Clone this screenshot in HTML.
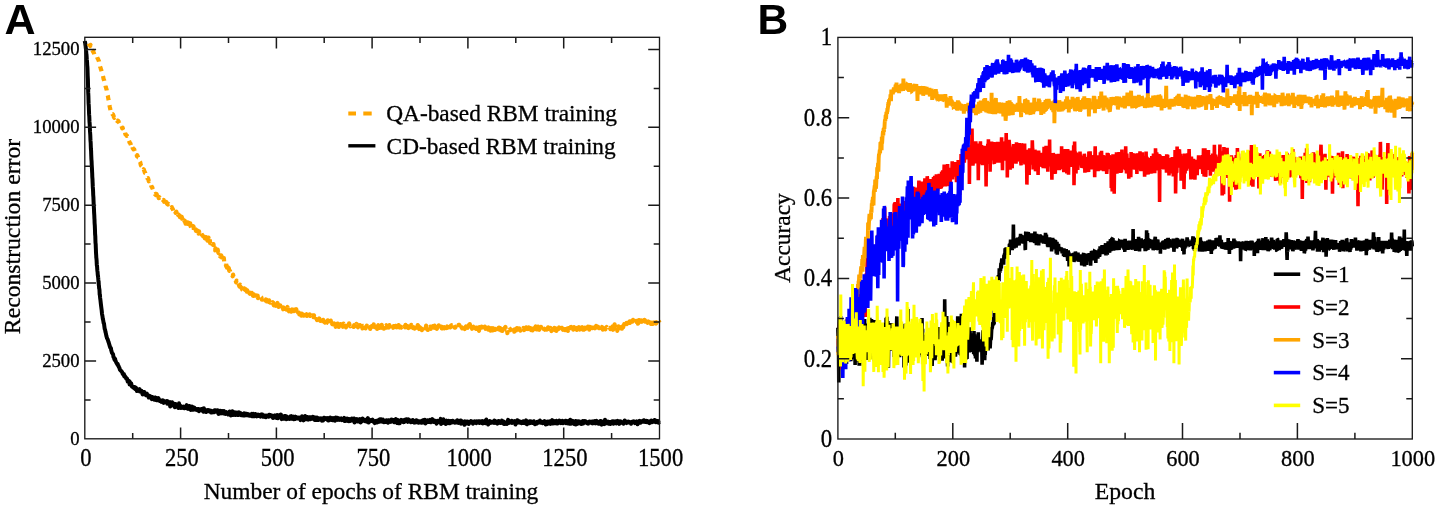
<!DOCTYPE html><html><head><meta charset="utf-8"><style>html,body{margin:0;padding:0;background:#fff;overflow:hidden}svg{display:block}text{-webkit-font-smoothing:antialiased}svg{will-change:transform}</style></head><body>
<svg width="1440" height="509" viewBox="0 0 1440 509">
<rect width="1440" height="509" fill="#fff"/>
<text x="4.6" y="33.9" font-family="Liberation Sans" font-weight="bold" font-size="43">A</text>
<text x="757.6" y="33.8" font-family="Liberation Sans" font-weight="bold" font-size="42.5">B</text>
<polyline fill="none" points="84.8,41 84.9,41.9 85.1,42.5 85.2,42.9 85.3,43.8 85.4,44.7 85.6,45.9 85.7,46.9 85.8,48.2 86,48.8 86.1,50.9 86.2,51.8 86.3,53.4 86.5,54.5 86.6,55.9 86.7,57.6 86.8,59.4 87,60.9 87.1,62.8 87.2,65.1 87.4,67 87.5,69.2 87.6,72.6 87.7,75.8 87.9,79.4 88,84 88.1,88.4 88.2,92.4 88.4,96.2 88.5,100.1 88.6,103.4 88.8,106 88.9,108.7 89,111.7 89.1,114.4 89.3,116.7 89.4,119.4 89.5,121.9 89.7,124 89.8,126.1 89.9,128.8 90,131.2 90.2,133.9 90.3,135.5 90.4,138.2 90.5,140.7 90.7,143 90.8,146.1 90.9,148.8 91.1,150.9 91.2,154.2 91.3,156.6 91.4,159.1 91.6,161.5 91.7,164.3 91.8,166 92,169.3 92.1,171.8 92.2,173.5 92.3,176.8 92.5,179.2 92.6,182.1 92.7,184.2 92.8,186.9 93,189.6 93.1,191.7 93.2,194.8 93.4,197.1 93.5,199.9 93.6,202.1 93.7,205.2 93.9,207.6 94,209.9 94.1,212.7 94.3,215.5 94.4,218.3 94.5,219.5 94.6,223.1 94.8,225.6 94.9,228.2 95,230.6 95.1,234.3 95.3,236.1 95.4,239.7 95.5,242.7 95.7,244.2 95.8,247.4 95.9,249.5 96,252.6 96.2,255.4 96.3,257.8 96.4,258.1 96.6,260.4 96.7,262.7 96.8,264.7 96.9,265.7 97.1,266.7 97.2,268.6 97.3,269.8 97.4,271 97.6,272.1 97.7,273.8 97.8,275 98,276 98.1,277.2 98.2,277.9 98.3,279.4 98.5,281.4 98.6,282 98.7,282.6 98.8,285.1 99,286 99.1,288.1 99.2,288.4 99.4,289.4 99.5,290.3 99.6,292.9 99.7,294.9 99.9,294.5 100,295.8 100.1,297.7 100.5,300.6 100.9,304.3 101.3,307.4 101.7,310.5 102,313.8 102.4,315.8 102.8,318.7 103.2,320.3 103.6,322.9 104,323.6 104.3,325.9 104.7,328.9 105.1,329.8 105.5,332.1 105.9,333.6 106.3,335.6 106.6,336.7 107,338.2 107.4,338.8 107.8,339.8 108.2,341 108.6,342.3 108.9,343.1 109.3,344.5 109.7,345.9 110.1,347.2 110.5,347.9 110.9,347.9 111.2,350.2 111.6,351.4 112,352.9 112.4,353.5 112.8,353.7 113.1,354.5 113.5,357.3 113.9,357.3 114.3,359 114.7,360 115.1,358.8 115.4,360.5 115.8,361.4 116.2,362.3 116.6,363.1 117,363.7 117.4,364.4 117.7,363.9 118.1,365.6 118.5,365.9 118.9,367.2 119.3,367.5 119.7,368.9 120,369.8 120.4,370 120.8,370.7 121.2,371.1 121.6,371.3 122,372.2 122.3,372.5 122.7,373.8 123.1,374.1 123.5,375.1 123.9,374.1 124.3,376.5 124.6,375.7 125,376.2 125.4,377.2 125.8,377.4 126.2,378.7 126.6,378.5 126.9,378.5 127.3,379.3 127.7,381.6 128.1,381 128.5,380.5 128.9,382 129.2,381.1 129.6,384.5 130,382 130.4,384.3 130.8,384.8 131.2,383.4 131.5,385.4 131.9,386.4 132.3,386.3 132.7,386.5 133.1,387.4 133.5,387 133.8,387.5 134.2,387.4 134.6,388.4 135,387.2 135.4,389.1 135.8,388.2 136.1,387.9 136.5,389.5 136.9,391 137.3,390.6 137.7,389.5 138.1,390.8 138.4,390 138.8,390.6 139.2,391 139.6,389.1 140,391.6 140.3,390.7 140.7,391.2 141.1,390.7 141.5,390.9 141.9,391.6 142.3,393.4 142.6,394.4 143,393.1 143.4,394.3 143.8,393.2 144.2,392 144.6,394 144.9,394.5 145.3,393.9 145.7,394.7 146.1,395.2 146.5,394.1 146.9,393.7 147.2,395 147.6,395.2 148,395.3 148.4,396.7 148.8,397.5 149.2,395.7 149.5,396.9 149.9,397.3 150.3,397.3 150.7,397.7 151.1,396.6 151.5,397.8 151.8,399.1 152.2,398.2 152.6,397.1 153,398.3 153.4,399.1 153.8,398.4 154.1,397.7 154.5,399.8 154.9,397.4 155.3,399.1 155.7,398.8 156.1,397.9 156.4,400.2 156.8,399.6 157.2,398.4 157.6,400.1 158,399.3 158.4,398.1 158.7,399.3 159.1,400.3 159.5,400.8 159.9,400.5 160.3,400.5 160.7,401 161,400.5 161.4,401.9 161.8,401.1 162.2,401.3 162.6,401.7 163,400.3 163.3,400.8 163.7,402.9 164.1,401.9 164.5,401.5 164.9,402.2 165.3,401.5 165.6,402.3 166,401.6 166.4,402.5 166.8,401 167.2,403.7 167.6,402.1 167.9,401.3 168.3,402.6 168.7,402.6 169.1,403.2 169.5,402.1 169.8,403.6 170.2,406.6 170.6,402.3 171,403.8 171.4,403.4 171.8,403.9 172.1,402.2 172.5,402.9 172.9,404.5 173.3,404.1 173.7,405.8 174.1,403.8 174.4,404.7 174.8,407.2 175.2,404 175.6,404 176,404.9 176.4,405 176.7,405.9 177.1,405.4 177.5,404.7 177.9,405.7 178.3,408 178.7,406.8 179,403.3 179.4,405.8 179.8,405.2 180.2,406.7 180.6,406 181,408 181.3,407.2 181.7,407.3 182.1,406.8 182.5,406.7 182.9,407.1 183.3,408 183.6,407.4 184,406.7 184.4,408.3 184.8,407.4 185.2,407.2 185.6,406.7 185.9,407 186.3,407 186.7,405.1 187.1,408.6 187.5,408.3 187.9,407.6 188.2,408.9 188.6,408.4 189,408.4 189.4,405.9 189.8,408 190.2,408.7 190.5,409.8 190.9,410 191.3,409.7 191.7,407.5 192.1,406.6 192.5,409.2 192.8,408.7 193.2,409.6 193.6,408.7 194,409.1 194.4,407.6 194.8,409.4 195.1,408.7 195.5,409.4 195.9,409.6 196.3,409.1 196.7,409.6 197,409.3 197.4,410.1 197.8,409.9 198.2,409 198.6,409 199,411.2 199.3,409.6 199.7,410.6 200.1,410.1 200.5,409.3 200.9,409.2 201.3,410 201.6,410.2 202,410.6 202.4,408.9 202.8,409.6 203.2,410.1 203.6,411.7 203.9,408.2 204.3,410.7 204.7,409.9 205.1,410.8 205.5,410 205.9,410.9 206.2,412 206.6,410.9 207,411.1 207.4,411.1 207.8,410.1 208.2,411.3 208.5,410.7 208.9,410.2 209.3,410.9 209.7,410.8 210.1,411.7 210.5,411 210.8,410.6 211.2,412.5 211.6,412.1 212,412.4 212.4,411.8 212.8,411.2 213.1,411 213.5,411.2 213.9,412.3 214.3,411.6 214.7,410.2 215.1,411.6 215.4,410.4 215.8,411.8 216.2,410.6 216.6,410.6 217,411.9 217.4,411.8 217.7,410.4 218.1,412.6 218.5,413.9 218.9,410.7 219.3,413.7 219.7,411.5 220,411.7 220.4,412 220.8,410.9 221.2,413.4 221.6,412.8 221.9,411.7 222.3,412.1 222.7,411.1 223.1,412.2 223.5,413.4 223.9,411 224.2,412.2 224.6,412.8 225,413.6 225.4,413.9 225.8,412.4 226.2,412.1 226.5,413.3 226.9,412.6 227.3,412.7 227.7,414 228.1,414.5 228.5,413.3 228.8,412.9 229.2,413.7 229.6,411.5 230,413.2 230.4,412.3 230.8,415.5 231.1,414 231.5,413.5 231.9,413.3 232.3,411.2 232.7,414.2 233.1,415 233.4,412.9 233.8,414.2 234.2,414.3 234.6,412.3 235,414.6 235.4,415 235.7,414 236.1,413.8 236.5,414.6 236.9,412.5 237.3,414.1 237.7,415 238,412.9 238.4,415 238.8,413.7 239.2,412.3 239.6,414.1 240,413.3 240.3,414.5 240.7,413.2 241.1,415.2 241.5,413.7 241.9,414.7 242.3,413.9 242.6,414.1 243,415.5 243.4,414.7 243.8,414.2 244.2,413.4 244.6,415.6 244.9,415.2 245.3,414.3 245.7,414.9 246.1,413.7 246.5,413.8 246.9,414 247.2,415.1 247.6,415 248,414.1 248.4,415.5 248.8,415.6 249.2,415 249.5,415.8 249.9,414.7 250.3,414.8 250.7,415.4 251.1,415 251.4,415.7 251.8,413.9 252.2,416.3 252.6,414.4 253,415 253.4,413.9 253.7,415.7 254.1,416.3 254.5,416.2 254.9,416 255.3,413.9 255.7,414.6 256,414.9 256.4,414.5 256.8,416.4 257.2,415.5 257.6,415.4 258,415.9 258.3,414.6 258.7,414.7 259.1,414.7 259.5,416 259.9,415.9 260.3,416.1 260.6,416.6 261,414.4 261.4,415.1 261.8,415.8 262.2,414.5 262.6,415.2 262.9,416.7 263.3,416.8 263.7,416.8 264.1,415.9 264.5,415.7 264.9,416.9 265.2,415.6 265.6,416.2 266,417.2 266.4,415.7 266.8,415.5 267.2,416 267.5,416.6 267.9,416.5 268.3,416.3 268.7,416.6 269.1,414.7 269.5,415.4 269.8,416.4 270.2,415.4 270.6,415.1 271,415.2 271.4,415.5 271.8,416.2 272.1,415.5 272.5,416.6 272.9,418 273.3,416.3 273.7,417.6 274.1,416.8 274.4,415.5 274.8,416.3 275.2,415.7 275.6,417.3 276,415.6 276.4,417.9 276.7,417.2 277.1,414.9 277.5,417.4 277.9,418.2 278.3,416.1 278.6,417.7 279,415.2 279.4,417.1 279.8,415.4 280.2,417.4 280.6,415.3 280.9,414.6 281.3,417.4 281.7,419.1 282.1,416.5 282.5,417.8 282.9,417.2 283.2,416.8 283.6,417.7 284,418.7 284.4,416.1 284.8,417.7 285.2,417.6 285.5,416 285.9,418.8 286.3,419.1 286.7,416.5 287.1,419 287.5,417.5 287.8,417.3 288.2,418.8 288.6,417.7 289,417.8 289.4,418.9 289.8,418.7 290.1,418.4 290.5,416.4 290.9,416.2 291.3,418.7 291.7,416.9 292.1,417.8 292.4,416.8 292.8,417.6 293.2,416.6 293.6,419.3 294,416.9 294.4,417.7 294.7,417.7 295.1,419 295.5,416.6 295.9,417.9 296.3,417.7 296.7,418.4 297,418.4 297.4,417.6 297.8,418.2 298.2,417.7 298.6,418.5 299,418 299.3,417.5 299.7,418.1 300.1,418.4 300.5,420.1 300.9,417.7 301.3,418.4 301.6,419.5 302,416.3 302.4,416.6 302.8,417.1 303.2,418.1 303.6,420.4 303.9,418.6 304.3,419.3 304.7,418 305.1,416 305.5,416.2 305.8,419.2 306.2,418.5 306.6,417.1 307,419.3 307.4,416.9 307.8,419.3 308.1,419.6 308.5,417.7 308.9,417.4 309.3,419.1 309.7,417.4 310.1,419.2 310.4,417.3 310.8,419.1 311.2,418.5 311.6,418 312,417.6 312.4,418.7 312.7,416.7 313.1,418.2 313.5,418.1 313.9,419.1 314.3,417.4 314.7,420 315,418.2 315.4,417.5 315.8,419.8 316.2,420 316.6,418.4 317,417.7 317.3,418.6 317.7,417.9 318.1,418.3 318.5,420 318.9,418.9 319.3,418.7 319.6,418.9 320,418.6 320.4,419.4 320.8,419.4 321.2,418.3 321.6,418.7 321.9,420.8 322.3,419 322.7,418.5 323.1,420.5 323.5,418.7 323.9,417.7 324.2,419.3 324.6,417.9 325,418.3 325.4,419 325.8,418.6 326.2,418.1 326.5,418.3 326.9,418.2 327.3,419.8 327.7,418.1 328.1,418.3 328.5,420.6 328.8,418.3 329.2,420.2 329.6,420 330,418.7 330.4,417.6 330.8,419.3 331.1,419.5 331.5,419.8 331.9,419 332.3,420 332.7,420.2 333,418 333.4,420.2 333.8,419.1 334.2,418.5 334.6,418.7 335,420.7 335.3,419.9 335.7,417.4 336.1,419.1 336.5,419 336.9,418.9 337.3,418.6 337.6,417.8 338,419.9 338.4,418.3 338.8,418.8 339.2,418.6 339.6,418.6 339.9,419.9 340.3,419.6 340.7,418.7 341.1,418.4 341.5,418.9 341.9,420.2 342.2,419.5 342.6,419.6 343,419.2 343.4,419.3 343.8,419.7 344.2,417.9 344.5,421 344.9,418.9 345.3,419.2 345.7,420.9 346.1,419.9 346.5,419.8 346.8,419.3 347.2,418.5 347.6,420.1 348,421 348.4,419.2 348.8,421.2 349.1,419 349.5,419.4 349.9,420.6 350.3,420.1 350.7,420.8 351.1,419.5 351.4,419.3 351.8,418.6 352.2,419.2 352.6,419.3 353,419 353.4,420.6 353.7,419.7 354.1,418.5 354.5,422.6 354.9,419.6 355.3,419.2 355.7,421.5 356,421.4 356.4,419.4 356.8,419.1 357.2,419.5 357.6,421.4 357.9,420.2 358.3,419.7 358.7,420.4 359.1,421.5 359.5,419.2 359.9,420.1 360.2,419.2 360.6,422.4 361,422.1 361.4,421.4 361.8,420.4 362.2,421.1 362.5,418.6 362.9,420.8 363.3,419.3 363.7,419.4 364.1,419.9 364.5,420.3 364.8,421.1 365.2,421.2 365.6,420.8 366,419.8 366.4,421.2 366.8,420.5 367.1,421.7 367.5,419.8 367.9,418.1 368.3,420.2 368.7,422.6 369.1,421.1 369.4,420.5 369.8,421.5 370.2,421.1 370.6,421.1 371,420.2 371.4,420.8 371.7,420.9 372.1,420.1 372.5,419.7 372.9,420.8 373.3,421.6 373.7,421.3 374,421.2 374.4,421.2 374.8,423.1 375.2,421 375.6,421.7 376,422.5 376.3,420.8 376.7,421 377.1,421.7 377.5,422.3 377.9,421.1 378.3,421.1 378.6,420.9 379,419.7 379.4,421.8 379.8,420.6 380.2,419.3 380.6,420.7 380.9,419.3 381.3,419.9 381.7,420.8 382.1,420 382.5,421.8 382.9,419.5 383.2,421.1 383.6,421.3 384,422.2 384.4,421.7 384.8,421.1 385.1,420.9 385.5,420.8 385.9,421.9 386.3,420.3 386.7,421.4 387.1,420.8 387.4,421.1 387.8,420.7 388.2,422.8 388.6,420.3 389,421.1 389.4,421.2 389.7,421.5 390.1,421.3 390.5,421.3 390.9,421.8 391.3,419.6 391.7,421 392,419.9 392.4,421.2 392.8,419.9 393.2,420.1 393.6,420.9 394,422.3 394.3,421.5 394.7,421.3 395.1,422.3 395.5,420.2 395.9,419.1 396.3,420.7 396.6,420.8 397,422.2 397.4,423 397.8,419.9 398.2,423.3 398.6,422.5 398.9,421.8 399.3,421.4 399.7,423.3 400.1,421.2 400.5,420.7 400.9,421.2 401.2,419.9 401.6,421.5 402,421 402.4,421.4 402.8,421.5 403.2,420.2 403.5,422.3 403.9,420.3 404.3,422 404.7,419.7 405.1,421.5 405.5,420.5 405.8,421.2 406.2,420.6 406.6,419.2 407,420.2 407.4,421.3 407.8,421.8 408.1,419.9 408.5,419.3 408.9,420.5 409.3,421.1 409.7,420.7 410.1,420.5 410.4,422 410.8,422.2 411.2,422 411.6,420.5 412,421.4 412.4,421.1 412.7,420 413.1,422.1 413.5,421.4 413.9,420.9 414.3,422.6 414.6,422 415,422.1 415.4,422.4 415.8,422 416.2,420.2 416.6,421 416.9,422.3 417.3,420.7 417.7,421.4 418.1,421.8 418.5,422.7 418.9,422.6 419.2,422.2 419.6,421.3 420,422.3 420.4,421.9 420.8,421.3 421.2,422.7 421.5,421.9 421.9,420.8 422.3,422.6 422.7,421.3 423.1,422 423.5,420.1 423.8,421.5 424.2,420.7 424.6,420.6 425,419.8 425.4,423.5 425.8,421.4 426.1,421.8 426.5,422.5 426.9,421.4 427.3,422 427.7,420.3 428.1,421.7 428.4,421.2 428.8,422 429.2,421.8 429.6,420.3 430,419.9 430.4,420.7 430.7,422.3 431.1,422 431.5,422 431.9,419.8 432.3,419.2 432.7,421.1 433,421.3 433.4,421.1 433.8,422 434.2,421.5 434.6,420.6 435,420.9 435.3,421.8 435.7,421.8 436.1,421.6 436.5,423.7 436.9,421.5 437.3,421.8 437.6,420.8 438,421.4 438.4,422.2 438.8,422.2 439.2,421.6 439.6,422.1 439.9,421.8 440.3,420.1 440.7,418.8 441.1,423.9 441.5,422.5 441.8,421.7 442.2,420.2 442.6,420.7 443,423 443.4,419.3 443.8,421.5 444.1,422.6 444.5,422 444.9,422.5 445.3,421.7 445.7,424 446.1,420.9 446.4,420.6 446.8,422.1 447.2,423.2 447.6,421.8 448,422.8 448.4,421.4 448.7,420.8 449.1,423.2 449.5,423.3 449.9,423.3 450.3,421.5 450.7,420.9 451,420.9 451.4,421.8 451.8,422.5 452.2,422.4 452.6,420.7 453,422.2 453.3,422 453.7,422.1 454.1,422 454.5,421.8 454.9,422.6 455.3,422.1 455.6,422.2 456,421.4 456.4,422.4 456.8,421.9 457.2,420.2 457.6,422.5 457.9,421.8 458.3,422.9 458.7,421.9 459.1,422 459.5,422.3 459.9,422.1 460.2,421.7 460.6,420.5 461,423.8 461.4,420.7 461.8,421.8 462.2,422.7 462.5,422.5 462.9,422.7 463.3,422.8 463.7,423.3 464.1,422.4 464.5,424.8 464.8,421.2 465.2,422.4 465.6,421.8 466,421.7 466.4,422.4 466.8,423.5 467.1,421.5 467.5,421.5 467.9,422.8 468.3,422.7 468.7,424 469,423.1 469.4,422.4 469.8,421.9 470.2,422.4 470.6,422 471,421 471.3,422.2 471.7,422.1 472.1,422 472.5,421.8 472.9,423.7 473.3,422.8 473.6,423.1 474,421.7 474.4,421.3 474.8,422 475.2,422.4 475.6,421.9 475.9,422.1 476.3,423.1 476.7,422.5 477.1,421.3 477.5,421.8 477.9,421.6 478.2,422.4 478.6,421.2 479,422.1 479.4,422.9 479.8,422.3 480.2,421.4 480.5,421.7 480.9,422.4 481.3,422.7 481.7,423 482.1,422.1 482.5,421.1 482.8,423.5 483.2,422.5 483.6,422.6 484,422.5 484.4,421.3 484.8,422 485.1,422.5 485.5,423.2 485.9,422.3 486.3,419.5 486.7,422.1 487.1,422.6 487.4,423.4 487.8,422.9 488.2,424.5 488.6,423.6 489,423.5 489.4,423.1 489.7,421 490.1,423 490.5,422.8 490.9,421.8 491.3,422.8 491.7,422.7 492,421.9 492.4,422.2 492.8,422.1 493.2,422.5 493.6,421.9 494,422.8 494.3,420.6 494.7,422.1 495.1,420.8 495.5,421.9 495.9,422.8 496.2,422.3 496.6,422.2 497,422.4 497.4,423.7 497.8,421.3 498.2,423.1 498.5,421 498.9,421.9 499.3,422.5 499.7,421.6 500.1,422.5 500.5,423 500.8,421.3 501.2,422.3 501.6,422 502,420.6 502.4,422.2 502.8,421.6 503.1,423.5 503.5,421.5 503.9,423.9 504.3,421.9 504.7,424.1 505.1,422.8 505.4,422.8 505.8,423.1 506.2,423.2 506.6,423.6 507,423.9 507.4,422 507.7,421.2 508.1,419.9 508.5,422 508.9,423 509.3,422.7 509.7,422.5 510,422 510.4,421.8 510.8,422.1 511.2,422.7 511.6,420.8 512,423 512.3,421.1 512.7,422.2 513.1,421.8 513.5,422 513.9,421.4 514.3,421.3 514.6,422.2 515,421.4 515.4,424.6 515.8,422 516.2,421.8 516.6,421.9 516.9,421.4 517.3,420.2 517.7,422.1 518.1,422.7 518.5,421 518.9,422.4 519.2,421.3 519.6,422.3 520,422.7 520.4,422.8 520.8,422.8 521.2,421.8 521.5,423.2 521.9,422 522.3,422.7 522.7,423 523.1,422.1 523.4,421.2 523.8,422.9 524.2,421.4 524.6,421.6 525,421.4 525.4,423.2 525.7,422.2 526.1,420.4 526.5,423.1 526.9,424.3 527.3,424 527.7,421.9 528,422.5 528.4,422.9 528.8,423.2 529.2,422.4 529.6,421.4 530,423.1 530.3,423 530.7,421.2 531.1,422.1 531.5,422.7 531.9,422.4 532.3,422.9 532.6,423.1 533,422.9 533.4,422.3 533.8,421.2 534.2,423 534.6,423.7 534.9,424.2 535.3,422.4 535.7,422.4 536.1,423.7 536.5,423.7 536.9,422.7 537.2,423.1 537.6,421.7 538,422.9 538.4,421.7 538.8,422.3 539.2,422.3 539.5,422 539.9,420.5 540.3,421.7 540.7,422.7 541.1,422.4 541.5,422.1 541.8,422.8 542.2,423 542.6,423.2 543,421.7 543.4,422.4 543.8,422.1 544.1,421.6 544.5,421.1 544.9,422.3 545.3,421.6 545.7,424.4 546.1,422.3 546.4,422.2 546.8,422.1 547.2,424.1 547.6,421.6 548,422.3 548.4,421.7 548.7,422.3 549.1,422.4 549.5,423.4 549.9,421.2 550.3,422.4 550.6,423.9 551,422 551.4,422.3 551.8,421.6 552.2,420.1 552.6,422.4 552.9,423.5 553.3,422 553.7,420.8 554.1,422.7 554.5,422.5 554.9,423.3 555.2,423.3 555.6,422.2 556,422.8 556.4,420.8 556.8,423.5 557.2,422.6 557.5,423.4 557.9,423.4 558.3,422.2 558.7,422.3 559.1,421.7 559.5,420.6 559.8,422.3 560.2,422.6 560.6,421.5 561,423.1 561.4,422.5 561.8,422.9 562.1,421.8 562.5,420.9 562.9,423.2 563.3,423 563.7,422.4 564.1,422.1 564.4,422.2 564.8,422.3 565.2,422 565.6,420.7 566,423.2 566.4,421.1 566.7,422.2 567.1,422.2 567.5,422.7 567.9,421 568.3,423.6 568.7,423.1 569,423.2 569.4,423.6 569.8,421.8 570.2,419.7 570.6,422.8 571,423.7 571.3,423.5 571.7,422 572.1,422.4 572.5,422.7 572.9,420.9 573.3,421.9 573.6,421.9 574,423.9 574.4,421.9 574.8,423.9 575.2,422.5 575.6,421 575.9,424.5 576.3,421.6 576.7,423 577.1,424 577.5,422 577.9,421.4 578.2,423.4 578.6,422.6 579,421.4 579.4,421.5 579.8,422.1 580.1,423.4 580.5,422.2 580.9,423.1 581.3,424 581.7,423.6 582.1,423.8 582.4,423.6 582.8,421 583.2,423.6 583.6,422.8 584,422.4 584.4,421.5 584.7,421.1 585.1,421.5 585.5,422.5 585.9,421.4 586.3,421.8 586.7,421.9 587,423.1 587.4,422.2 587.8,422.4 588.2,423.7 588.6,422.2 589,423 589.3,421.5 589.7,422.8 590.1,422.6 590.5,422.7 590.9,422.1 591.3,421.6 591.6,422.2 592,422.1 592.4,423.4 592.8,423.3 593.2,421.4 593.6,423.1 593.9,422.1 594.3,422.9 594.7,422.1 595.1,421.2 595.5,423.4 595.9,422.9 596.2,421.4 596.6,420.8 597,422 597.4,421.4 597.8,422.2 598.2,423.1 598.5,423.8 598.9,422.2 599.3,423.7 599.7,423.5 600.1,422.1 600.5,421 600.8,423.3 601.2,423 601.6,424.6 602,423.8 602.4,423.2 602.8,424 603.1,421.6 603.5,422.7 603.9,422.2 604.3,424.1 604.7,423 605,419.7 605.4,423.7 605.8,421.7 606.2,423.2 606.6,422 607,422.7 607.3,423 607.7,422.6 608.1,421.6 608.5,423.7 608.9,422.8 609.3,422.4 609.6,423.1 610,422 610.4,424.1 610.8,422.6 611.2,422.8 611.6,422.7 611.9,421.6 612.3,421.4 612.7,422.6 613.1,422.7 613.5,423.6 613.9,422.8 614.2,421.4 614.6,422.9 615,423.1 615.4,423.3 615.8,422.7 616.2,421.3 616.5,423.4 616.9,421.7 617.3,422.9 617.7,420.9 618.1,423 618.5,421.6 618.8,423.3 619.2,423.9 619.6,423.4 620,421.3 620.4,421.4 620.8,421.5 621.1,422.9 621.5,422.6 621.9,422.4 622.3,422.5 622.7,422.8 623.1,422.8 623.4,423.8 623.8,422.2 624.2,422.4 624.6,420.5 625,421 625.4,421.6 625.7,421.1 626.1,422.4 626.5,423.1 626.9,421.8 627.3,421.7 627.7,421.7 628,422.3 628.4,421.6 628.8,422.5 629.2,422.4 629.6,422.4 630,422.8 630.3,422.1 630.7,422.2 631.1,423.7 631.5,422 631.9,422.8 632.2,422.1 632.6,421.6 633,421.6 633.4,421.3 633.8,422 634.2,421.5 634.5,421.6 634.9,423.1 635.3,421.9 635.7,423 636.1,422.2 636.5,422.7 636.8,421.4 637.2,422.1 637.6,424.3 638,422.7 638.4,422.8 638.8,422.1 639.1,422.7 639.5,420.9 639.9,421.1 640.3,422.3 640.7,422.6 641.1,421.5 641.4,421.7 641.8,421.5 642.2,421.7 642.6,420.8 643,420.5 643.4,421.8 643.7,420.3 644.1,420.9 644.5,421.2 644.9,420.9 645.3,422 645.7,421.4 646,421.7 646.4,420.9 646.8,421.1 647.2,422.2 647.6,422.1 648,421.3 648.3,422 648.7,421.9 649.1,421.8 649.5,423.1 649.9,421.3 650.3,422.1 650.6,422 651,421.4 651.4,420.6 651.8,422.3 652.2,421.9 652.6,421.7 652.9,421.6 653.3,421.6 653.7,420.8 654.1,421.8 654.5,420 654.9,421.5 655.2,420.2 655.6,421.2 656,422.2 656.4,421.3 656.8,421.1 657.2,422 657.5,421.3 657.9,421.1 658.3,421.1 658.7,422.8 659.1,422.1 659.5,421.9" stroke="#000" stroke-width="4" stroke-linejoin="round"/>
<polyline fill="none" points="88.6,43.6 89,44.5 89.4,44.8 89.8,45.1 90.2,46 90.5,44.9 90.9,46.1 91.3,46.6 91.7,48.1 92.1,49.6 92.5,50 92.8,51.2 93.2,50.9 93.6,52.8 94,53.2 94.4,55 94.8,54.8 95.1,55.1 95.5,54.8 95.9,55.4 96.3,55.8 96.7,56.2 97.1,57 97.4,58 97.8,58.6 98.2,59.5 98.6,60.5 99,61.1 99.4,63.3 99.7,63.7 100.1,66.6 100.5,67.5 100.9,69.2 101.3,70.1 101.7,72 102,73.1 102.4,74.5 102.8,75.4 103.2,76.9 103.6,79.1 104,79.8 104.3,80.8 104.7,83.1 105.1,84 105.5,85.8 105.9,87.4 106.3,88.6 106.6,89.6 107,92.2 107.4,94.5 107.8,95.7 108.2,98 108.6,100.1 108.9,101.3 109.3,104.3 109.7,106.5 110.1,108.3 110.5,110.3 110.9,111.5 111.2,112.9 111.6,112.5 112,113.2 112.4,114.2 112.8,114.2 113.1,114.6 113.5,115.7 113.9,117.1 114.3,117.9 114.7,117.1 115.1,117.3 115.4,118.6 115.8,119 116.2,119.5 116.6,120.3 117,121 117.4,120.8 117.7,121.4 118.1,120.8 118.5,121.2 118.9,122.3 119.3,123.2 119.7,123.9 120,124.5 120.4,125.2 120.8,125.9 121.2,125.1 121.6,126.3 122,127.6 122.3,128.4 122.7,127.8 123.1,130 123.5,129.7 123.9,130.6 124.3,131.7 124.6,132.7 125,132.2 125.4,134.3 125.8,134.6 126.2,134.8 126.6,135.9 126.9,135.6 127.3,137.2 127.7,138.4 128.1,138.7 128.5,139.6 128.9,140.5 129.2,141.3 129.6,142.7 130,142.8 130.4,143.4 130.8,144.6 131.2,146.1 131.5,145.3 131.9,146.4 132.3,145.9 132.7,148.2 133.1,148.4 133.5,149.4 133.8,149.2 134.2,149.3 134.6,151 135,151.6 135.4,151.3 135.8,151.5 136.1,153.3 136.5,153.5 136.9,156.1 137.3,155.2 137.7,156.2 138.1,157.4 138.4,157.5 138.8,158.9 139.2,161.3 139.6,161.3 140,161.9 140.3,162.5 140.7,164.6 141.1,165.6 141.5,166.1 141.9,166.5 142.3,167.7 142.6,168.5 143,168.6 143.4,170.2 143.8,169.3 144.2,170.6 144.6,171.9 144.9,172.8 145.3,172.9 145.7,174.6 146.1,175.7 146.5,176.2 146.9,176.8 147.2,177.9 147.6,178.4 148,178.2 148.4,179.6 148.8,181.3 149.2,180.7 149.5,182.2 149.9,182.8 150.3,183.3 150.7,184 151.1,185.5 151.5,186.5 151.8,187.3 152.2,187.1 152.6,188.6 153,189.8 153.4,191 153.8,191.7 154.1,192.6 154.5,193.6 154.9,194.3 155.3,194 155.7,195 156.1,194.8 156.4,193.9 156.8,194.6 157.2,197.4 157.6,195.5 158,195 158.4,196.4 158.7,198.1 159.1,197.3 159.5,197.8 159.9,197.6 160.3,198 160.7,199.2 161,199.2 161.4,198.8 161.8,199.7 162.2,200.1 162.6,199.5 163,200.2 163.3,200.5 163.7,200.1 164.1,201.8 164.5,201.1 164.9,201.1 165.3,200.6 165.6,201.2 166,203.7 166.4,202 166.8,203.5 167.2,203.2 167.5,204.2 167.9,204.6 168.3,203.8 168.7,204.5 169.1,205.1 169.5,205.5 169.8,205.7 170.2,205.9 170.6,207 171,208 171.4,207.7 171.8,207.1 172.1,208.4 172.5,208.5 172.9,209.2 173.3,210.7 173.7,209.4 174.1,210 174.4,209.6 174.8,210.5 175.2,210.6 175.6,212.9 176,212.1 176.4,211.8 176.7,214.3 177.1,212 177.5,214.3 177.9,214.9 178.3,215 178.7,214.7 179,215.2 179.4,215.5 179.8,217 180.2,214.6 180.6,216.7 181,217.7 181.3,217.5 181.7,216.8 182.1,218.7 182.5,218.7 182.9,220.6 183.3,221.6 183.6,220.8 184,219.2 184.4,221.1 184.8,220.7 185.2,222.4 185.6,223.7 185.9,222.6 186.3,224.5 186.7,224.3 187.1,223.8 187.5,222.5 187.9,223.8 188.2,222.5 188.6,225.2 189,224.6 189.4,226.1 189.8,225.3 190.2,223.3 190.5,226.2 190.9,226.7 191.3,227.8 191.7,225.4 192.1,225.7 192.5,227 192.8,226.1 193.2,226.1 193.6,226.7 194,230.8 194.4,227.7 194.7,227.6 195.1,228.4 195.5,229.2 195.9,230.8 196.3,230.7 196.7,230.8 197,230.3 197.4,230.7 197.8,230.2 198.2,229.5 198.6,233.6 199,231.2 199.3,233.1 199.7,231.9 200.1,232.4 200.5,232.7 200.9,231.7 201.3,233.5 201.6,234.3 202,235.1 202.4,235.1 202.8,236 203.2,235.6 203.6,235.6 203.9,233.7 204.3,235.7 204.7,238.3 205.1,237 205.5,238.1 205.9,237.4 206.2,237.2 206.6,240.5 207,239 207.4,240.6 207.8,239.9 208.2,239.3 208.5,237.5 208.9,240.4 209.3,238.9 209.7,238.6 210.1,243 210.5,243 210.8,243.5 211.2,243.4 211.6,243.9 212,245 212.4,245.2 212.8,245.7 213.1,247 213.5,244.1 213.9,248.4 214.3,247.3 214.7,249.4 215.1,250.2 215.4,248.4 215.8,250.6 216.2,251.1 216.6,249.9 217,250.5 217.4,251.6 217.7,249.5 218.1,251.9 218.5,253 218.9,252.8 219.3,252 219.7,253.8 220,256.3 220.4,256.5 220.8,255.4 221.2,255.3 221.6,256.9 221.9,257.5 222.3,257.4 222.7,258.4 223.1,260.1 223.5,261.1 223.9,258.1 224.2,262.5 224.6,262.2 225,263.9 225.4,263.3 225.8,264.5 226.2,266.4 226.5,262 226.9,267.7 227.3,266.8 227.7,265.2 228.1,264.9 228.5,268.8 228.8,268 229.2,270.8 229.6,270.6 230,270.9 230.4,272.7 230.8,272.5 231.1,273.7 231.5,274.5 231.9,274.6 232.3,275.7 232.7,276.3 233.1,274.6 233.4,276.4 233.8,277.3 234.2,277.6 234.6,276.9 235,278.6 235.4,280.1 235.7,280.5 236.1,282.4 236.5,280.6 236.9,281.3 237.3,281.6 237.7,282.4 238,282.6 238.4,281.7 238.8,284.7 239.2,285.9 239.6,286.6 240,284.6 240.3,286.1 240.7,288.9 241.1,287.2 241.5,288.2 241.9,288.2 242.3,289.7 242.6,289.9 243,291.6 243.4,289.9 243.8,290 244.2,288.4 244.6,289.5 244.9,289.5 245.3,290.1 245.7,289.2 246.1,292.3 246.5,290 246.9,291.7 247.2,290.2 247.6,292.2 248,293.9 248.4,291.4 248.8,292.9 249.1,292.7 249.5,293.3 249.9,293.7 250.3,292.8 250.7,293.5 251.1,293.3 251.4,293.2 251.8,293 252.2,295.7 252.6,294 253,295.8 253.4,295.9 253.7,294.4 254.1,296.8 254.5,294.9 254.9,296.7 255.3,297.7 255.7,295.5 256,295.4 256.4,295.6 256.8,299.3 257.2,296.5 257.6,295.7 258,298.1 258.3,297.2 258.7,297.5 259.1,296.6 259.5,295.4 259.9,297.1 260.3,297 260.6,296.5 261,297.2 261.4,297.5 261.8,299.6 262.2,299.6 262.6,299.6 262.9,298.6 263.3,297.9 263.7,299.8 264.1,300.1 264.5,300.9 264.9,299.9 265.2,299.9 265.6,300.6 266,299.4 266.4,299.7 266.8,301.4 267.2,299.5 267.5,300.9 267.9,302 268.3,301.6 268.7,301.9 269.1,300.4 269.5,301.6 269.8,301.6 270.2,302.7 270.6,302.7 271,302.4 271.4,304.6 271.8,303.3 272.1,302.5 272.5,302.3 272.9,303.1 273.3,302.7 273.7,305.3 274.1,304.2 274.4,303.4 274.8,303.2 275.2,302.9 275.6,303.9 276,305.8 276.4,305.5 276.7,304.6 277.1,305 277.5,303 277.9,306 278.3,305.1 278.6,307 279,305.4 279.4,305.3 279.8,306.2 280.2,305.4 280.6,307.7 280.9,306.7 281.3,307 281.7,307.1 282.1,306.5 282.5,307.6 282.9,307.4 283.2,309.3 283.6,307.6 284,308.1 284.4,307.3 284.8,307.6 285.2,307.8 285.5,309.7 285.9,308.5 286.3,309.7 286.7,308.5 287.1,308.5 287.5,307 287.8,310.1 288.2,311.7 288.6,309.3 289,311.3 289.4,310.8 289.8,309.2 290.1,310.9 290.5,309.2 290.9,310 291.3,311.7 291.7,310.7 292.1,309.4 292.4,312.3 292.8,309.7 293.2,310.8 293.6,310.7 294,311 294.4,310.4 294.7,309.7 295.1,313.6 295.5,310.7 295.9,310.8 296.3,309.2 296.7,312.1 297,313.6 297.4,313.8 297.8,315.4 298.2,314.2 298.6,313.1 299,312.8 299.3,314.4 299.7,312.9 300.1,313.3 300.5,312.2 300.9,313.4 301.3,315.6 301.6,313.5 302,314.1 302.4,311.1 302.8,315.4 303.2,314.4 303.6,315.7 303.9,314.5 304.3,313.4 304.7,313 305.1,315.1 305.5,314.6 305.8,313.7 306.2,314.8 306.6,314.3 307,315.9 307.4,314.8 307.8,314 308.1,315.3 308.5,314.9 308.9,317.3 309.3,315.2 309.7,314.4 310.1,315.9 310.4,315.8 310.8,316.5 311.2,316.5 311.6,315.2 312,316.4 312.4,316.5 312.7,315.4 313.1,316.2 313.5,317.2 313.9,315.4 314.3,316.1 314.7,316.9 315,317.5 315.4,318.3 315.8,316.4 316.2,318.4 316.6,318.9 317,320 317.3,318 317.7,317.6 318.1,317.1 318.5,319.6 318.9,320.5 319.3,318.5 319.6,319.9 320,320.5 320.4,320.8 320.8,319.5 321.2,320.8 321.6,320.2 321.9,319.4 322.3,320.8 322.7,321.1 323.1,319.8 323.5,321.5 323.9,323.4 324.2,319.7 324.6,322.3 325,322.6 325.4,321.8 325.8,322.2 326.2,321.7 326.5,323.6 326.9,321.1 327.3,322.1 327.7,320.3 328.1,322.9 328.5,323 328.8,320.9 329.2,321.9 329.6,323.5 330,322.5 330.4,321.9 330.8,320.6 331.1,323.8 331.5,325.7 331.9,323.1 332.3,324.2 332.7,324.3 333,323.9 333.4,324.2 333.8,324.3 334.2,323.4 334.6,327.2 335,327.6 335.3,325 335.7,326.8 336.1,324 336.5,324.7 336.9,326.2 337.3,323.7 337.6,323.6 338,325.4 338.4,322.8 338.8,326.9 339.2,325.9 339.6,325.3 339.9,325.8 340.3,324.1 340.7,324.1 341.1,326.1 341.5,326.2 341.9,325.3 342.2,325.1 342.6,324.6 343,326.8 343.4,323.6 343.8,324.3 344.2,324.7 344.5,323.6 344.9,323.8 345.3,324.2 345.7,326.4 346.1,327.3 346.5,325.7 346.8,323.6 347.2,324.7 347.6,325.2 348,325.1 348.4,325 348.8,326 349.1,323.3 349.5,324.8 349.9,325.7 350.3,326.3 350.7,325.8 351.1,325.5 351.4,325.4 351.8,324.8 352.2,325.7 352.6,325.4 353,324.8 353.4,326.9 353.7,326.9 354.1,325.2 354.5,326.3 354.9,327 355.3,326 355.7,325.8 356,326.3 356.4,323.9 356.8,324.2 357.2,326.3 357.6,326.1 358,327.3 358.3,325.3 358.7,327 359.1,327 359.5,328 359.9,325 360.2,325.5 360.6,326.2 361,326.2 361.4,324.8 361.8,325.3 362.2,324.5 362.5,328.5 362.9,325.9 363.3,326 363.7,325.3 364.1,326 364.5,326.9 364.8,325.7 365.2,326 365.6,328.5 366,327.1 366.4,326.4 366.8,325.6 367.1,326.1 367.5,325.3 367.9,326.4 368.3,325.4 368.7,325.4 369.1,325.7 369.4,325 369.8,326.4 370.2,329 370.6,325.5 371,324.4 371.4,327.3 371.7,326.1 372.1,328.4 372.5,326.7 372.9,327.3 373.3,325.4 373.7,324.5 374,326.1 374.4,327 374.8,325.4 375.2,324.6 375.6,325.7 376,325.8 376.3,326 376.7,326.3 377.1,329 377.5,326.4 377.9,325.8 378.3,325.2 378.6,327.3 379,324.7 379.4,328 379.8,326.4 380.2,324.8 380.6,326.6 380.9,326.3 381.3,327.8 381.7,324.8 382.1,326.7 382.5,326.5 382.9,327.5 383.2,325.3 383.6,325.7 384,328.7 384.4,327.2 384.8,324.9 385.2,326.9 385.5,325.7 385.9,325.8 386.3,325.3 386.7,327.7 387.1,326 387.4,326.8 387.8,326.7 388.2,325 388.6,325.8 389,327.5 389.4,325 389.7,327 390.1,326.6 390.5,327.4 390.9,327.5 391.3,327.6 391.7,326.8 392,327 392.4,326 392.8,326.2 393.2,327.8 393.6,326.1 394,327.9 394.3,327.9 394.7,326 395.1,327.5 395.5,326 395.9,327.2 396.3,326 396.6,327.3 397,327.1 397.4,325.8 397.8,329.2 398.2,328 398.6,325.2 398.9,327.3 399.3,326.5 399.7,329.2 400.1,326.9 400.5,327.4 400.9,326.8 401.2,327.7 401.6,326.5 402,326.1 402.4,326.5 402.8,326.6 403.2,327.8 403.5,327.2 403.9,326.6 404.3,326.7 404.7,326.1 405.1,327.3 405.5,324.9 405.8,326.9 406.2,328.5 406.6,326.8 407,326.5 407.4,327.3 407.8,326.2 408.1,326.4 408.5,328 408.9,326.6 409.3,329.4 409.7,327.9 410.1,327.2 410.4,326.6 410.8,327 411.2,324.8 411.6,327.6 412,328.3 412.4,328 412.7,326.9 413.1,328.1 413.5,328.1 413.9,327.3 414.3,327.8 414.6,328.6 415,327.9 415.4,327 415.8,327.5 416.2,327.6 416.6,325.7 416.9,327.6 417.3,327.4 417.7,325.1 418.1,325.6 418.5,329.5 418.9,327.6 419.2,329 419.6,327.1 420,329.3 420.4,328.2 420.8,326.8 421.2,327.8 421.5,329.2 421.9,330.1 422.3,328.1 422.7,327 423.1,326.5 423.5,328.2 423.8,328.7 424.2,327.6 424.6,327.3 425,328.3 425.4,328 425.8,327.9 426.1,325.7 426.5,327 426.9,329.5 427.3,327.4 427.7,330 428.1,327.8 428.4,327 428.8,327.6 429.2,328 429.6,326.5 430,327.6 430.4,326.8 430.7,328.9 431.1,326.8 431.5,327.4 431.9,325.6 432.3,325.7 432.7,327.1 433,326.2 433.4,326.9 433.8,327.4 434.2,327.8 434.6,325.6 435,326.9 435.3,327.9 435.7,326.4 436.1,325.7 436.5,326.3 436.9,328.9 437.3,327.1 437.6,328.8 438,326.7 438.4,328.4 438.8,325.4 439.2,326.7 439.6,327.1 439.9,328.9 440.3,327.5 440.7,328.2 441.1,326.5 441.5,326.5 441.8,328.3 442.2,328.5 442.6,328.3 443,328.2 443.4,326.3 443.8,329.3 444.1,327.1 444.5,328.3 444.9,327.7 445.3,324.9 445.7,324.7 446.1,325.1 446.4,326.8 446.8,328 447.2,326.5 447.6,327.7 448,325.4 448.4,326.1 448.7,325.8 449.1,326.8 449.5,325.5 449.9,326.6 450.3,327.4 450.7,326.2 451,325.7 451.4,326.2 451.8,325.3 452.2,325.5 452.6,327.5 453,327 453.3,325 453.7,326.3 454.1,327.1 454.5,327.5 454.9,327.3 455.3,327.6 455.6,326.5 456,326.5 456.4,326.2 456.8,327.7 457.2,327.4 457.6,328.4 457.9,327.7 458.3,325.6 458.7,324.8 459.1,324.9 459.5,325.4 459.9,327.1 460.2,324.9 460.6,324.2 461,326.3 461.4,327.4 461.8,327.4 462.2,328.4 462.5,326.5 462.9,326 463.3,326.3 463.7,325.2 464.1,325.9 464.5,328.1 464.8,329 465.2,328.1 465.6,327.1 466,326.5 466.4,327.1 466.8,324.7 467.1,327.5 467.5,327.7 467.9,326.7 468.3,326.9 468.7,325.1 469,327.8 469.4,327.9 469.8,324 470.2,326.4 470.6,327.4 471,328.9 471.3,326.2 471.7,327.1 472.1,328.8 472.5,327.7 472.9,327 473.3,326.7 473.6,327.3 474,326.4 474.4,328.4 474.8,326.4 475.2,328 475.6,328.4 475.9,328.8 476.3,327.6 476.7,327.5 477.1,327.9 477.5,327.7 477.9,328.8 478.2,327.6 478.6,329.8 479,330.8 479.4,327 479.8,328.2 480.2,326.5 480.5,328.7 480.9,328.3 481.3,327.6 481.7,326.7 482.1,327.9 482.5,330.2 482.8,329.7 483.2,328.4 483.6,327.3 484,328 484.4,327.2 484.8,326.6 485.1,327.1 485.5,328.8 485.9,328.5 486.3,328.4 486.7,327 487.1,326.7 487.4,329.4 487.8,327.9 488.2,329.6 488.6,327.5 489,329.4 489.4,328.6 489.7,327.9 490.1,327.9 490.5,330.6 490.9,329.5 491.3,328.2 491.7,328.7 492,326.8 492.4,330.5 492.8,330.1 493.2,328.2 493.6,329.1 494,325.6 494.3,329.8 494.7,329.2 495.1,329 495.5,329.7 495.9,329.1 496.2,327.7 496.6,328.1 497,328.6 497.4,329.9 497.8,328.9 498.2,328.2 498.5,329.3 498.9,327.6 499.3,331.3 499.7,329.3 500.1,327.9 500.5,329.2 500.8,330.3 501.2,329.7 501.6,331.4 502,327.6 502.4,330.9 502.8,329.2 503.1,330.2 503.5,331.1 503.9,327.9 504.3,327.6 504.7,328.7 505.1,327.3 505.4,326.9 505.8,329.3 506.2,330.4 506.6,328.6 507,329.7 507.4,333.2 507.7,329.5 508.1,328.8 508.5,329 508.9,329.6 509.3,328.8 509.7,329.9 510,329.4 510.4,330.1 510.8,329.3 511.2,329 511.6,328.1 512,327.6 512.3,328.8 512.7,328.7 513.1,329.4 513.5,329 513.9,328.6 514.3,331.6 514.6,329.4 515,330.4 515.4,327.9 515.8,330.2 516.2,330.3 516.6,329.5 516.9,328.1 517.3,330.4 517.7,328.2 518.1,327.3 518.5,327.2 518.9,329.1 519.2,328.5 519.6,329.9 520,329.7 520.4,330.5 520.8,329.4 521.2,329.1 521.5,329 521.9,328.1 522.3,328.1 522.7,328.2 523.1,329.2 523.4,328 523.8,328.8 524.2,330.1 524.6,326.3 525,328 525.4,327.8 525.7,328.9 526.1,327.3 526.5,328.2 526.9,331.4 527.3,327.4 527.7,328.8 528,329.1 528.4,328.5 528.8,327.5 529.2,329.9 529.6,326.7 530,327.8 530.3,328.6 530.7,328.1 531.1,330.1 531.5,328.4 531.9,330.9 532.3,328.8 532.6,330.5 533,329.2 533.4,328.5 533.8,328.4 534.2,329.9 534.6,328.1 534.9,328.7 535.3,327.8 535.7,326.4 536.1,329.3 536.5,329.4 536.9,327.3 537.2,329.2 537.6,328.4 538,326.6 538.4,327.6 538.8,329.4 539.2,329.8 539.5,329.1 539.9,331.7 540.3,329 540.7,327.8 541.1,327 541.5,330.3 541.8,328.1 542.2,328.2 542.6,327.7 543,327.7 543.4,328.2 543.8,329.1 544.1,329.2 544.5,329 544.9,329.7 545.3,328.1 545.7,327.5 546.1,328.6 546.4,326.4 546.8,329.6 547.2,329.2 547.6,329.2 548,327.4 548.4,328.1 548.7,328.6 549.1,327.5 549.5,327.4 549.9,328.4 550.3,328.8 550.6,327.9 551,329.7 551.4,331 551.8,329.2 552.2,328.4 552.6,328.2 552.9,330.4 553.3,328.9 553.7,329.2 554.1,328.8 554.5,327.9 554.9,330.2 555.2,328.3 555.6,328.7 556,326.2 556.4,330.9 556.8,329.4 557.2,328.4 557.5,327.6 557.9,327.8 558.3,326.6 558.7,329 559.1,327.5 559.5,329 559.8,329 560.2,330.6 560.6,328.7 561,328.8 561.4,329 561.8,327.8 562.1,328.2 562.5,328.8 562.9,329.7 563.3,329.3 563.7,328.2 564.1,329.8 564.4,328 564.8,326.8 565.2,330.2 565.6,328.5 566,327.9 566.4,327.1 566.7,328 567.1,330.3 567.5,328.4 567.9,330.9 568.3,328.5 568.7,329.7 569,328.5 569.4,327.9 569.8,327.9 570.2,328.1 570.6,327.1 571,327 571.3,328.8 571.7,329.8 572.1,328.6 572.5,328.4 572.9,327.4 573.3,329.6 573.6,329.5 574,327.1 574.4,328.4 574.8,328 575.2,326.7 575.6,330.1 575.9,329.6 576.3,328.7 576.7,329.9 577.1,327.8 577.5,328.6 577.8,329.8 578.2,328 578.6,328.6 579,327.2 579.4,329 579.8,329.6 580.1,327.2 580.5,327.4 580.9,328.2 581.3,329.8 581.7,327.7 582.1,327.3 582.4,328.1 582.8,329.5 583.2,326.5 583.6,328 584,329.6 584.4,328.1 584.7,327.8 585.1,329.1 585.5,326.8 585.9,330.4 586.3,328.6 586.7,327.7 587,328.2 587.4,328 587.8,327.8 588.2,326.7 588.6,327.8 589,326.1 589.3,329.6 589.7,326.8 590.1,327.2 590.5,327.1 590.9,328.8 591.3,327.8 591.6,329.6 592,327.5 592.4,328.1 592.8,327.9 593.2,327.6 593.6,329.2 593.9,329.3 594.3,329.4 594.7,326.4 595.1,328.3 595.5,326.7 595.9,326.6 596.2,325.9 596.6,326.9 597,328.5 597.4,329.4 597.8,329.8 598.2,326.9 598.5,327.2 598.9,328.1 599.3,328 599.7,328.1 600.1,325.9 600.5,327.6 600.8,328.5 601.2,328.1 601.6,327.7 602,327 602.4,327.7 602.8,329.6 603.1,328.4 603.5,329 603.9,329.6 604.3,326.6 604.7,328.5 605,328.3 605.4,329.3 605.8,327.5 606.2,327.5 606.6,327.1 607,328 607.3,327.5 607.7,327.6 608.1,328.1 608.5,327.4 608.9,326.7 609.3,327.3 609.6,327.2 610,328.2 610.4,329.1 610.8,327.4 611.2,325.1 611.6,328.4 611.9,327.7 612.3,326.7 612.7,327.5 613.1,329.8 613.5,326.1 613.9,326.5 614.2,327.7 614.6,324.3 615,327.2 615.4,328.8 615.8,328.4 616.2,328.2 616.5,327.4 616.9,327.6 617.3,330.8 617.7,328 618.1,329.2 618.5,326.4 618.8,328 619.2,328.2 619.6,327.9 620,325.4 620.4,327.3 620.8,329.4 621.1,328.4 621.5,326.9 621.9,328.7 622.3,325.7 622.7,328.2 623.1,327.5 623.4,326.1 623.8,325.2 624.2,324.1 624.6,325.2 625,327 625.4,325.6 625.7,324.7 626.1,324.9 626.5,323 626.9,324.1 627.3,320.1 627.7,322.6 628,322.4 628.4,322.6 628.8,322.3 629.2,322.9 629.6,321.4 630,322.9 630.3,321.4 630.7,322.4 631.1,321.5 631.5,322.3 631.9,321.9 632.2,320.7 632.6,321.6 633,319.9 633.4,321.4 633.8,321.8 634.2,321.1 634.5,321.2 634.9,322.5 635.3,322.7 635.7,323 636.1,320.8 636.5,321 636.8,322.3 637.2,322.4 637.6,319.5 638,323.7 638.4,322.8 638.8,320.1 639.1,322.8 639.5,321.1 639.9,321.4 640.3,320.5 640.7,320.7 641.1,321.2 641.4,321.7 641.8,320.4 642.2,321.5 642.6,320.8 643,321 643.4,320.7 643.7,321 644.1,323.4 644.5,319.9 644.9,320.2 645.3,321.6 645.7,321.1 646,320.5 646.4,322.2 646.8,320.4 647.2,321.7 647.6,322.8 648,322.4 648.3,321.4 648.7,321.8 649.1,322 649.5,322.4 649.9,320.7 650.3,323.2 650.6,322.6 651,323.9 651.4,322.7 651.8,323 652.2,318.6 652.6,321.4 652.9,323.9 653.3,322.3 653.7,321.4 654.1,322.6 654.5,322 654.9,322.3 655.2,321.1 655.6,322.5 656,323.6 656.4,322.2 656.8,322.4 657.2,321.2 657.5,322.5 657.9,321.5 658.3,320.4 658.7,321.5 659.1,321.7 659.4,322.6" stroke="#ffa500" stroke-width="4.2" stroke-dasharray="5 5" stroke-linejoin="round"/>
<rect x="84.8" y="37.3" width="574.7" height="401.5" fill="none" stroke="#1a1a1a" stroke-width="1.35"/>
<path d="M180.6 438.8v-11.3M180.6 37.3v11.3M276.4 438.8v-11.3M276.4 37.3v11.3M372.1 438.8v-11.3M372.1 37.3v11.3M467.9 438.8v-11.3M467.9 37.3v11.3M563.7 438.8v-11.3M563.7 37.3v11.3M132.7 438.8v-5.8M132.7 37.3v5.8M228.5 438.8v-5.8M228.5 37.3v5.8M324.2 438.8v-5.8M324.2 37.3v5.8M420 438.8v-5.8M420 37.3v5.8M515.8 438.8v-5.8M515.8 37.3v5.8M611.6 438.8v-5.8M611.6 37.3v5.8M84.8 360.9h11.3M659.5 360.9h-11.3M84.8 283.1h11.3M659.5 283.1h-11.3M84.8 205.2h11.3M659.5 205.2h-11.3M84.8 127.3h11.3M659.5 127.3h-11.3M84.8 49.4h11.3M659.5 49.4h-11.3M84.8 399.9h5.8M659.5 399.9h-5.8M84.8 322h5.8M659.5 322h-5.8M84.8 244.1h5.8M659.5 244.1h-5.8M84.8 166.2h5.8M659.5 166.2h-5.8M84.8 88.4h5.8M659.5 88.4h-5.8" stroke="#1a1a1a" stroke-width="1.5" fill="none"/>
<text transform="translate(86,466) scale(0.965,1.04)" font-family="Liberation Serif" stroke="#000" stroke-width="0.3" font-size="23.4" text-anchor="middle">0</text>
<text transform="translate(181.8,466) scale(0.965,1.04)" font-family="Liberation Serif" stroke="#000" stroke-width="0.3" font-size="23.4" text-anchor="middle">250</text>
<text transform="translate(277.6,466) scale(0.965,1.04)" font-family="Liberation Serif" stroke="#000" stroke-width="0.3" font-size="23.4" text-anchor="middle">500</text>
<text transform="translate(373.3,466) scale(0.965,1.04)" font-family="Liberation Serif" stroke="#000" stroke-width="0.3" font-size="23.4" text-anchor="middle">750</text>
<text transform="translate(469.1,466) scale(0.965,1.04)" font-family="Liberation Serif" stroke="#000" stroke-width="0.3" font-size="23.4" text-anchor="middle">1000</text>
<text transform="translate(564.9,466) scale(0.965,1.04)" font-family="Liberation Serif" stroke="#000" stroke-width="0.3" font-size="23.4" text-anchor="middle">1250</text>
<text transform="translate(660.6,466) scale(0.965,1.04)" font-family="Liberation Serif" stroke="#000" stroke-width="0.3" font-size="23.4" text-anchor="middle">1500</text>
<text x="79.5" y="444.7" font-family="Liberation Serif" stroke="#000" stroke-width="0.3" font-size="18.7" text-anchor="end">0</text>
<text x="79.5" y="366.8" font-family="Liberation Serif" stroke="#000" stroke-width="0.3" font-size="18.7" text-anchor="end">2500</text>
<text x="79.5" y="288.9" font-family="Liberation Serif" stroke="#000" stroke-width="0.3" font-size="18.7" text-anchor="end">5000</text>
<text x="79.5" y="211.1" font-family="Liberation Serif" stroke="#000" stroke-width="0.3" font-size="18.7" text-anchor="end">7500</text>
<text x="79.5" y="133.2" font-family="Liberation Serif" stroke="#000" stroke-width="0.3" font-size="18.7" text-anchor="end">10000</text>
<text x="79.5" y="55.3" font-family="Liberation Serif" stroke="#000" stroke-width="0.3" font-size="18.7" text-anchor="end">12500</text>
<text x="371" y="498.6" font-family="Liberation Serif" stroke="#000" stroke-width="0.3" font-size="23.4" text-anchor="middle">Number of epochs of RBM training</text>
<text transform="translate(19.8,236.5) rotate(-90)" x="0" y="0" font-family="Liberation Serif" stroke="#000" stroke-width="0.3" font-size="23.7" text-anchor="middle">Reconstruction error</text>
<path d="M348.3 113.5h7.7M363.3 113.5h8.4" stroke="#ffa500" stroke-width="4"/>
<path d="M348.3 145.8h27.1" stroke="#000" stroke-width="3.4"/>
<text x="386.2" y="121.3" font-family="Liberation Serif" stroke="#000" stroke-width="0.3" font-size="23.35">QA-based RBM training</text>
<text x="386.6" y="153.6" font-family="Liberation Serif" stroke="#000" stroke-width="0.3" font-size="23.3">CD-based RBM training</text>
<polyline fill="none" points="837.9,327.6 838.2,343.7 838.5,344.3 838.8,382.4 839,327.8 839.3,328.5 839.6,317.2 839.9,351 840.2,322.9 840.5,336.1 840.8,340.7 841.1,339.3 841.3,355.2 841.6,343.1 841.9,353.5 842.2,347.8 842.5,355.9 842.8,347.8 843.1,334.5 843.4,350.4 843.6,348.8 843.9,346.8 844.2,340.4 844.5,339.8 844.8,331.5 845.1,344.7 845.4,356 845.7,339.5 845.9,322.7 846.2,332.9 846.5,363.9 846.8,341.6 847.1,347.4 847.4,345.1 847.7,333.6 848,342.4 848.2,350.4 848.5,361 848.8,344.3 849.1,351.5 849.4,340.5 849.7,331.1 850,352.9 850.2,345.7 850.5,336.3 850.8,361.3 851.1,350.9 851.4,359.3 851.7,349.9 852,344.1 852.3,346.8 852.5,326.9 852.8,334.1 853.1,340.7 853.4,330.2 853.7,321.3 854,346.9 854.3,340.7 854.6,338.8 854.8,330.7 855.1,365.1 855.4,343.1 855.7,312.3 856,341.9 856.3,320.6 856.6,314.4 856.9,333.4 857.1,316.1 857.4,341.4 857.7,361.6 858,347.2 858.3,325.2 858.6,311.5 858.9,335 859.2,365.7 859.4,341.5 859.7,365.7 860,340.5 860.3,323.1 860.6,351.8 860.9,361 861.2,346.7 861.5,345.3 861.7,334.6 862,337.3 862.3,332.7 862.6,352.6 862.9,327.5 863.2,333.7 863.5,351.1 863.7,349 864,348.4 864.3,360.6 864.6,319 864.9,337.4 865.2,340.2 865.5,327.8 865.8,342.6 866,342.6 866.3,325.9 866.6,352.4 866.9,350.7 867.2,360 867.5,348.7 867.8,329 868.1,346.8 868.3,323.4 868.6,346.9 868.9,338.4 869.2,353.1 869.5,332.7 869.8,317.8 870.1,344.3 870.4,359.1 870.6,342 870.9,332.8 871.2,350.5 871.5,318.9 871.8,355.7 872.1,334.4 872.4,324.6 872.7,337.6 872.9,326.3 873.2,335.4 873.5,345.7 873.8,346.4 874.1,320 874.4,361.2 874.7,338.3 874.9,350.2 875.2,346.2 875.5,331.4 875.8,351.1 876.1,359 876.4,327.4 876.7,326.7 877,340.8 877.2,351.6 877.5,352.8 877.8,337.7 878.1,336.5 878.4,335.8 878.7,333.9 879,341.6 879.3,334.5 879.5,341.9 879.8,337.3 880.1,344.2 880.4,338.2 880.7,356.6 881,344.1 881.3,354.8 881.6,333.3 881.8,348.5 882.1,349.5 882.4,349.1 882.7,351.4 883,352.8 883.3,335.1 883.6,336 883.9,331.4 884.1,348.7 884.4,338.8 884.7,364.1 885,331.6 885.3,353.4 885.6,322.8 885.9,333.7 886.1,317.7 886.4,335.8 886.7,354 887,316.7 887.3,326.6 887.6,328.3 887.9,321 888.2,337.9 888.4,367.8 888.7,343.6 889,347.8 889.3,333.8 889.6,345.6 889.9,334.6 890.2,350.8 890.5,328.1 890.7,333.8 891,349.1 891.3,325.3 891.6,323.4 891.9,335.1 892.2,347.6 892.5,336.8 892.8,340.6 893,345.9 893.3,341.7 893.6,342.6 893.9,357 894.2,341.6 894.5,353.2 894.8,341.4 895.1,343.4 895.3,331.4 895.6,346.6 895.9,339.4 896.2,357.8 896.5,327.8 896.8,316.4 897.1,342.5 897.4,335.2 897.6,333.2 897.9,343 898.2,330.8 898.5,347.2 898.8,346.8 899.1,342 899.4,348.1 899.6,357.2 899.9,329.7 900.2,339.9 900.5,349.9 900.8,354.5 901.1,342.9 901.4,352.7 901.7,351.2 901.9,341 902.2,336.8 902.5,328 902.8,339.3 903.1,334.6 903.4,328.1 903.7,335.7 904,367.4 904.2,328 904.5,338.7 904.8,335 905.1,323.7 905.4,343.9 905.7,336.1 906,365.6 906.3,324.5 906.5,342.4 906.8,341.3 907.1,344.6 907.4,335 907.7,362.8 908,309.1 908.3,340.4 908.6,342.9 908.8,325.8 909.1,331.8 909.4,336 909.7,352.2 910,329.3 910.3,338.9 910.6,351.3 910.8,343.9 911.1,338.7 911.4,350.5 911.7,332.3 912,348.3 912.3,331.9 912.6,338.7 912.9,336.7 913.1,353.5 913.4,341.1 913.7,335.2 914,338.3 914.3,346.4 914.6,348.3 914.9,346.1 915.2,342.8 915.4,328.6 915.7,323.3 916,322.1 916.3,335.6 916.6,348.7 916.9,345.3 917.2,329.7 917.5,340.8 917.7,327.7 918,346.2 918.3,329.5 918.6,357.1 918.9,345.9 919.2,336.5 919.5,337.8 919.8,340.5 920,355.1 920.3,341.2 920.6,345.9 920.9,350 921.2,340 921.5,344.7 921.8,349.9 922,318 922.3,338.6 922.6,328.7 922.9,348.5 923.2,351.9 923.5,358.3 923.8,357.9 924.1,357.3 924.3,337.5 924.6,353.5 924.9,352.8 925.2,345.9 925.5,334.9 925.8,347.5 926.1,336.2 926.4,342.9 926.6,336.3 926.9,343.3 927.2,336.3 927.5,355.9 927.8,338.8 928.1,343.2 928.4,351 928.7,336.5 928.9,342.4 929.2,337.1 929.5,349.7 929.8,340.7 930.1,358.9 930.4,337.5 930.7,358.3 931,350.8 931.2,342.1 931.5,337 931.8,341.7 932.1,365.9 932.4,357.4 932.7,352.6 933,344.6 933.3,358.7 933.5,353 933.8,339.3 934.1,342.5 934.4,337.9 934.7,339.4 935,360.1 935.3,355.3 935.5,343.1 935.8,340.1 936.1,350.4 936.4,333.4 936.7,351.9 937,350.1 937.3,344.1 937.6,341.1 937.8,354.5 938.1,345.1 938.4,355 938.7,352.3 939,326.9 939.3,356.9 939.6,326.9 939.9,350.6 940.1,329.9 940.4,349.2 940.7,355.9 941,354.8 941.3,344.1 941.6,341.1 941.9,355.2 942.2,360.6 942.4,346.5 942.7,349.2 943,352.7 943.3,344.9 943.6,328.5 943.9,315.7 944.2,340 944.5,328.3 944.7,299.2 945,325.7 945.3,358.5 945.6,351.6 945.9,339.7 946.2,330.4 946.5,357.1 946.7,316.1 947,350.4 947.3,353.9 947.6,366.5 947.9,324.1 948.2,331.4 948.5,332.3 948.8,340 949,338.5 949.3,341.4 949.6,322 949.9,334.3 950.2,330.4 950.5,361.4 950.8,361.2 951.1,329.4 951.3,335.5 951.6,336.5 951.9,343.5 952.2,339 952.5,347.6 952.8,335.1 953.1,356.3 953.4,341.4 953.6,349.7 953.9,352.4 954.2,345.2 954.5,344.9 954.8,344 955.1,323.7 955.4,356.7 955.7,353.6 955.9,342.6 956.2,342.9 956.5,338.4 956.8,332.2 957.1,338.9 957.4,352.9 957.7,316.3 957.9,340.6 958.2,342.4 958.5,342.1 958.8,353.1 959.1,351.6 959.4,342.8 959.7,340 960,336.9 960.2,354.9 960.5,335 960.8,355.5 961.1,330.9 961.4,313.7 961.7,357.6 962,337.6 962.3,331.8 962.5,348.4 962.8,327.7 963.1,359.1 963.4,349.8 963.7,337.4 964,327.8 964.3,348.3 964.6,367.5 964.8,338.3 965.1,327.8 965.4,338.5 965.7,350.2 966,356 966.3,319.1 966.6,341.5 966.9,357.7 967.1,357.6 967.4,333.2 967.7,332.9 968,344.2 968.3,347 968.6,337.8 968.9,337.2 969.2,341.8 969.4,352.5 969.7,341.4 970,327.2 970.3,350.8 970.6,348.8 970.9,349 971.2,349.1 971.4,333.3 971.7,338.7 972,350.6 972.3,351.6 972.6,344.4 972.9,348.6 973.2,341.5 973.5,342.4 973.7,354.3 974,331 974.3,349.3 974.6,334.2 974.9,355.7 975.2,346 975.5,358.4 975.8,348.4 976,336.5 976.3,338.4 976.6,350 976.9,361.8 977.2,342.4 977.5,352.9 977.8,345.7 978.1,351.5 978.3,332.3 978.6,348.2 978.9,343.4 979.2,345.5 979.5,348.7 979.8,339.3 980.1,341.8 980.4,342.1 980.6,347 980.9,341 981.2,351.8 981.5,342.5 981.8,346.1 982.1,364.8 982.4,353.8 982.6,345.6 982.9,330.2 983.2,335.9 983.5,348.6 983.8,336.8 984.1,351 984.4,336.7 984.7,360.3 984.9,350.6 985.2,355.4 985.5,345.8 985.8,338.1 986.1,345.1 986.4,322.1 986.7,349 987,336.6 987.2,338.4 987.5,343.3 987.8,345.2 988.1,350.5 988.4,337.8 988.7,337 989,343 989.3,345.5 989.5,348 989.8,340.8 990.1,348.5 990.4,342.8 990.7,329.9 991,340.1 991.3,337.2 991.6,330.7 991.8,328.4 992.1,328.3 992.4,326.9 992.7,323.6 993,322.6 993.3,325.3 993.6,318.4 993.8,318 994.1,324.5 994.4,307.3 994.7,309.1 995,305.1 995.3,304 995.6,303.9 995.9,297 996.1,291.8 996.4,294.9 996.7,289.7 997,283.4 997.3,278.3 997.6,280.5 997.9,281.3 998.2,281.5 998.4,275 998.7,277.4 999,281.4 999.3,268.3 999.6,271.4 999.9,272.5 1000.2,268.8 1000.5,271 1000.7,267.2 1001,262.8 1001.3,268.3 1001.6,261.2 1001.9,258.4 1002.2,262.7 1002.5,260.7 1002.8,262.7 1003,262.1 1003.3,259.1 1003.6,264.6 1003.9,256 1004.2,255.7 1004.5,253.9 1004.8,258.6 1005.1,248.4 1005.3,253.6 1005.6,254.7 1005.9,247.5 1006.2,252.5 1006.5,252.9 1006.8,247.4 1007.1,252 1007.3,252.8 1007.6,249.2 1007.9,254.3 1008.2,251.5 1008.5,247.3 1008.8,252.1 1009.1,254.9 1009.4,244.7 1009.6,244.3 1009.9,247.3 1010.2,246.8 1010.5,241.4 1010.8,241.4 1011.1,248.3 1011.4,245.8 1011.7,248.1 1011.9,247.7 1012.2,250.1 1012.5,246.7 1012.8,244.8 1013.1,242.9 1013.4,224.5 1013.7,245 1014,248.5 1014.2,240.6 1014.5,238.3 1014.8,246 1015.1,242.1 1015.4,239.3 1015.7,245.2 1016,247.4 1016.3,245.1 1016.5,240.8 1016.8,238.3 1017.1,244.3 1017.4,243.6 1017.7,237.5 1018,241.4 1018.3,242.6 1018.5,238.2 1018.8,243.5 1019.1,245.5 1019.4,240.5 1019.7,237 1020,238.1 1020.3,238.7 1020.6,233.9 1020.8,242.1 1021.1,242.4 1021.4,235.1 1021.7,242.5 1022,240.5 1022.3,239.5 1022.6,240.9 1022.9,238.7 1023.1,243.6 1023.4,240.3 1023.7,238.1 1024,237.7 1024.3,242.7 1024.6,240.8 1024.9,235.4 1025.2,249.2 1025.4,249.6 1025.7,232.7 1026,232 1026.3,238.5 1026.6,237.7 1026.9,240.8 1027.2,239.1 1027.5,233.6 1027.7,238.5 1028,233 1028.3,232.1 1028.6,237.3 1028.9,240 1029.2,233.6 1029.5,237.2 1029.7,240.2 1030,235.4 1030.3,233.3 1030.6,242.1 1030.9,239.1 1031.2,236 1031.5,234.7 1031.8,237.1 1032,233.5 1032.3,234.5 1032.6,236 1032.9,240.8 1033.2,240.5 1033.5,235.4 1033.8,238.1 1034.1,241.9 1034.3,241.2 1034.6,242.6 1034.9,231.5 1035.2,243.1 1035.5,234.5 1035.8,238.9 1036.1,236.7 1036.4,245.2 1036.6,233.8 1036.9,238.1 1037.2,236.7 1037.5,240.2 1037.8,236.5 1038.1,235.8 1038.4,240.7 1038.7,245.5 1038.9,238.5 1039.2,236.6 1039.5,239.9 1039.8,234.6 1040.1,235.6 1040.4,239.9 1040.7,235.1 1041,238.2 1041.2,238.4 1041.5,242.6 1041.8,240.1 1042.1,236.8 1042.4,242.4 1042.7,239.2 1043,237.8 1043.2,237.3 1043.5,243.6 1043.8,237.2 1044.1,237 1044.4,241.8 1044.7,238.6 1045,243.5 1045.3,238.3 1045.5,232.9 1045.8,239.4 1046.1,244 1046.4,234.6 1046.7,242.3 1047,239.1 1047.3,242 1047.6,246.4 1047.8,240.6 1048.1,247.2 1048.4,241.6 1048.7,239.3 1049,241.3 1049.3,243.6 1049.6,237.3 1049.9,242.1 1050.1,239.4 1050.4,244.7 1050.7,240.1 1051,242.5 1051.3,240.5 1051.6,251.5 1051.9,244.5 1052.2,249.4 1052.4,245.8 1052.7,237.8 1053,244.1 1053.3,239 1053.6,243.9 1053.9,246.3 1054.2,249.4 1054.4,244.7 1054.7,246.2 1055,244.8 1055.3,241.2 1055.6,241.3 1055.9,243.1 1056.2,251.4 1056.5,251.3 1056.7,252 1057,241.9 1057.3,254.7 1057.6,250.7 1057.9,249.1 1058.2,250.3 1058.5,243.9 1058.8,249.9 1059,246.9 1059.3,249.4 1059.6,249.2 1059.9,249.1 1060.2,251.1 1060.5,248.4 1060.8,247.9 1061.1,249.1 1061.3,247.8 1061.6,248.6 1061.9,251 1062.2,253.4 1062.5,251.2 1062.8,252 1063.1,250.5 1063.4,253.3 1063.6,256.2 1063.9,248.4 1064.2,250.6 1064.5,250.8 1064.8,257 1065.1,253.4 1065.4,255.9 1065.6,254.2 1065.9,256 1066.2,249 1066.5,256.3 1066.8,255.8 1067.1,251.3 1067.4,256.4 1067.7,260.8 1067.9,252.4 1068.2,250.4 1068.5,253 1068.8,252.4 1069.1,266.5 1069.4,253.5 1069.7,256.3 1070,253.7 1070.2,261 1070.5,258.2 1070.8,260.6 1071.1,259.1 1071.4,253.7 1071.7,256.3 1072,259.5 1072.3,259.2 1072.5,253.3 1072.8,257.2 1073.1,255.6 1073.4,256.1 1073.7,252.9 1074,262 1074.3,258.8 1074.6,255.3 1074.8,256.9 1075.1,253.4 1075.4,252 1075.7,252.8 1076,260.7 1076.3,254.4 1076.6,259.8 1076.9,254.1 1077.1,254.7 1077.4,253.2 1077.7,256.5 1078,252.5 1078.3,261.8 1078.6,257.2 1078.9,256 1079.1,261.3 1079.4,256 1079.7,261.5 1080,254.4 1080.3,261.6 1080.6,259.5 1080.9,257.3 1081.2,261.9 1081.4,256 1081.7,265.5 1082,262.4 1082.3,257.1 1082.6,261.5 1082.9,261.3 1083.2,259.7 1083.5,253.6 1083.7,253 1084,259.6 1084.3,254.4 1084.6,266.4 1084.9,257 1085.2,263.8 1085.5,253.6 1085.8,258 1086,258.2 1086.3,261.6 1086.6,264.8 1086.9,257.9 1087.2,256.4 1087.5,259.9 1087.8,258.5 1088.1,253.9 1088.3,261.1 1088.6,254.8 1088.9,257.5 1089.2,253.1 1089.5,257.4 1089.8,254.2 1090.1,260.8 1090.3,258 1090.6,265.7 1090.9,257.6 1091.2,254.8 1091.5,251.2 1091.8,251.7 1092.1,258.8 1092.4,254.9 1092.6,253.5 1092.9,255.7 1093.2,260.1 1093.5,255.9 1093.8,252.7 1094.1,260.2 1094.4,259.1 1094.7,251.4 1094.9,251.5 1095.2,254.7 1095.5,254.5 1095.8,263 1096.1,255.5 1096.4,257.2 1096.7,250.4 1097,251.7 1097.2,255.3 1097.5,254 1097.8,258.6 1098.1,255.1 1098.4,254 1098.7,255.1 1099,251.7 1099.3,251.9 1099.5,256.7 1099.8,255.3 1100.1,246.4 1100.4,254.1 1100.7,250.3 1101,251.6 1101.3,249.4 1101.5,253.3 1101.8,248.1 1102.1,245.3 1102.4,247.3 1102.7,253.9 1103,252.5 1103.3,248.6 1103.6,248.5 1103.8,250.5 1104.1,246 1104.4,251 1104.7,248.1 1105,246.6 1105.3,246 1105.6,243.3 1105.9,253.6 1106.1,253.6 1106.4,245.8 1106.7,249.9 1107,248.1 1107.3,254.8 1107.6,245.5 1107.9,250 1108.2,241.2 1108.4,243.9 1108.7,252.8 1109,246.2 1109.3,250.9 1109.6,252.7 1109.9,247.9 1110.2,242.2 1110.5,239.3 1110.7,249.5 1111,249.5 1111.3,246.7 1111.6,246.7 1111.9,237.7 1112.2,249 1112.5,243.7 1112.8,239.2 1113,239.3 1113.3,243.8 1113.6,250.6 1113.9,240.5 1114.2,247.2 1114.5,241.6 1114.8,242 1115,249.5 1115.3,247.8 1115.6,249.9 1115.9,245.5 1116.2,244.6 1116.5,243.1 1116.8,246.6 1117.1,243.6 1117.3,243 1117.6,247 1117.9,240.9 1118.2,244.1 1118.5,246.2 1118.8,248 1119.1,250 1119.4,244 1119.6,241.3 1119.9,241.5 1120.2,245.7 1120.5,240.6 1120.8,247.5 1121.1,244.5 1121.4,242.7 1121.7,247.5 1121.9,241.5 1122.2,239.9 1122.5,242.8 1122.8,240.8 1123.1,244.9 1123.4,248.7 1123.7,241.3 1124,246.5 1124.2,249.9 1124.5,241.5 1124.8,251.9 1125.1,238.9 1125.4,245.3 1125.7,248.4 1126,241.3 1126.2,242.8 1126.5,245.4 1126.8,240.9 1127.1,246.9 1127.4,246.8 1127.7,245.8 1128,249.9 1128.3,245.9 1128.5,244.3 1128.8,242.2 1129.1,246 1129.4,240.5 1129.7,248.8 1130,241 1130.3,247.7 1130.6,247.8 1130.8,240.8 1131.1,247.7 1131.4,248.1 1131.7,241.2 1132,245.1 1132.3,243.5 1132.6,242.9 1132.9,245.1 1133.1,229.1 1133.4,249.8 1133.7,241.2 1134,241.6 1134.3,249.7 1134.6,245.5 1134.9,246.8 1135.2,239.1 1135.4,247.1 1135.7,250.8 1136,247.5 1136.3,246.2 1136.6,241.4 1136.9,245.6 1137.2,243 1137.4,240.8 1137.7,245.4 1138,241.8 1138.3,246.6 1138.6,236.9 1138.9,247.2 1139.2,247.3 1139.5,251.4 1139.7,247.6 1140,245.9 1140.3,240.8 1140.6,245.9 1140.9,241.3 1141.2,238.3 1141.5,244.6 1141.8,248.1 1142,245.5 1142.3,239.7 1142.6,244.8 1142.9,241.5 1143.2,244.3 1143.5,244.5 1143.8,240.2 1144.1,244.5 1144.3,243.6 1144.6,244.5 1144.9,246.4 1145.2,251.1 1145.5,242.6 1145.8,239.1 1146.1,250.8 1146.4,243.5 1146.6,230.4 1146.9,240.7 1147.2,241.3 1147.5,233.1 1147.8,245.9 1148.1,250 1148.4,238.3 1148.7,246.1 1148.9,241.8 1149.2,246.9 1149.5,239.1 1149.8,241.7 1150.1,246.7 1150.4,248.3 1150.7,239.8 1150.9,241.1 1151.2,239.9 1151.5,241.8 1151.8,244.4 1152.1,245.9 1152.4,247.3 1152.7,242.6 1153,247.3 1153.2,250.2 1153.5,247.8 1153.8,242.7 1154.1,243.5 1154.4,243.2 1154.7,241.7 1155,238.5 1155.3,236.8 1155.5,249.9 1155.8,247.1 1156.1,249.5 1156.4,249.1 1156.7,243.7 1157,241.7 1157.3,243.9 1157.6,240.2 1157.8,239.7 1158.1,243.6 1158.4,243.1 1158.7,244.3 1159,246.9 1159.3,247.2 1159.6,248.4 1159.9,249.6 1160.1,242.5 1160.4,253.7 1160.7,243.5 1161,245.1 1161.3,243.3 1161.6,248.9 1161.9,244.8 1162.1,245 1162.4,241.8 1162.7,246.9 1163,240.8 1163.3,246.8 1163.6,248.7 1163.9,247.5 1164.2,240.4 1164.4,243.8 1164.7,249.6 1165,241.8 1165.3,246 1165.6,241.1 1165.9,239.2 1166.2,241.4 1166.5,244.1 1166.7,240.6 1167,240.1 1167.3,247.1 1167.6,238.4 1167.9,248.8 1168.2,237.8 1168.5,242.5 1168.8,245.7 1169,239.3 1169.3,241.3 1169.6,239.3 1169.9,244.8 1170.2,245.1 1170.5,243.4 1170.8,242.7 1171.1,247.6 1171.3,243.7 1171.6,247.2 1171.9,241.1 1172.2,246.4 1172.5,245.1 1172.8,242 1173.1,244.5 1173.3,240.3 1173.6,240.3 1173.9,251.8 1174.2,247.8 1174.5,238.8 1174.8,247.5 1175.1,240.7 1175.4,240.9 1175.6,239.8 1175.9,243.3 1176.2,246.3 1176.5,248 1176.8,247.4 1177.1,239.5 1177.4,239.5 1177.7,239.7 1177.9,244.8 1178.2,245.5 1178.5,246.5 1178.8,243.8 1179.1,246.3 1179.4,239.5 1179.7,244.9 1180,243.1 1180.2,245.7 1180.5,240 1180.8,243.1 1181.1,246.4 1181.4,245.5 1181.7,241.4 1182,247.7 1182.3,242.2 1182.5,238.7 1182.8,251 1183.1,241 1183.4,243.3 1183.7,243.7 1184,254.4 1184.3,241.7 1184.6,241.3 1184.8,248.7 1185.1,245.1 1185.4,241.3 1185.7,247.4 1186,245 1186.3,240.6 1186.6,246.2 1186.8,241.5 1187.1,237.5 1187.4,240.2 1187.7,240.3 1188,242.7 1188.3,243.5 1188.6,243.8 1188.9,245.9 1189.1,243.8 1189.4,241.5 1189.7,241.9 1190,245 1190.3,244.9 1190.6,245.5 1190.9,241.6 1191.2,242.9 1191.4,242.5 1191.7,244.5 1192,241 1192.3,240.3 1192.6,240.5 1192.9,237.3 1193.2,236.6 1193.5,249 1193.7,244.4 1194,249.3 1194.3,246.3 1194.6,250.9 1194.9,248.8 1195.2,249.7 1195.5,241.5 1195.8,247.5 1196,242.4 1196.3,246.3 1196.6,237.7 1196.9,241.2 1197.2,243.9 1197.5,245.2 1197.8,242.2 1198,246.7 1198.3,246.4 1198.6,244.3 1198.9,240.6 1199.2,243.9 1199.5,251.5 1199.8,248.8 1200.1,245.5 1200.3,237.3 1200.6,241.6 1200.9,248.9 1201.2,241.5 1201.5,242.1 1201.8,246.1 1202.1,242.7 1202.4,251.7 1202.6,242.6 1202.9,247.8 1203.2,244.2 1203.5,245.3 1203.8,245.9 1204.1,249.6 1204.4,243.6 1204.7,242 1204.9,251.5 1205.2,241.2 1205.5,246.6 1205.8,245.4 1206.1,248 1206.4,242 1206.7,245.1 1207,247 1207.2,242.2 1207.5,249.6 1207.8,240.6 1208.1,250.9 1208.4,247.2 1208.7,241.6 1209,244.7 1209.2,241 1209.5,240.1 1209.8,241 1210.1,246.6 1210.4,248.4 1210.7,242 1211,247.2 1211.3,254 1211.5,246.5 1211.8,243 1212.1,248.1 1212.4,248.2 1212.7,240.4 1213,241.7 1213.3,245.8 1213.6,245.8 1213.8,248.4 1214.1,249.1 1214.4,243.5 1214.7,248.2 1215,248.6 1215.3,245.8 1215.6,241.8 1215.9,243.6 1216.1,238 1216.4,239 1216.7,240.9 1217,238.8 1217.3,241 1217.6,242.7 1217.9,244.6 1218.2,245.1 1218.4,241.2 1218.7,243.1 1219,245.9 1219.3,238.7 1219.6,246.6 1219.9,235.4 1220.2,241.8 1220.5,244.4 1220.7,243.3 1221,246.3 1221.3,239.8 1221.6,248.4 1221.9,243.3 1222.2,244.5 1222.5,243.3 1222.7,248.7 1223,248.1 1223.3,245 1223.6,247.6 1223.9,244.4 1224.2,242.5 1224.5,245.8 1224.8,246.1 1225,242.9 1225.3,243.3 1225.6,246.1 1225.9,249.7 1226.2,247.6 1226.5,248.4 1226.8,248 1227.1,244.2 1227.3,247 1227.6,245.6 1227.9,247.4 1228.2,238.1 1228.5,246.2 1228.8,246.5 1229.1,243.4 1229.4,253.9 1229.6,244.9 1229.9,241 1230.2,249.7 1230.5,246.8 1230.8,248.9 1231.1,241.7 1231.4,249.5 1231.7,245.4 1231.9,243.7 1232.2,241.6 1232.5,246.2 1232.8,242.4 1233.1,244.1 1233.4,248.7 1233.7,242.1 1233.9,238.7 1234.2,243 1234.5,248.1 1234.8,240.4 1235.1,245.6 1235.4,244.2 1235.7,246.3 1236,246.9 1236.2,245.4 1236.5,243.8 1236.8,246 1237.1,247.6 1237.4,244.7 1237.7,244.5 1238,244.3 1238.3,243.8 1238.5,241.4 1238.8,245.7 1239.1,242.2 1239.4,245.4 1239.7,245.5 1240,244.5 1240.3,241.8 1240.6,261.2 1240.8,249.8 1241.1,248.8 1241.4,247.2 1241.7,248.1 1242,247.4 1242.3,245.2 1242.6,247.7 1242.9,247.5 1243.1,242.4 1243.4,241.8 1243.7,245.9 1244,246 1244.3,243.2 1244.6,243.5 1244.9,246.4 1245.1,249 1245.4,249.1 1245.7,243.8 1246,244.7 1246.3,240.8 1246.6,245.3 1246.9,245.7 1247.2,241.6 1247.4,249.6 1247.7,243.9 1248,246.3 1248.3,245.8 1248.6,250.2 1248.9,241.2 1249.2,242.1 1249.5,247.5 1249.7,244.3 1250,246.3 1250.3,250.4 1250.6,245.1 1250.9,240.8 1251.2,246.7 1251.5,240.7 1251.8,244.5 1252,240.9 1252.3,245.5 1252.6,245.5 1252.9,246 1253.2,249.5 1253.5,245.7 1253.8,246.2 1254.1,245.7 1254.3,256 1254.6,244.4 1254.9,244.5 1255.2,249.5 1255.5,244 1255.8,243.5 1256.1,246.5 1256.4,248 1256.6,241.7 1256.9,248 1257.2,243.5 1257.5,253.2 1257.8,240.9 1258.1,245.2 1258.4,244.8 1258.6,238.7 1258.9,240.9 1259.2,243.8 1259.5,244.6 1259.8,244 1260.1,245.7 1260.4,240.6 1260.7,244.5 1260.9,243.8 1261.2,249.8 1261.5,244.1 1261.8,244.7 1262.1,243.8 1262.4,240.8 1262.7,242.2 1263,238.2 1263.2,250.2 1263.5,239.1 1263.8,247.5 1264.1,246.3 1264.4,245.6 1264.7,248.2 1265,246.1 1265.3,250 1265.5,243.3 1265.8,237.1 1266.1,241.6 1266.4,240.4 1266.7,246.9 1267,241.5 1267.3,241.4 1267.6,249.4 1267.8,245.6 1268.1,251.2 1268.4,248.4 1268.7,245.8 1269,247.5 1269.3,243 1269.6,242.2 1269.8,250.4 1270.1,245 1270.4,244.1 1270.7,240.8 1271,246.1 1271.3,242 1271.6,237.7 1271.9,240 1272.1,246.2 1272.4,245.7 1272.7,247.3 1273,248 1273.3,240.2 1273.6,241.8 1273.9,248.9 1274.2,245.6 1274.4,247.5 1274.7,249.6 1275,241.7 1275.3,242.3 1275.6,247.8 1275.9,248.7 1276.2,243.1 1276.5,242.4 1276.7,250.5 1277,250.7 1277.3,239.1 1277.6,239.3 1277.9,243.2 1278.2,248.7 1278.5,241.3 1278.8,246.2 1279,240.7 1279.3,250 1279.6,246.2 1279.9,246.3 1280.2,240.3 1280.5,243.8 1280.8,244.1 1281,240.9 1281.3,247.8 1281.6,248.6 1281.9,245 1282.2,244 1282.5,246.8 1282.8,244.2 1283.1,244.9 1283.3,244.3 1283.6,243.9 1283.9,239 1284.2,246.8 1284.5,243.6 1284.8,243.3 1285.1,242.5 1285.4,247 1285.6,243.4 1285.9,244 1286.2,232.3 1286.5,239.4 1286.8,251.2 1287.1,260 1287.4,244.8 1287.7,251.8 1287.9,242.7 1288.2,243.3 1288.5,242.9 1288.8,243.1 1289.1,249.5 1289.4,241.5 1289.7,240.6 1290,240.2 1290.2,242.8 1290.5,240.3 1290.8,246.7 1291.1,247.4 1291.4,240.1 1291.7,244.9 1292,244.6 1292.3,246.9 1292.5,246.9 1292.8,251 1293.1,249.9 1293.4,240.6 1293.7,243 1294,248.4 1294.3,247.6 1294.5,241.8 1294.8,246.1 1295.1,249.8 1295.4,242.4 1295.7,242.5 1296,247.3 1296.3,241.8 1296.6,247 1296.8,246.5 1297.1,242.9 1297.4,243.5 1297.7,242.7 1298,239.1 1298.3,244.7 1298.6,246.6 1298.9,249.5 1299.1,246.1 1299.4,243.8 1299.7,240.3 1300,246.7 1300.3,242.4 1300.6,245.7 1300.9,241.4 1301.2,246.8 1301.4,250.8 1301.7,242.8 1302,247.4 1302.3,242.7 1302.6,246 1302.9,240.9 1303.2,243.1 1303.5,243.9 1303.7,248.4 1304,240.9 1304.3,253.2 1304.6,252 1304.9,248.9 1305.2,245.8 1305.5,250.7 1305.7,248.2 1306,242 1306.3,242 1306.6,240.2 1306.9,239.7 1307.2,247.1 1307.5,243.9 1307.8,246.8 1308,236.5 1308.3,242.7 1308.6,247.2 1308.9,244.6 1309.2,249.2 1309.5,244.8 1309.8,240.4 1310.1,244.4 1310.3,244.6 1310.6,248.5 1310.9,240.6 1311.2,244.3 1311.5,247.8 1311.8,243.8 1312.1,246 1312.4,244.4 1312.6,243.9 1312.9,250.4 1313.2,247.7 1313.5,245.2 1313.8,241.4 1314.1,248.5 1314.4,240.1 1314.7,246.9 1314.9,245.4 1315.2,238.4 1315.5,230.8 1315.8,246.1 1316.1,244.2 1316.4,247.9 1316.7,242.3 1316.9,240.9 1317.2,239 1317.5,251.6 1317.8,248.1 1318.1,240.4 1318.4,247.6 1318.7,244 1319,243.9 1319.2,251.6 1319.5,243.3 1319.8,245.7 1320.1,243.7 1320.4,246.4 1320.7,249.9 1321,241.8 1321.3,241.3 1321.5,246.1 1321.8,245.7 1322.1,242.1 1322.4,249 1322.7,240.6 1323,237.8 1323.3,243.8 1323.6,252.3 1323.8,245.7 1324.1,239.1 1324.4,251.7 1324.7,248.3 1325,244.3 1325.3,246.9 1325.6,247.1 1325.9,244.9 1326.1,256.6 1326.4,248.6 1326.7,247.1 1327,241 1327.3,238.1 1327.6,246.5 1327.9,246.7 1328.2,242.9 1328.4,243.2 1328.7,245.2 1329,249.6 1329.3,247.5 1329.6,248.2 1329.9,247.9 1330.2,241.1 1330.4,244.5 1330.7,243 1331,239.7 1331.3,246.5 1331.6,246.2 1331.9,246.4 1332.2,248.7 1332.5,240.6 1332.7,239.9 1333,247.6 1333.3,247 1333.6,247.9 1333.9,249.7 1334.2,242.4 1334.5,241.6 1334.8,246.3 1335,246.2 1335.3,245.5 1335.6,240 1335.9,249.2 1336.2,243.3 1336.5,244.9 1336.8,244.5 1337.1,243.5 1337.3,249.1 1337.6,248.2 1337.9,245.6 1338.2,243.2 1338.5,248.5 1338.8,247.4 1339.1,243.9 1339.4,244.8 1339.6,251.8 1339.9,248.5 1340.2,246.2 1340.5,242.8 1340.8,242.8 1341.1,244.8 1341.4,250.3 1341.6,249.6 1341.9,244.9 1342.2,239.9 1342.5,248.7 1342.8,244.3 1343.1,241.7 1343.4,243.5 1343.7,251.2 1343.9,250.4 1344.2,242.9 1344.5,246.7 1344.8,243.5 1345.1,240.5 1345.4,247.7 1345.7,247.6 1346,249.7 1346.2,243.2 1346.5,238.9 1346.8,239.2 1347.1,245.6 1347.4,242.5 1347.7,251.4 1348,247.3 1348.3,244.6 1348.5,247.2 1348.8,248.9 1349.1,249.7 1349.4,247.1 1349.7,248.2 1350,252 1350.3,242.4 1350.6,249.6 1350.8,245 1351.1,248.1 1351.4,239.1 1351.7,242 1352,244.6 1352.3,243.5 1352.6,245.6 1352.8,245.8 1353.1,241.5 1353.4,241.6 1353.7,240.3 1354,245 1354.3,247.4 1354.6,245.4 1354.9,242.3 1355.1,246.3 1355.4,237.6 1355.7,241.8 1356,242.7 1356.3,245.5 1356.6,244.5 1356.9,250.6 1357.2,247.1 1357.4,250.2 1357.7,243 1358,242.9 1358.3,248.6 1358.6,245.1 1358.9,242.2 1359.2,241.4 1359.5,240.9 1359.7,246.5 1360,245.6 1360.3,246.3 1360.6,246.2 1360.9,251.3 1361.2,247.9 1361.5,246.5 1361.8,240.8 1362,242 1362.3,246 1362.6,251 1362.9,244 1363.2,249 1363.5,243.8 1363.8,246.1 1364.1,242.1 1364.3,242.3 1364.6,242.2 1364.9,241 1365.2,243.6 1365.5,247.9 1365.8,247 1366.1,240.3 1366.3,255.3 1366.6,238.9 1366.9,251 1367.2,246.5 1367.5,246.7 1367.8,241.6 1368.1,244.6 1368.4,244.9 1368.6,248.5 1368.9,244 1369.2,246.4 1369.5,249.8 1369.8,239.9 1370.1,246.8 1370.4,242.7 1370.7,245.7 1370.9,248.4 1371.2,243 1371.5,242.2 1371.8,246.1 1372.1,245.7 1372.4,244.8 1372.7,245.9 1373,248.3 1373.2,239.9 1373.5,232.2 1373.8,244.8 1374.1,249.5 1374.4,237.8 1374.7,238.2 1375,246.3 1375.3,244.4 1375.5,245.5 1375.8,245.6 1376.1,244.7 1376.4,250.5 1376.7,243.7 1377,252 1377.3,241.8 1377.5,247.7 1377.8,244.9 1378.1,245.7 1378.4,245.5 1378.7,237 1379,250.5 1379.3,250.7 1379.6,243.8 1379.8,242.6 1380.1,244.7 1380.4,240.8 1380.7,247.7 1381,243.6 1381.3,242.8 1381.6,242.9 1381.9,247.6 1382.1,243 1382.4,250.5 1382.7,253.3 1383,247.1 1383.3,240.8 1383.6,249.4 1383.9,247.3 1384.2,243.1 1384.4,247.5 1384.7,245 1385,248.4 1385.3,244.2 1385.6,244.8 1385.9,243.1 1386.2,245.2 1386.5,240.9 1386.7,247.6 1387,244.5 1387.3,245.3 1387.6,245 1387.9,245.8 1388.2,249 1388.5,244.2 1388.7,248 1389,245 1389.3,241.6 1389.6,241.9 1389.9,239.7 1390.2,241.6 1390.5,246.7 1390.8,242.4 1391,247.4 1391.3,246 1391.6,232.5 1391.9,242.8 1392.2,238.5 1392.5,249.1 1392.8,244.4 1393.1,242.4 1393.3,239.6 1393.6,242.4 1393.9,239.6 1394.2,252 1394.5,243.7 1394.8,247.4 1395.1,248.7 1395.4,243.4 1395.6,244.7 1395.9,242.5 1396.2,252.4 1396.5,239.9 1396.8,244.5 1397.1,240 1397.4,246.6 1397.7,243.8 1397.9,242.8 1398.2,242.1 1398.5,248.7 1398.8,251.5 1399.1,251.7 1399.4,239 1399.7,236.5 1400,243.4 1400.2,250.9 1400.5,244.9 1400.8,249.4 1401.1,237.9 1401.4,247 1401.7,247.7 1402,245.3 1402.2,238.7 1402.5,250.3 1402.8,242.3 1403.1,241.4 1403.4,246.3 1403.7,245.2 1404,248.5 1404.3,229.6 1404.5,242.5 1404.8,248.5 1405.1,249.4 1405.4,250 1405.7,248.9 1406,243 1406.3,247.4 1406.6,251 1406.8,256 1407.1,244.5 1407.4,242.2 1407.7,241.7 1408,245.2 1408.3,247.9 1408.6,245.5 1408.9,245.5 1409.1,250.7 1409.4,245.7 1409.7,244.8 1410,245.6 1410.3,243 1410.6,241 1410.9,244.7 1411.2,250.6 1411.4,242.5 1411.7,240.6 1412,242.4 1412.3,246.5" stroke="#000" stroke-width="3.6" stroke-linejoin="miter" stroke-miterlimit="2"/>
<polyline fill="none" points="837.9,340.4 838.2,352.6 838.5,344.5 838.8,330.5 839,344.7 839.3,326.4 839.6,322.4 839.9,327.3 840.2,346.6 840.5,335.6 840.8,332.4 841.1,351.3 841.3,339.1 841.6,338.9 841.9,369.2 842.2,323.4 842.5,346.2 842.8,359.6 843.1,340.9 843.4,329.5 843.6,338.3 843.9,364 844.2,346 844.5,326.3 844.8,325.8 845.1,336.3 845.4,327.5 845.7,334.5 845.9,326.3 846.2,339 846.5,325.3 846.8,334.8 847.1,340.1 847.4,330.5 847.7,326.3 848,318.9 848.2,340.9 848.5,337.8 848.8,339.8 849.1,335.3 849.4,321.5 849.7,342.4 850,314.3 850.2,322.8 850.5,331.3 850.8,315.6 851.1,336.5 851.4,326.3 851.7,332.2 852,318 852.3,318.8 852.5,314.4 852.8,315.8 853.1,333.9 853.4,323.4 853.7,309.9 854,327.1 854.3,320 854.6,314.4 854.8,315.5 855.1,312.1 855.4,323 855.7,321.7 856,318.3 856.3,311.9 856.6,316.3 856.9,305.1 857.1,313.2 857.4,311.9 857.7,311.7 858,329 858.3,303.5 858.6,301.4 858.9,308.4 859.2,300.3 859.4,294.6 859.7,293.5 860,293.9 860.3,308.1 860.6,319.1 860.9,298.5 861.2,305.4 861.5,288.4 861.7,300.9 862,302.1 862.3,314.8 862.6,282.2 862.9,293.8 863.2,296.4 863.5,282.9 863.7,295.9 864,295.1 864.3,302.9 864.6,297.8 864.9,277.3 865.2,317.1 865.5,283.2 865.8,282.7 866,289.8 866.3,273.4 866.6,298 866.9,278.3 867.2,255.8 867.5,281 867.8,281.4 868.1,274.1 868.3,271 868.6,270.9 868.9,274.3 869.2,287.3 869.5,277.7 869.8,257 870.1,270.2 870.4,259.3 870.6,268 870.9,266.3 871.2,265.6 871.5,267.1 871.8,267.5 872.1,255.5 872.4,269.8 872.7,270.9 872.9,261.6 873.2,268.5 873.5,253.7 873.8,268.7 874.1,252.6 874.4,246.8 874.7,268 874.9,263.4 875.2,252.4 875.5,261.4 875.8,258.3 876.1,244.7 876.4,259.3 876.7,246 877,246.2 877.2,255 877.5,238.9 877.8,256.3 878.1,234.8 878.4,243.4 878.7,244.1 879,242 879.3,232.6 879.5,229.8 879.8,244.6 880.1,243.7 880.4,251 880.7,249.6 881,242.2 881.3,229.1 881.6,248.2 881.8,235.8 882.1,226.7 882.4,233.6 882.7,239.2 883,218 883.3,238.1 883.6,222 883.9,229.9 884.1,247.2 884.4,247.7 884.7,207.2 885,241.7 885.3,225.6 885.6,218.2 885.9,226.9 886.1,239.3 886.4,220.1 886.7,231.2 887,227.3 887.3,234.1 887.6,226.5 887.9,236.5 888.2,220.7 888.4,226.2 888.7,240.1 889,218.5 889.3,232.2 889.6,216 889.9,232.9 890.2,230.1 890.5,219.9 890.7,216.6 891,213.8 891.3,238.8 891.6,217.6 891.9,224.1 892.2,213.9 892.5,214.6 892.8,216.4 893,215.9 893.3,215.5 893.6,218 893.9,230.3 894.2,205.2 894.5,203.7 894.8,231.6 895.1,202 895.3,222.7 895.6,211.4 895.9,224.1 896.2,221.1 896.5,222.1 896.8,221.6 897.1,213.8 897.4,208.7 897.6,206.7 897.9,198.1 898.2,245 898.5,218.7 898.8,204.4 899.1,207.9 899.4,223.2 899.6,206.7 899.9,213.9 900.2,222.3 900.5,211.5 900.8,212.2 901.1,217.5 901.4,203.6 901.7,225 901.9,209.7 902.2,214.6 902.5,204.3 902.8,206 903.1,216.8 903.4,213.8 903.7,210.7 904,214.6 904.2,205.4 904.5,216.1 904.8,214.7 905.1,213.9 905.4,209.5 905.7,201 906,217.2 906.3,210.5 906.5,207.2 906.8,217.8 907.1,210.6 907.4,201.2 907.7,195.5 908,218.3 908.3,200 908.6,205.5 908.8,215.9 909.1,206.2 909.4,209.5 909.7,200.5 910,199.4 910.3,212.5 910.6,208.8 910.8,216 911.1,211.3 911.4,204.9 911.7,195.1 912,207.8 912.3,211.7 912.6,198.2 912.9,199.4 913.1,204.8 913.4,195 913.7,186.9 914,205.4 914.3,202.6 914.6,194.3 914.9,209.1 915.2,188 915.4,204.8 915.7,192.9 916,202.6 916.3,197.6 916.6,197.7 916.9,214.8 917.2,193.2 917.5,187.6 917.7,210.6 918,195.7 918.3,193.1 918.6,190.7 918.9,180.6 919.2,192.3 919.5,202.1 919.8,198.1 920,195.8 920.3,203.5 920.6,185.4 920.9,197.1 921.2,191.1 921.5,188.7 921.8,199.5 922,187.9 922.3,181.5 922.6,186.5 922.9,188.9 923.2,199.3 923.5,188.2 923.8,185.4 924.1,185.9 924.3,198.9 924.6,190.2 924.9,178.2 925.2,186.3 925.5,179.1 925.8,186.2 926.1,192 926.4,187.2 926.6,181.8 926.9,200.1 927.2,176.2 927.5,179.2 927.8,180.4 928.1,188.3 928.4,183.3 928.7,178.9 928.9,203.2 929.2,193.5 929.5,197.3 929.8,187.2 930.1,189.9 930.4,199.7 930.7,184.1 931,192.7 931.2,190.7 931.5,183.4 931.8,179 932.1,179.9 932.4,182.4 932.7,185.6 933,183 933.3,191.8 933.5,177 933.8,181.5 934.1,184.5 934.4,189.8 934.7,175.7 935,187 935.3,191.9 935.5,178.4 935.8,192.7 936.1,189.1 936.4,174.2 936.7,198.1 937,191.6 937.3,178.4 937.6,191.2 937.8,179.2 938.1,181.6 938.4,179.7 938.7,183.3 939,184.9 939.3,173.9 939.6,178 939.9,185.9 940.1,185.1 940.4,187.4 940.7,188.8 941,179.3 941.3,188.4 941.6,173.9 941.9,174 942.2,186.6 942.4,182.5 942.7,170.3 943,177.6 943.3,175.5 943.6,184.1 943.9,174.2 944.2,164.6 944.5,177 944.7,185.2 945,172.4 945.3,186.5 945.6,179.5 945.9,171.4 946.2,178.1 946.5,185.2 946.7,177.8 947,167.6 947.3,178.7 947.6,164.1 947.9,174.5 948.2,179 948.5,172.3 948.8,174.2 949,186.3 949.3,171.7 949.6,173.7 949.9,183.3 950.2,183.2 950.5,174.1 950.8,167.7 951.1,179.3 951.3,171.6 951.6,169.6 951.9,174.5 952.2,161.4 952.5,179.5 952.8,168.6 953.1,173.1 953.4,176.7 953.6,174.4 953.9,175.8 954.2,167 954.5,172.7 954.8,162.1 955.1,166.4 955.4,166.1 955.7,165.5 955.9,168.4 956.2,164.5 956.5,182.3 956.8,168.8 957.1,165.4 957.4,173.3 957.7,179.8 957.9,173.8 958.2,160.1 958.5,172.5 958.8,170.5 959.1,175.5 959.4,180 959.7,195 960,165.8 960.2,171.8 960.5,168.6 960.8,169.8 961.1,154.1 961.4,168.2 961.7,159 962,159.5 962.3,160.2 962.5,155.1 962.8,153.8 963.1,159.7 963.4,158.3 963.7,159.6 964,156.2 964.3,162.6 964.6,155 964.8,151.8 965.1,155.9 965.4,150.1 965.7,145.7 966,159.5 966.3,150.8 966.6,147.2 966.9,150.8 967.1,158.6 967.4,148 967.7,159.5 968,154.5 968.3,158.7 968.6,154.3 968.9,157.5 969.2,147.3 969.4,183.9 969.7,150.5 970,149.8 970.3,162.3 970.6,151.9 970.9,163 971.2,145.4 971.4,149.2 971.7,160.6 972,128.6 972.3,152 972.6,155.6 972.9,165.6 973.2,162.7 973.5,152.2 973.7,150.5 974,162.2 974.3,148.2 974.6,163.5 974.9,159.1 975.2,151.8 975.5,154.4 975.8,141.2 976,151.4 976.3,156.1 976.6,151.9 976.9,157.1 977.2,152.9 977.5,147.7 977.8,152.6 978.1,157.5 978.3,180.3 978.6,149.9 978.9,143.6 979.2,153.4 979.5,150.1 979.8,160.8 980.1,163.8 980.4,141.3 980.6,153.9 980.9,145.9 981.2,149 981.5,145.1 981.8,150.2 982.1,151.2 982.4,165.2 982.6,157.3 982.9,148.9 983.2,162.2 983.5,156.8 983.8,163.7 984.1,159.7 984.4,153.8 984.7,151.3 984.9,145.9 985.2,148.3 985.5,146.5 985.8,160.6 986.1,186.6 986.4,146.6 986.7,154.7 987,157.8 987.2,163.8 987.5,160.6 987.8,143.9 988.1,159 988.4,139.3 988.7,151.2 989,160.8 989.3,149.1 989.5,144.5 989.8,149.5 990.1,171.7 990.4,152.9 990.7,148.8 991,156.3 991.3,148.1 991.6,141.6 991.8,157.7 992.1,157.2 992.4,155.1 992.7,147.6 993,160.3 993.3,154.9 993.6,146.3 993.8,142 994.1,163 994.4,163.6 994.7,148.6 995,154 995.3,155.1 995.6,154.6 995.9,150.7 996.1,155.6 996.4,162.3 996.7,160.7 997,142.2 997.3,152.4 997.6,141.9 997.9,158 998.2,142 998.4,161.7 998.7,160.4 999,154.4 999.3,162.6 999.6,159.2 999.9,144.2 1000.2,155 1000.5,158.3 1000.7,147 1001,147.1 1001.3,145.8 1001.6,137.3 1001.9,152.8 1002.2,154.8 1002.5,170.3 1002.8,142.5 1003,142.7 1003.3,155.6 1003.6,153.6 1003.9,151.2 1004.2,144 1004.5,149.6 1004.8,160.6 1005.1,154.3 1005.3,159 1005.6,156.3 1005.9,150.7 1006.2,133 1006.5,158.5 1006.8,160.3 1007.1,148 1007.3,177.4 1007.6,160 1007.9,169.1 1008.2,155.2 1008.5,160.7 1008.8,154.3 1009.1,139.8 1009.4,145.6 1009.6,145.5 1009.9,148.3 1010.2,169.7 1010.5,159.2 1010.8,163 1011.1,153 1011.4,154.4 1011.7,155.7 1011.9,166.9 1012.2,168.1 1012.5,153.1 1012.8,154.3 1013.1,162.5 1013.4,148.2 1013.7,144.1 1014,146.2 1014.2,148.6 1014.5,148.3 1014.8,163.1 1015.1,148 1015.4,157.5 1015.7,149.8 1016,163.6 1016.3,156.1 1016.5,142.2 1016.8,151.2 1017.1,151.6 1017.4,161.3 1017.7,148.8 1018,146.2 1018.3,157.5 1018.5,152.8 1018.8,156.1 1019.1,143 1019.4,161.3 1019.7,160.9 1020,146.6 1020.3,157.1 1020.6,149.7 1020.8,162.1 1021.1,165.4 1021.4,143.4 1021.7,144.7 1022,159 1022.3,162.6 1022.6,154.7 1022.9,162.5 1023.1,155.3 1023.4,145.6 1023.7,158.9 1024,159.7 1024.3,159.7 1024.6,143.6 1024.9,164.5 1025.2,154.2 1025.4,162 1025.7,160.7 1026,153.1 1026.3,149.9 1026.6,158 1026.9,184.6 1027.2,163.2 1027.5,158.4 1027.7,163.8 1028,161.5 1028.3,168.9 1028.6,156.7 1028.9,157.5 1029.2,175 1029.5,149.9 1029.7,148.4 1030,164.6 1030.3,158.7 1030.6,152.4 1030.9,153 1031.2,153.7 1031.5,155.8 1031.8,154.1 1032,157.5 1032.3,140.3 1032.6,148.7 1032.9,153.6 1033.2,169.5 1033.5,152.8 1033.8,157.2 1034.1,155.6 1034.3,150.2 1034.6,166.3 1034.9,149.7 1035.2,151.9 1035.5,171.2 1035.8,169.7 1036.1,155.1 1036.4,161.6 1036.6,159.7 1036.9,155.8 1037.2,164.9 1037.5,163.9 1037.8,164 1038.1,175 1038.4,155.5 1038.7,150.6 1038.9,160.7 1039.2,159.6 1039.5,153.7 1039.8,166.8 1040.1,159.4 1040.4,159.6 1040.7,159.9 1041,152.7 1041.2,160.6 1041.5,162.2 1041.8,161.5 1042.1,155.1 1042.4,166.9 1042.7,160.5 1043,154.4 1043.2,168.2 1043.5,155.1 1043.8,160.1 1044.1,146.7 1044.4,157.4 1044.7,168.3 1045,163.8 1045.3,148 1045.5,166.6 1045.8,154.3 1046.1,145.9 1046.4,154.2 1046.7,162.5 1047,168.3 1047.3,152.2 1047.6,160.1 1047.8,171.7 1048.1,155.2 1048.4,160.4 1048.7,154.1 1049,160.4 1049.3,161.3 1049.6,139.4 1049.9,166.5 1050.1,163.5 1050.4,153.6 1050.7,158.4 1051,155.9 1051.3,163 1051.6,163.4 1051.9,179.8 1052.2,158.4 1052.4,153.4 1052.7,168.4 1053,169.7 1053.3,153 1053.6,155 1053.9,162 1054.2,164.5 1054.4,156.5 1054.7,155.6 1055,155.7 1055.3,173.9 1055.6,155.7 1055.9,158.4 1056.2,158.5 1056.5,159.3 1056.7,168.3 1057,167.8 1057.3,157 1057.6,166 1057.9,170 1058.2,153.7 1058.5,162.1 1058.8,161 1059,161 1059.3,170.2 1059.6,166.1 1059.9,160.9 1060.2,165.5 1060.5,160 1060.8,160.1 1061.1,168.8 1061.3,168.3 1061.6,146.2 1061.9,169.1 1062.2,160.9 1062.5,152.3 1062.8,154.3 1063.1,167.7 1063.4,154.1 1063.6,169.7 1063.9,172.1 1064.2,165.4 1064.5,149.2 1064.8,166.2 1065.1,169.6 1065.4,149 1065.6,162.9 1065.9,161.2 1066.2,156.3 1066.5,154.4 1066.8,173.5 1067.1,167 1067.4,167.4 1067.7,149 1067.9,154.9 1068.2,159.4 1068.5,174.7 1068.8,160.8 1069.1,165.1 1069.4,162.1 1069.7,165.1 1070,150.6 1070.2,166.2 1070.5,160.4 1070.8,165 1071.1,158.7 1071.4,166.9 1071.7,153.2 1072,157.8 1072.3,157.2 1072.5,164.5 1072.8,156.7 1073.1,164.9 1073.4,165.6 1073.7,145.2 1074,185.3 1074.3,167.2 1074.6,141.5 1074.8,154.6 1075.1,151.2 1075.4,166.5 1075.7,171.7 1076,173.5 1076.3,152.5 1076.6,164.9 1076.9,157.4 1077.1,166.5 1077.4,162.8 1077.7,170 1078,161.1 1078.3,155.5 1078.6,161.9 1078.9,165.2 1079.1,160.3 1079.4,159.1 1079.7,164.5 1080,151.6 1080.3,158.1 1080.6,161.3 1080.9,155.7 1081.2,158.2 1081.4,163.2 1081.7,167.7 1082,167 1082.3,156.8 1082.6,162.6 1082.9,163.7 1083.2,159.3 1083.5,163.5 1083.7,165.5 1084,162.7 1084.3,153.7 1084.6,156.6 1084.9,172.7 1085.2,157 1085.5,168.8 1085.8,167 1086,166.2 1086.3,159.4 1086.6,170.6 1086.9,168 1087.2,160.4 1087.5,160.6 1087.8,166.6 1088.1,160.8 1088.3,170 1088.6,171.9 1088.9,151.5 1089.2,164.4 1089.5,166 1089.8,154.7 1090.1,151.4 1090.3,157.9 1090.6,159 1090.9,165.8 1091.2,164.4 1091.5,160.7 1091.8,160.2 1092.1,169.3 1092.4,167.8 1092.6,155.3 1092.9,169.5 1093.2,161.3 1093.5,156.7 1093.8,160.9 1094.1,155.1 1094.4,160.7 1094.7,177.2 1094.9,157.1 1095.2,146.2 1095.5,167 1095.8,166.2 1096.1,160.4 1096.4,159 1096.7,161.7 1097,159.3 1097.2,165.2 1097.5,161.3 1097.8,163.7 1098.1,171.2 1098.4,164.2 1098.7,155.4 1099,170.4 1099.3,157.8 1099.5,165.2 1099.8,170.4 1100.1,162.5 1100.4,152.2 1100.7,168.9 1101,164.6 1101.3,158.7 1101.5,150.8 1101.8,158 1102.1,170.4 1102.4,167.4 1102.7,170 1103,155.1 1103.3,164.1 1103.6,171.3 1103.8,164.2 1104.1,158.9 1104.4,155.5 1104.7,163.7 1105,159.2 1105.3,165.5 1105.6,161.7 1105.9,158.5 1106.1,170.4 1106.4,162.4 1106.7,173.9 1107,169.9 1107.3,152.8 1107.6,166.5 1107.9,157.6 1108.2,153.3 1108.4,164.6 1108.7,164.3 1109,155 1109.3,162.1 1109.6,159.7 1109.9,169.2 1110.2,161.3 1110.5,155.5 1110.7,158.4 1111,156.6 1111.3,188 1111.6,169 1111.9,160.8 1112.2,191.4 1112.5,171 1112.8,162.2 1113,154.4 1113.3,170.5 1113.6,164.2 1113.9,157.6 1114.2,193.7 1114.5,163.9 1114.8,158.9 1115,159.6 1115.3,156.2 1115.6,163.3 1115.9,157.9 1116.2,172.3 1116.5,152.3 1116.8,172.3 1117.1,173.5 1117.3,168.6 1117.6,168.4 1117.9,152.8 1118.2,165.6 1118.5,166.4 1118.8,167.1 1119.1,152.1 1119.4,163.8 1119.6,159.9 1119.9,167.8 1120.2,167.3 1120.5,167.5 1120.8,173 1121.1,166.7 1121.4,172.1 1121.7,167.6 1121.9,149.5 1122.2,167.1 1122.5,155.7 1122.8,161 1123.1,164.2 1123.4,155.6 1123.7,153.4 1124,154.6 1124.2,167.2 1124.5,167.6 1124.8,167.2 1125.1,162.8 1125.4,165.2 1125.7,146.2 1126,166.9 1126.2,162 1126.5,173.5 1126.8,153.6 1127.1,161.2 1127.4,159.6 1127.7,168.7 1128,169.4 1128.3,173.7 1128.5,167.5 1128.8,178.8 1129.1,158 1129.4,169.3 1129.7,162.7 1130,164.2 1130.3,158 1130.6,169.8 1130.8,177.3 1131.1,152 1131.4,156.6 1131.7,160.2 1132,166.3 1132.3,158.6 1132.6,157.3 1132.9,166.2 1133.1,162.5 1133.4,169.5 1133.7,163.7 1134,165.6 1134.3,163.7 1134.6,154.3 1134.9,153.7 1135.2,169.7 1135.4,160.8 1135.7,156.8 1136,157.1 1136.3,166.6 1136.6,159.5 1136.9,174 1137.2,164.1 1137.4,162.9 1137.7,153.3 1138,157.7 1138.3,163.6 1138.6,168.9 1138.9,159.2 1139.2,159.6 1139.5,153.2 1139.7,163.9 1140,151.2 1140.3,169.8 1140.6,158.7 1140.9,171.1 1141.2,157 1141.5,160.6 1141.8,166.8 1142,164.7 1142.3,152.4 1142.6,167.2 1142.9,156.1 1143.2,168 1143.5,158.4 1143.8,159.5 1144.1,157.2 1144.3,164.2 1144.6,176.6 1144.9,170.4 1145.2,161.9 1145.5,171.2 1145.8,171.3 1146.1,151.5 1146.4,172.3 1146.6,164.7 1146.9,156.9 1147.2,168.5 1147.5,160.5 1147.8,173 1148.1,174.4 1148.4,160.5 1148.7,157.9 1148.9,169.4 1149.2,158.9 1149.5,169.6 1149.8,169.3 1150.1,166.4 1150.4,158.5 1150.7,169.9 1150.9,161.5 1151.2,170.1 1151.5,173.7 1151.8,156 1152.1,162.8 1152.4,162.4 1152.7,166 1153,163.1 1153.2,168.3 1153.5,153.6 1153.8,164 1154.1,171.9 1154.4,166.5 1154.7,173.1 1155,162.4 1155.3,166 1155.5,148.3 1155.8,156.6 1156.1,158.8 1156.4,170.5 1156.7,152.2 1157,168.5 1157.3,164.1 1157.6,153.8 1157.8,167.1 1158.1,165.9 1158.4,165.3 1158.7,156.2 1159,154 1159.3,163.1 1159.6,201.9 1159.9,154.7 1160.1,163.9 1160.4,167.3 1160.7,160 1161,161.9 1161.3,165.5 1161.6,168.8 1161.9,157 1162.1,157.6 1162.4,158.8 1162.7,165.4 1163,166 1163.3,156.1 1163.6,166.4 1163.9,169.2 1164.2,165.8 1164.4,166.6 1164.7,156.6 1165,163.6 1165.3,166.9 1165.6,162.9 1165.9,159.5 1166.2,161.6 1166.5,172.8 1166.7,154.2 1167,163.1 1167.3,168.2 1167.6,154.9 1167.9,165.9 1168.2,161.3 1168.5,158 1168.8,166.5 1169,175.5 1169.3,158.7 1169.6,170.3 1169.9,165.3 1170.2,162.2 1170.5,158.3 1170.8,165.2 1171.1,170.2 1171.3,164.3 1171.6,171.5 1171.9,173.2 1172.2,157.1 1172.5,170.7 1172.8,157.7 1173.1,168.7 1173.3,176.5 1173.6,162.3 1173.9,163 1174.2,169.4 1174.5,164.6 1174.8,174.8 1175.1,150 1175.4,161 1175.6,193.5 1175.9,173 1176.2,172.5 1176.5,155.1 1176.8,172.7 1177.1,146.5 1177.4,158.9 1177.7,157.4 1177.9,149.1 1178.2,155.2 1178.5,158.7 1178.8,167.6 1179.1,161.8 1179.4,149.3 1179.7,154.9 1180,155.2 1180.2,161.6 1180.5,166.5 1180.8,153.8 1181.1,180.8 1181.4,160.5 1181.7,165.4 1182,171.1 1182.3,157.1 1182.5,167.6 1182.8,160.3 1183.1,164.2 1183.4,167.6 1183.7,155.8 1184,189.1 1184.3,170 1184.6,153.5 1184.8,166.6 1185.1,173.7 1185.4,154 1185.7,165.6 1186,163.7 1186.3,167.6 1186.6,170.7 1186.8,160.9 1187.1,158.6 1187.4,160.6 1187.7,153.2 1188,157.5 1188.3,168.7 1188.6,161.5 1188.9,156.5 1189.1,149 1189.4,159.4 1189.7,164.3 1190,163.4 1190.3,168.5 1190.6,164.3 1190.9,179.5 1191.2,160.2 1191.4,156.5 1191.7,162 1192,161.3 1192.3,171.5 1192.6,173.5 1192.9,175.2 1193.2,178.8 1193.5,158.8 1193.7,161.9 1194,163.2 1194.3,171.2 1194.6,166.9 1194.9,179.7 1195.2,169.6 1195.5,161.4 1195.8,161.1 1196,168.1 1196.3,170.5 1196.6,162.4 1196.9,159.7 1197.2,175.3 1197.5,160.3 1197.8,162.7 1198,168.7 1198.3,162.3 1198.6,155.3 1198.9,161.5 1199.2,169.2 1199.5,157.2 1199.8,160.2 1200.1,162.4 1200.3,168 1200.6,162.9 1200.9,160.3 1201.2,164.1 1201.5,165.5 1201.8,162.4 1202.1,158.8 1202.4,155.2 1202.6,169.6 1202.9,174 1203.2,164.7 1203.5,148.4 1203.8,161.6 1204.1,176.5 1204.4,171.1 1204.7,153.2 1204.9,148.2 1205.2,166.5 1205.5,176.6 1205.8,175.4 1206.1,161.8 1206.4,164.5 1206.7,160 1207,157.6 1207.2,168 1207.5,160.4 1207.8,159.7 1208.1,163.6 1208.4,150.1 1208.7,168 1209,168.8 1209.2,169.5 1209.5,160.4 1209.8,163.6 1210.1,157 1210.4,175.7 1210.7,155 1211,158.5 1211.3,156.9 1211.5,163.9 1211.8,158.8 1212.1,168.4 1212.4,171.8 1212.7,153.6 1213,162.3 1213.3,162 1213.6,159.3 1213.8,156.2 1214.1,165.1 1214.4,144.8 1214.7,162.1 1215,160.2 1215.3,170.5 1215.6,154.7 1215.9,156.7 1216.1,168.7 1216.4,175.1 1216.7,174.6 1217,156.9 1217.3,165.6 1217.6,164.7 1217.9,159.6 1218.2,168.7 1218.4,165.5 1218.7,163.5 1219,171.3 1219.3,174.8 1219.6,164.3 1219.9,144.5 1220.2,157.4 1220.5,165.9 1220.7,151.2 1221,171.4 1221.3,162 1221.6,159.3 1221.9,161.4 1222.2,195.4 1222.5,169 1222.7,168.7 1223,161.4 1223.3,153.7 1223.6,194.3 1223.9,147 1224.2,167.7 1224.5,154 1224.8,163.9 1225,169.3 1225.3,168.5 1225.6,156.9 1225.9,157.7 1226.2,157.4 1226.5,155.9 1226.8,175.4 1227.1,147.7 1227.3,170.6 1227.6,156.4 1227.9,177.9 1228.2,165.4 1228.5,159.7 1228.8,162.8 1229.1,160.6 1229.4,157.5 1229.6,201.8 1229.9,161.7 1230.2,160.7 1230.5,157.3 1230.8,168.6 1231.1,167.4 1231.4,155.3 1231.7,171.4 1231.9,165 1232.2,167.1 1232.5,157.5 1232.8,162.1 1233.1,187.2 1233.4,182.2 1233.7,172 1233.9,169.6 1234.2,159 1234.5,157.9 1234.8,159 1235.1,174 1235.4,162.4 1235.7,189.8 1236,177.1 1236.2,155.1 1236.5,165.8 1236.8,156.4 1237.1,189.1 1237.4,148.1 1237.7,159.1 1238,163.6 1238.3,169.1 1238.5,153.6 1238.8,161.6 1239.1,167.9 1239.4,175.9 1239.7,164.8 1240,160.7 1240.3,166.1 1240.6,159.3 1240.8,173.1 1241.1,165 1241.4,169.8 1241.7,170.5 1242,157.7 1242.3,173 1242.6,175.3 1242.9,171.3 1243.1,174.8 1243.4,171.7 1243.7,162.6 1244,174.6 1244.3,166.3 1244.6,166.7 1244.9,165.3 1245.1,167.7 1245.4,164.9 1245.7,158.3 1246,167.5 1246.3,171.2 1246.6,168.5 1246.9,160.9 1247.2,174.6 1247.4,173.2 1247.7,168.1 1248,173.1 1248.3,164.8 1248.6,158.2 1248.9,171.9 1249.2,170.3 1249.5,168.9 1249.7,150.4 1250,185.6 1250.3,160.7 1250.6,163.7 1250.9,165.1 1251.2,167.8 1251.5,145.1 1251.8,156.5 1252,167.2 1252.3,167.5 1252.6,157.3 1252.9,186.8 1253.2,166 1253.5,164.9 1253.8,169.5 1254.1,164.7 1254.3,166.1 1254.6,169 1254.9,174.6 1255.2,172.8 1255.5,162 1255.8,166.4 1256.1,164.5 1256.4,172.3 1256.6,156.2 1256.9,159.7 1257.2,176.4 1257.5,162.2 1257.8,170.6 1258.1,165 1258.4,164.6 1258.6,163.6 1258.9,188.6 1259.2,161.6 1259.5,173.9 1259.8,153.4 1260.1,168.6 1260.4,164.5 1260.7,177.5 1260.9,160.4 1261.2,156 1261.5,167 1261.8,168.6 1262.1,173.2 1262.4,175.4 1262.7,175.5 1263,172.1 1263.2,177.7 1263.5,176.7 1263.8,156 1264.1,168.3 1264.4,167.5 1264.7,155.1 1265,164.2 1265.3,165.7 1265.5,165.9 1265.8,171.8 1266.1,162.6 1266.4,163 1266.7,168.5 1267,172.2 1267.3,150.4 1267.6,151.4 1267.8,166.9 1268.1,157.7 1268.4,161.8 1268.7,167.2 1269,157.7 1269.3,151.6 1269.6,159.9 1269.8,157.6 1270.1,163.4 1270.4,173.5 1270.7,169.9 1271,163.5 1271.3,156.6 1271.6,163.5 1271.9,162.1 1272.1,176.7 1272.4,160.5 1272.7,155.1 1273,164.6 1273.3,159.5 1273.6,165.6 1273.9,165.9 1274.2,160.6 1274.4,165.1 1274.7,158.7 1275,156.6 1275.3,172.3 1275.6,180.9 1275.9,164.5 1276.2,172.4 1276.5,168.3 1276.7,169.8 1277,162.5 1277.3,158.8 1277.6,170.6 1277.9,160.1 1278.2,168.4 1278.5,180.8 1278.8,168.2 1279,171.2 1279.3,156.8 1279.6,162.2 1279.9,172 1280.2,183.4 1280.5,168.5 1280.8,174.1 1281,159.7 1281.3,176.9 1281.6,162.4 1281.9,158.9 1282.2,176.6 1282.5,163.6 1282.8,160.8 1283.1,155 1283.3,163.9 1283.6,178 1283.9,170.1 1284.2,157.2 1284.5,168.9 1284.8,156.9 1285.1,156.4 1285.4,170.2 1285.6,173.9 1285.9,168.7 1286.2,170.6 1286.5,162.6 1286.8,153.1 1287.1,154.7 1287.4,170.7 1287.7,166.3 1287.9,162.2 1288.2,165.1 1288.5,168 1288.8,157.6 1289.1,168.1 1289.4,177.5 1289.7,168.1 1290,160.8 1290.2,158.2 1290.5,176.5 1290.8,156.8 1291.1,156.2 1291.4,159.4 1291.7,166.4 1292,153.2 1292.3,176.6 1292.5,169.7 1292.8,149 1293.1,157.9 1293.4,169.4 1293.7,174.1 1294,158.7 1294.3,171.4 1294.5,156.9 1294.8,174.8 1295.1,173.4 1295.4,164 1295.7,170.5 1296,163.7 1296.3,160.4 1296.6,174.3 1296.8,174 1297.1,168.8 1297.4,161.3 1297.7,172.1 1298,166.5 1298.3,163 1298.6,172.7 1298.9,169.4 1299.1,170.3 1299.4,174.5 1299.7,174.1 1300,164.1 1300.3,156.5 1300.6,164 1300.9,178.1 1301.2,175.5 1301.4,161.5 1301.7,172.7 1302,163.5 1302.3,199.1 1302.6,169.6 1302.9,171 1303.2,161.3 1303.5,166.4 1303.7,178.9 1304,176 1304.3,161.3 1304.6,162.3 1304.9,164.6 1305.2,152.8 1305.5,173.3 1305.7,168.2 1306,175.7 1306.3,171.2 1306.6,148.3 1306.9,182.9 1307.2,167.2 1307.5,168.6 1307.8,167.4 1308,168 1308.3,171.9 1308.6,162.2 1308.9,157.8 1309.2,158.9 1309.5,182.3 1309.8,161.2 1310.1,176.1 1310.3,160.4 1310.6,172.1 1310.9,154.6 1311.2,163.8 1311.5,172.3 1311.8,164.6 1312.1,161.4 1312.4,174.1 1312.6,163.8 1312.9,161.9 1313.2,175.7 1313.5,152.3 1313.8,169.6 1314.1,176.8 1314.4,172.7 1314.7,163.4 1314.9,166.1 1315.2,157.9 1315.5,168 1315.8,160 1316.1,153.9 1316.4,159.9 1316.7,171.8 1316.9,161.6 1317.2,174.9 1317.5,156.2 1317.8,173.4 1318.1,169 1318.4,162.7 1318.7,175 1319,165.2 1319.2,170.4 1319.5,170.7 1319.8,175 1320.1,158.7 1320.4,162 1320.7,151.7 1321,144.7 1321.3,157.3 1321.5,161.6 1321.8,159.8 1322.1,166.6 1322.4,162.8 1322.7,169.6 1323,165.2 1323.3,155.1 1323.6,161.7 1323.8,169.1 1324.1,170 1324.4,162.8 1324.7,176.7 1325,153.8 1325.3,179.6 1325.6,167.4 1325.9,189.8 1326.1,162.9 1326.4,160.2 1326.7,169 1327,159.2 1327.3,162.1 1327.6,172.8 1327.9,167.7 1328.2,161.1 1328.4,168 1328.7,176.6 1329,165 1329.3,168.7 1329.6,162.3 1329.9,165.3 1330.2,169.2 1330.4,177.5 1330.7,157.3 1331,156.1 1331.3,167.1 1331.6,157.8 1331.9,164.5 1332.2,155.9 1332.5,193.7 1332.7,171.3 1333,173.4 1333.3,169.8 1333.6,161.3 1333.9,169.3 1334.2,168.1 1334.5,163.5 1334.8,170.9 1335,163.4 1335.3,159.6 1335.6,172.9 1335.9,159.8 1336.2,177.2 1336.5,174.9 1336.8,159.8 1337.1,165.5 1337.3,171.1 1337.6,164.6 1337.9,173.5 1338.2,171.2 1338.5,152.8 1338.8,164.8 1339.1,173.3 1339.4,185 1339.6,163.5 1339.9,165.9 1340.2,168.9 1340.5,181.5 1340.8,160.2 1341.1,168.3 1341.4,171.7 1341.6,159.9 1341.9,182.1 1342.2,161.4 1342.5,151.3 1342.8,188.3 1343.1,160.6 1343.4,158 1343.7,161.2 1343.9,159.3 1344.2,166 1344.5,168.9 1344.8,164 1345.1,163.1 1345.4,168.7 1345.7,172.3 1346,177 1346.2,170.8 1346.5,163.9 1346.8,170.7 1347.1,154.1 1347.4,176.3 1347.7,158.1 1348,165.9 1348.3,165.7 1348.5,173.6 1348.8,177.8 1349.1,161.5 1349.4,167.8 1349.7,166.2 1350,163.6 1350.3,156.8 1350.6,178.3 1350.8,175.3 1351.1,161 1351.4,158.7 1351.7,170.4 1352,175.8 1352.3,161.5 1352.6,164.3 1352.8,169.8 1353.1,159.3 1353.4,159.6 1353.7,156.7 1354,166.7 1354.3,160.1 1354.6,162.9 1354.9,165 1355.1,160.7 1355.4,170.9 1355.7,169.4 1356,164.2 1356.3,166.3 1356.6,169.9 1356.9,162.4 1357.2,158 1357.4,163.6 1357.7,172 1358,206.3 1358.3,171.9 1358.6,179 1358.9,164.3 1359.2,171.3 1359.5,166 1359.7,174.4 1360,176.1 1360.3,158.9 1360.6,162.7 1360.9,155.8 1361.2,165.5 1361.5,164.1 1361.8,167.4 1362,162.7 1362.3,171.8 1362.6,173.2 1362.9,155.8 1363.2,180.7 1363.5,175.1 1363.8,163 1364.1,169.1 1364.3,161.9 1364.6,159 1364.9,164.3 1365.2,167.1 1365.5,161.2 1365.8,162.6 1366.1,160.2 1366.3,166.1 1366.6,169.2 1366.9,161.4 1367.2,158.4 1367.5,176.4 1367.8,154.7 1368.1,154.8 1368.4,173.2 1368.6,167.7 1368.9,163.1 1369.2,175.4 1369.5,170.7 1369.8,180.5 1370.1,164.1 1370.4,156.9 1370.7,171.7 1370.9,171.2 1371.2,159.9 1371.5,171.8 1371.8,176.1 1372.1,150.4 1372.4,157.4 1372.7,151.8 1373,170.2 1373.2,177.6 1373.5,167.6 1373.8,163.4 1374.1,172.6 1374.4,174 1374.7,154.9 1375,163.7 1375.3,171.6 1375.5,160.6 1375.8,158.6 1376.1,173.6 1376.4,166.2 1376.7,164.7 1377,161.2 1377.3,170.4 1377.5,176.2 1377.8,158.8 1378.1,172.1 1378.4,166 1378.7,156.4 1379,174 1379.3,168.8 1379.6,170.1 1379.8,154.7 1380.1,175.8 1380.4,141.9 1380.7,160.9 1381,161.1 1381.3,175.6 1381.6,157.4 1381.9,159 1382.1,189.6 1382.4,169.4 1382.7,170.2 1383,159.1 1383.3,161.4 1383.6,174.5 1383.9,162.7 1384.2,173.2 1384.4,171 1384.7,173 1385,169.6 1385.3,163.5 1385.6,159.2 1385.9,170.9 1386.2,156.7 1386.5,161.6 1386.7,204 1387,176.2 1387.3,162.9 1387.6,158.8 1387.9,143.1 1388.2,167.9 1388.5,181.9 1388.7,182 1389,190.7 1389.3,168 1389.6,169 1389.9,160.1 1390.2,179 1390.5,168.8 1390.8,160.2 1391,158.8 1391.3,165.4 1391.6,160.5 1391.9,162.1 1392.2,163 1392.5,154 1392.8,161.3 1393.1,167 1393.3,166.6 1393.6,168 1393.9,172.3 1394.2,163.4 1394.5,164.3 1394.8,165.4 1395.1,173.1 1395.4,158.5 1395.6,163.1 1395.9,167.6 1396.2,161.5 1396.5,171.8 1396.8,159.3 1397.1,157.5 1397.4,162.9 1397.7,169.9 1397.9,173.6 1398.2,169.3 1398.5,173.9 1398.8,157.2 1399.1,161.6 1399.4,159.5 1399.7,162.7 1400,169.6 1400.2,164.7 1400.5,166.1 1400.8,166.2 1401.1,161.6 1401.4,172 1401.7,176.5 1402,157.4 1402.2,167.5 1402.5,164.7 1402.8,169.2 1403.1,167 1403.4,171.5 1403.7,160.9 1404,171.7 1404.3,162 1404.5,166.6 1404.8,167.7 1405.1,170 1405.4,170.2 1405.7,175 1406,171.9 1406.3,163.7 1406.6,164.1 1406.8,178 1407.1,166.4 1407.4,167.1 1407.7,174.4 1408,162.4 1408.3,176.1 1408.6,164.2 1408.9,193.5 1409.1,167.9 1409.4,171.4 1409.7,156.1 1410,159.7 1410.3,177.7 1410.6,189.9 1410.9,164 1411.2,179 1411.4,159.7 1411.7,170 1412,159.4 1412.3,152.8" stroke="#ff0000" stroke-width="3.6" stroke-linejoin="miter" stroke-miterlimit="2"/>
<polyline fill="none" points="837.9,339.2 838.2,336.2 838.5,355.2 838.8,343.3 839,331.5 839.3,330.6 839.6,344.1 839.9,343.5 840.2,334.8 840.5,332.7 840.8,342.6 841.1,329.3 841.3,349.3 841.6,335.7 841.9,343.6 842.2,340.8 842.5,330.3 842.8,337.8 843.1,330.6 843.4,329.7 843.6,341 843.9,328.6 844.2,336.1 844.5,328 844.8,326.4 845.1,336.7 845.4,327.2 845.7,338.7 845.9,328.1 846.2,328.2 846.5,322.3 846.8,318.9 847.1,324.5 847.4,326.5 847.7,326.1 848,335.1 848.2,334.1 848.5,324.9 848.8,323.3 849.1,322.2 849.4,321.7 849.7,330.1 850,315.2 850.2,323.9 850.5,314.9 850.8,325.4 851.1,317.8 851.4,324.5 851.7,325.1 852,320.8 852.3,314.5 852.5,316.6 852.8,309.9 853.1,315.2 853.4,317.5 853.7,313.9 854,317.1 854.3,312.3 854.6,306.7 854.8,311.6 855.1,302.1 855.4,308.5 855.7,306.4 856,295 856.3,297.3 856.6,302.2 856.9,297.8 857.1,290.7 857.4,290.7 857.7,293.4 858,284 858.3,294.2 858.6,280.7 858.9,283.4 859.2,274.5 859.4,277.4 859.7,284.7 860,276.3 860.3,278.1 860.6,273.8 860.9,270 861.2,266.3 861.5,269.4 861.7,268.1 862,265.4 862.3,259 862.6,271.7 862.9,255.1 863.2,266.9 863.5,260 863.7,262.2 864,259.9 864.3,251.8 864.6,246.8 864.9,256.2 865.2,258.3 865.5,250.2 865.8,241.6 866,236.9 866.3,242.6 866.6,241.5 866.9,238.8 867.2,242.6 867.5,239.4 867.8,238.4 868.1,222.5 868.3,228.9 868.6,230.3 868.9,224.5 869.2,218.4 869.5,213.8 869.8,220.3 870.1,218.2 870.4,214.2 870.6,215.8 870.9,219.3 871.2,209.8 871.5,212.8 871.8,203.4 872.1,206 872.4,199.9 872.7,200.6 872.9,196.8 873.2,198.8 873.5,205.5 873.8,192 874.1,190.3 874.4,188.7 874.7,185.4 874.9,192 875.2,179.5 875.5,186.5 875.8,188.7 876.1,187 876.4,179.6 876.7,175.9 877,178.9 877.2,167.2 877.5,171.7 877.8,168.1 878.1,162.9 878.4,171.7 878.7,158.6 879,153.5 879.3,153.7 879.5,152.9 879.8,149.7 880.1,153.4 880.4,143.2 880.7,143 881,145.1 881.3,141.4 881.6,150.3 881.8,136.8 882.1,143.6 882.4,138.7 882.7,133.8 883,131.2 883.3,135.5 883.6,128.4 883.9,131.9 884.1,127.5 884.4,128.8 884.7,122.9 885,119.3 885.3,121.1 885.6,115.9 885.9,115.6 886.1,119 886.4,111.9 886.7,113.3 887,113.8 887.3,110 887.6,110 887.9,107.5 888.2,105.1 888.4,102.2 888.7,105.4 889,100.5 889.3,100.2 889.6,100.5 889.9,99.3 890.2,100.7 890.5,94.4 890.7,95.3 891,101.2 891.3,89.5 891.6,92.7 891.9,92.5 892.2,90.6 892.5,91.5 892.8,94.1 893,92.8 893.3,91 893.6,89.2 893.9,87.5 894.2,91.9 894.5,91.1 894.8,88 895.1,91.9 895.3,87.8 895.6,84.8 895.9,91.9 896.2,89.6 896.5,82.6 896.8,86.2 897.1,85.2 897.4,90.1 897.6,86.6 897.9,91.2 898.2,86.7 898.5,88.3 898.8,85 899.1,93.1 899.4,87.2 899.6,90.5 899.9,86 900.2,90.6 900.5,89.2 900.8,91.2 901.1,85.3 901.4,84 901.7,88.4 901.9,86 902.2,87.7 902.5,84.6 902.8,87.5 903.1,90.9 903.4,78.5 903.7,89.5 904,83.2 904.2,89.3 904.5,86.8 904.8,83.6 905.1,89 905.4,87.6 905.7,87.6 906,85 906.3,89.1 906.5,88.5 906.8,88.8 907.1,87.1 907.4,84.7 907.7,84.9 908,90.6 908.3,87.6 908.6,85.1 908.8,87.7 909.1,91.8 909.4,84.7 909.7,85.8 910,83.2 910.3,88.4 910.6,89.7 910.8,91 911.1,87.5 911.4,89.6 911.7,88.1 912,91 912.3,90.8 912.6,90.7 912.9,91.4 913.1,88.8 913.4,90.4 913.7,84.5 914,86.1 914.3,85.1 914.6,84.6 914.9,86 915.2,86.4 915.4,87.4 915.7,90.2 916,85.2 916.3,84.2 916.6,88.7 916.9,86.3 917.2,90.4 917.5,101 917.7,89.1 918,90.9 918.3,88 918.6,86.8 918.9,88.4 919.2,86.2 919.5,91.3 919.8,88.8 920,86.8 920.3,94.4 920.6,88.8 920.9,88.6 921.2,89.6 921.5,92.3 921.8,88.4 922,89.3 922.3,88.2 922.6,92.4 922.9,86 923.2,95.8 923.5,92.5 923.8,87.3 924.1,91.9 924.3,89.3 924.6,86.5 924.9,90.5 925.2,87.9 925.5,88.6 925.8,91.7 926.1,91.2 926.4,87.8 926.6,87 926.9,91 927.2,94.6 927.5,89.2 927.8,89.4 928.1,90.4 928.4,94.6 928.7,91.4 928.9,92.4 929.2,89.6 929.5,89.6 929.8,96.5 930.1,93.4 930.4,92.5 930.7,90 931,92.3 931.2,95.7 931.5,88.9 931.8,90.8 932.1,98 932.4,98 932.7,93.1 933,90.4 933.3,97.2 933.5,95.6 933.8,91.4 934.1,96.3 934.4,98.2 934.7,94.5 935,97 935.3,95.5 935.5,95.2 935.8,89.2 936.1,93.4 936.4,91.6 936.7,95.8 937,97.5 937.3,100.2 937.6,95.5 937.8,95.7 938.1,98.3 938.4,98.1 938.7,94.9 939,99 939.3,98.3 939.6,100 939.9,100.3 940.1,98.9 940.4,94.4 940.7,100.4 941,98.1 941.3,94.3 941.6,100.2 941.9,99.4 942.2,99.5 942.4,95.8 942.7,97.4 943,98.4 943.3,101.1 943.6,95 943.9,96.6 944.2,96.2 944.5,96 944.7,101.2 945,99.6 945.3,94.2 945.6,97.7 945.9,100.3 946.2,97.3 946.5,102 946.7,107.7 947,98.5 947.3,102.3 947.6,103.4 947.9,103.6 948.2,104.7 948.5,102.7 948.8,100.3 949,105.6 949.3,102.9 949.6,98.2 949.9,100.4 950.2,100.7 950.5,96.1 950.8,102.8 951.1,103.9 951.3,100 951.6,100.9 951.9,101.3 952.2,104 952.5,101.6 952.8,106.7 953.1,103.7 953.4,104.5 953.6,106.7 953.9,106.5 954.2,103.6 954.5,106.6 954.8,105.1 955.1,106 955.4,108.8 955.7,103.4 955.9,102.3 956.2,103 956.5,105 956.8,109.8 957.1,105.9 957.4,110.7 957.7,105.8 957.9,100.3 958.2,105.1 958.5,102.2 958.8,101.6 959.1,105.4 959.4,104.1 959.7,104.2 960,106 960.2,105 960.5,109.3 960.8,108.6 961.1,103.9 961.4,109 961.7,110.4 962,108.9 962.3,104.5 962.5,107.9 962.8,107.9 963.1,106.3 963.4,108.2 963.7,111.7 964,111.7 964.3,106.3 964.6,106.5 964.8,104.7 965.1,105.9 965.4,104.5 965.7,105.5 966,109.3 966.3,107.8 966.6,106.9 966.9,111.2 967.1,107.2 967.4,111 967.7,106 968,108 968.3,102.8 968.6,110.2 968.9,104 969.2,113.1 969.4,111.4 969.7,109.2 970,111.2 970.3,110.6 970.6,109.9 970.9,106.3 971.2,106.3 971.4,106.2 971.7,106.4 972,107.7 972.3,112.2 972.6,108.3 972.9,108.1 973.2,103 973.5,108.2 973.7,107.4 974,111.6 974.3,112.5 974.6,108.5 974.9,110.9 975.2,108.7 975.5,112.1 975.8,113.1 976,115.1 976.3,104.6 976.6,113.8 976.9,108.1 977.2,105.4 977.5,108.2 977.8,106.6 978.1,105.7 978.3,113.6 978.6,107.5 978.9,101.9 979.2,109.6 979.5,107.8 979.8,112.3 980.1,105.1 980.4,112.8 980.6,100.6 980.9,109.3 981.2,103 981.5,105 981.8,101.2 982.1,105.7 982.4,104.4 982.6,110.9 982.9,107.4 983.2,106.1 983.5,110 983.8,106 984.1,98.9 984.4,106.6 984.7,107 984.9,106.5 985.2,98 985.5,111.5 985.8,111.1 986.1,111.4 986.4,104.8 986.7,106.2 987,100.7 987.2,112 987.5,108.7 987.8,108.2 988.1,109.1 988.4,113 988.7,111.7 989,108 989.3,106.7 989.5,108.6 989.8,111.7 990.1,113.4 990.4,101.7 990.7,103 991,107.3 991.3,113.1 991.6,92.7 991.8,107.6 992.1,104.6 992.4,104.8 992.7,113.9 993,110.8 993.3,106.2 993.6,106.5 993.8,114.2 994.1,106.1 994.4,109.5 994.7,107.5 995,100.5 995.3,114.1 995.6,99.7 995.9,98 996.1,108.5 996.4,106.5 996.7,112.5 997,110.6 997.3,102.3 997.6,113.1 997.9,110.3 998.2,110.2 998.4,103.4 998.7,109.1 999,112.3 999.3,102.3 999.6,109.6 999.9,111.3 1000.2,113 1000.5,111.9 1000.7,113.5 1001,104.9 1001.3,104.8 1001.6,109.8 1001.9,106.5 1002.2,107.2 1002.5,104.1 1002.8,104.4 1003,108.6 1003.3,116.5 1003.6,109 1003.9,104.8 1004.2,110.5 1004.5,107.5 1004.8,102.8 1005.1,110.8 1005.3,111.1 1005.6,120.8 1005.9,117 1006.2,104.9 1006.5,110.6 1006.8,104.5 1007.1,108.3 1007.3,103.9 1007.6,101.1 1007.9,115.7 1008.2,110.4 1008.5,103.7 1008.8,108.2 1009.1,115.3 1009.4,107.8 1009.6,100.4 1009.9,108.2 1010.2,105.6 1010.5,105.9 1010.8,102.2 1011.1,108.4 1011.4,112.7 1011.7,106.3 1011.9,106.1 1012.2,103.7 1012.5,109.2 1012.8,115.2 1013.1,107.4 1013.4,111.7 1013.7,108.1 1014,111.8 1014.2,110 1014.5,107.3 1014.8,111.3 1015.1,105.8 1015.4,105.4 1015.7,104.8 1016,106.8 1016.3,110.5 1016.5,107.9 1016.8,108.4 1017.1,105.9 1017.4,108.5 1017.7,102.9 1018,111.8 1018.3,105.7 1018.5,110.7 1018.8,105.7 1019.1,110.2 1019.4,96.1 1019.7,107 1020,102.9 1020.3,109 1020.6,109.2 1020.8,110.2 1021.1,117.2 1021.4,104.3 1021.7,108.4 1022,112.5 1022.3,106.8 1022.6,106.6 1022.9,106.8 1023.1,103.3 1023.4,107.6 1023.7,105.6 1024,105 1024.3,111.4 1024.6,108.1 1024.9,100.8 1025.2,100.7 1025.4,110.4 1025.7,110.7 1026,112.6 1026.3,106.1 1026.6,104.1 1026.9,114.5 1027.2,108.4 1027.5,100.6 1027.7,100.4 1028,110.2 1028.3,104.4 1028.6,109.6 1028.9,109.7 1029.2,111.1 1029.5,105.4 1029.7,110.8 1030,111.4 1030.3,113.5 1030.6,114.8 1030.9,106.5 1031.2,108.5 1031.5,102.5 1031.8,110.7 1032,110.5 1032.3,113 1032.6,106.1 1032.9,103.8 1033.2,114.1 1033.5,103.4 1033.8,112.2 1034.1,103.9 1034.3,97.8 1034.6,110 1034.9,107.2 1035.2,106.9 1035.5,105.8 1035.8,104.4 1036.1,111.2 1036.4,102.2 1036.6,102.7 1036.9,109.4 1037.2,105.7 1037.5,109.4 1037.8,101.8 1038.1,110.9 1038.4,109.7 1038.7,105.6 1038.9,98.6 1039.2,106 1039.5,100 1039.8,106.1 1040.1,109.6 1040.4,104.1 1040.7,109.9 1041,108.4 1041.2,115 1041.5,102.7 1041.8,110.1 1042.1,103.2 1042.4,106.8 1042.7,107.9 1043,102.7 1043.2,103.6 1043.5,113.7 1043.8,102.2 1044.1,103.1 1044.4,106.7 1044.7,111.1 1045,110.5 1045.3,103 1045.5,100.1 1045.8,103.9 1046.1,110.4 1046.4,108.5 1046.7,100.1 1047,99.4 1047.3,108.8 1047.6,102.7 1047.8,107.7 1048.1,99.4 1048.4,103.4 1048.7,98.8 1049,105.1 1049.3,100.7 1049.6,104.5 1049.9,107.6 1050.1,106 1050.4,101.5 1050.7,106.9 1051,103 1051.3,103.1 1051.6,107.5 1051.9,110.1 1052.2,105.4 1052.4,108.9 1052.7,107.7 1053,107.2 1053.3,112.1 1053.6,109.8 1053.9,106.6 1054.2,100.7 1054.4,123.3 1054.7,108.2 1055,108 1055.3,99.4 1055.6,106.4 1055.9,110.4 1056.2,102.9 1056.5,105.6 1056.7,107.6 1057,109.7 1057.3,105.5 1057.6,106.9 1057.9,108.4 1058.2,106.5 1058.5,106 1058.8,106.4 1059,111.6 1059.3,100.4 1059.6,102 1059.9,102.6 1060.2,104.6 1060.5,106.5 1060.8,103.3 1061.1,102.1 1061.3,109.9 1061.6,107.5 1061.9,110.2 1062.2,111.1 1062.5,105.8 1062.8,108.5 1063.1,107.3 1063.4,110.2 1063.6,101.6 1063.9,103.4 1064.2,108 1064.5,104 1064.8,108.7 1065.1,105.6 1065.4,102.7 1065.6,108 1065.9,99.3 1066.2,104.5 1066.5,102 1066.8,107.9 1067.1,96.4 1067.4,107.7 1067.7,106.1 1067.9,99.8 1068.2,101.2 1068.5,104.4 1068.8,112.5 1069.1,105.8 1069.4,99.9 1069.7,106.3 1070,105.6 1070.2,108.2 1070.5,107.5 1070.8,104.3 1071.1,103.9 1071.4,103.9 1071.7,105.6 1072,100.3 1072.3,103.9 1072.5,96.8 1072.8,104.9 1073.1,99.3 1073.4,106.1 1073.7,104.2 1074,103.6 1074.3,103.9 1074.6,109.3 1074.8,103.1 1075.1,111.2 1075.4,108.1 1075.7,107.3 1076,98.3 1076.3,107.7 1076.6,103.1 1076.9,103.1 1077.1,110.9 1077.4,102.3 1077.7,97 1078,100.4 1078.3,105.9 1078.6,107.3 1078.9,102.6 1079.1,107.4 1079.4,108.4 1079.7,102 1080,111.6 1080.3,109.7 1080.6,109.6 1080.9,103.5 1081.2,103.8 1081.4,100 1081.7,107.5 1082,106.6 1082.3,104.6 1082.6,102.3 1082.9,100.3 1083.2,98.7 1083.5,105.2 1083.7,106.1 1084,101.1 1084.3,96.4 1084.6,109.4 1084.9,102.4 1085.2,100.3 1085.5,105.1 1085.8,105.4 1086,106 1086.3,105 1086.6,104 1086.9,108.8 1087.2,98.2 1087.5,106.1 1087.8,98.1 1088.1,102.5 1088.3,105 1088.6,103.9 1088.9,116.5 1089.2,107.3 1089.5,98.3 1089.8,105.7 1090.1,106.8 1090.3,106 1090.6,105.3 1090.9,105 1091.2,109.3 1091.5,105.1 1091.8,104.5 1092.1,102.1 1092.4,109.3 1092.6,105.4 1092.9,104.1 1093.2,103.4 1093.5,105.8 1093.8,95.9 1094.1,102.6 1094.4,96.4 1094.7,101.1 1094.9,113.2 1095.2,104.9 1095.5,108 1095.8,103.3 1096.1,103.3 1096.4,99.3 1096.7,107.6 1097,106.1 1097.2,101.7 1097.5,102.9 1097.8,108.2 1098.1,100.8 1098.4,104.1 1098.7,109 1099,103.6 1099.3,107.5 1099.5,100.8 1099.8,96 1100.1,105.2 1100.4,101.2 1100.7,104.3 1101,97.9 1101.3,91.6 1101.5,107.5 1101.8,103.5 1102.1,100.5 1102.4,97.5 1102.7,101.9 1103,103.3 1103.3,106.2 1103.6,110.5 1103.8,103.1 1104.1,99.1 1104.4,103.4 1104.7,95.6 1105,99.5 1105.3,100.9 1105.6,102.3 1105.9,98.6 1106.1,103 1106.4,106.7 1106.7,97.5 1107,102.3 1107.3,105.2 1107.6,107.2 1107.9,103.1 1108.2,109.5 1108.4,99.2 1108.7,105 1109,105.9 1109.3,105.8 1109.6,111 1109.9,111.5 1110.2,108 1110.5,102.8 1110.7,106 1111,101.2 1111.3,97.1 1111.6,101.8 1111.9,99.7 1112.2,100.4 1112.5,104.2 1112.8,104.7 1113,99.7 1113.3,98.9 1113.6,97.1 1113.9,101.1 1114.2,97.3 1114.5,103.6 1114.8,100.3 1115,100.9 1115.3,102 1115.6,99.4 1115.9,99.1 1116.2,105.4 1116.5,102.9 1116.8,96.4 1117.1,104.1 1117.3,99.3 1117.6,104.8 1117.9,109.5 1118.2,105.3 1118.5,105.4 1118.8,102.2 1119.1,96.7 1119.4,101.2 1119.6,99.1 1119.9,99.1 1120.2,100.7 1120.5,105.8 1120.8,105 1121.1,102.3 1121.4,98.6 1121.7,106.6 1121.9,98.6 1122.2,99.6 1122.5,105.1 1122.8,107.3 1123.1,98.5 1123.4,101.1 1123.7,102 1124,99.2 1124.2,95.8 1124.5,100.8 1124.8,108.4 1125.1,105.8 1125.4,104 1125.7,102.4 1126,102 1126.2,103.6 1126.5,100.1 1126.8,102.3 1127.1,98.7 1127.4,92.6 1127.7,102.2 1128,103.3 1128.3,99.5 1128.5,105.9 1128.8,98 1129.1,106.1 1129.4,100.3 1129.7,96.6 1130,105.3 1130.3,100 1130.6,104.9 1130.8,96.5 1131.1,90.7 1131.4,104.1 1131.7,104.2 1132,105.4 1132.3,108.3 1132.6,97.2 1132.9,97.7 1133.1,97.5 1133.4,103.1 1133.7,107.5 1134,106.3 1134.3,97.3 1134.6,102.8 1134.9,95.7 1135.2,104.6 1135.4,101.7 1135.7,104 1136,102.9 1136.3,101.1 1136.6,103.6 1136.9,106 1137.2,105.8 1137.4,105 1137.7,97.3 1138,106.3 1138.3,103 1138.6,107 1138.9,94.7 1139.2,106.1 1139.5,102 1139.7,101.6 1140,101.9 1140.3,100 1140.6,106 1140.9,96.4 1141.2,102.9 1141.5,105.7 1141.8,96.2 1142,96.8 1142.3,99.5 1142.6,102.3 1142.9,106 1143.2,103.6 1143.5,105 1143.8,102.9 1144.1,102.6 1144.3,104.3 1144.6,103.6 1144.9,107.9 1145.2,105.9 1145.5,102.5 1145.8,102.6 1146.1,107.5 1146.4,97.6 1146.6,103.4 1146.9,106.6 1147.2,99.9 1147.5,107.8 1147.8,92.8 1148.1,97 1148.4,98.6 1148.7,98.9 1148.9,101.6 1149.2,105.9 1149.5,100.6 1149.8,107.3 1150.1,101.3 1150.4,98.1 1150.7,103.2 1150.9,98.6 1151.2,100.9 1151.5,105.6 1151.8,105.6 1152.1,104.8 1152.4,103 1152.7,101.3 1153,98 1153.2,95.8 1153.5,99.9 1153.8,95.9 1154.1,100.7 1154.4,104 1154.7,101.5 1155,98.1 1155.3,101.1 1155.5,95.2 1155.8,106.2 1156.1,103.1 1156.4,99.9 1156.7,102.6 1157,101.2 1157.3,105.8 1157.6,97.6 1157.8,100.7 1158.1,106.8 1158.4,98.5 1158.7,94.9 1159,96.7 1159.3,96.6 1159.6,103 1159.9,106.5 1160.1,99.7 1160.4,95.6 1160.7,99.1 1161,106.8 1161.3,100.4 1161.6,110.5 1161.9,100 1162.1,102.8 1162.4,98.7 1162.7,108.1 1163,100.7 1163.3,104.6 1163.6,101.4 1163.9,104.6 1164.2,108 1164.4,102.3 1164.7,102.4 1165,100.9 1165.3,103.2 1165.6,103 1165.9,99.2 1166.2,85.7 1166.5,104.3 1166.7,101.3 1167,99.5 1167.3,103.2 1167.6,100.1 1167.9,102 1168.2,107.1 1168.5,102 1168.8,103.1 1169,101.9 1169.3,105 1169.6,109.3 1169.9,103.4 1170.2,99.4 1170.5,104.9 1170.8,102.4 1171.1,99.9 1171.3,99.1 1171.6,100.8 1171.9,106.8 1172.2,99 1172.5,100.3 1172.8,99.1 1173.1,104.3 1173.3,100.2 1173.6,101.7 1173.9,106.3 1174.2,102.4 1174.5,100.1 1174.8,101 1175.1,103.8 1175.4,101 1175.6,97.2 1175.9,100.3 1176.2,101.8 1176.5,104.4 1176.8,104.9 1177.1,96.1 1177.4,96.3 1177.7,99.5 1177.9,99.8 1178.2,105.4 1178.5,99.7 1178.8,93.9 1179.1,106 1179.4,97.6 1179.7,102.8 1180,99.7 1180.2,105.2 1180.5,99.1 1180.8,96.8 1181.1,103.4 1181.4,102.1 1181.7,97.3 1182,104.3 1182.3,98.5 1182.5,98.9 1182.8,104.8 1183.1,106 1183.4,106.1 1183.7,105.9 1184,107.4 1184.3,100.9 1184.6,102.7 1184.8,102.6 1185.1,104.3 1185.4,98.8 1185.7,94.7 1186,107.6 1186.3,105.6 1186.6,103.2 1186.8,99.9 1187.1,105 1187.4,96.7 1187.7,109.1 1188,95.9 1188.3,104.4 1188.6,105 1188.9,101.5 1189.1,101.3 1189.4,100.6 1189.7,99.3 1190,98.3 1190.3,98.4 1190.6,98.4 1190.9,102.4 1191.2,98 1191.4,97.8 1191.7,106.4 1192,98.3 1192.3,97 1192.6,99.5 1192.9,109.2 1193.2,101 1193.5,106.4 1193.7,102.3 1194,99.8 1194.3,105.1 1194.6,109.1 1194.9,100.6 1195.2,99 1195.5,98.5 1195.8,96.8 1196,106.7 1196.3,99.5 1196.6,99.2 1196.9,98 1197.2,105.4 1197.5,100.3 1197.8,99.2 1198,96.3 1198.3,95.5 1198.6,101.6 1198.9,103.1 1199.2,107.5 1199.5,95.1 1199.8,105.3 1200.1,96.3 1200.3,104.4 1200.6,98.1 1200.9,100.8 1201.2,99.4 1201.5,104.9 1201.8,104.8 1202.1,98.9 1202.4,99.7 1202.6,96.1 1202.9,101.5 1203.2,102.8 1203.5,99 1203.8,97.3 1204.1,104.5 1204.4,102 1204.7,96.9 1204.9,103.8 1205.2,99.6 1205.5,98.1 1205.8,97.5 1206.1,109.9 1206.4,101.5 1206.7,96.5 1207,102 1207.2,97.2 1207.5,95.9 1207.8,97.3 1208.1,104.2 1208.4,98 1208.7,103.7 1209,102.6 1209.2,98.5 1209.5,98.8 1209.8,101.2 1210.1,97.2 1210.4,94.1 1210.7,98 1211,103.9 1211.3,101.1 1211.5,102.9 1211.8,98.4 1212.1,109.9 1212.4,99.7 1212.7,98.9 1213,103.6 1213.3,105.8 1213.6,99.9 1213.8,104 1214.1,104.3 1214.4,101.1 1214.7,102.3 1215,103.1 1215.3,100.4 1215.6,99.5 1215.9,101.2 1216.1,104.4 1216.4,102.8 1216.7,102.2 1217,108 1217.3,98.8 1217.6,97 1217.9,97.8 1218.2,97.7 1218.4,99.7 1218.7,101.1 1219,98 1219.3,98.8 1219.6,98.3 1219.9,104 1220.2,98 1220.5,96 1220.7,100.2 1221,102.5 1221.3,104.5 1221.6,99.8 1221.9,98.9 1222.2,102.2 1222.5,103.6 1222.7,98 1223,98.5 1223.3,97.9 1223.6,106 1223.9,101.2 1224.2,105.3 1224.5,98 1224.8,103.9 1225,101.6 1225.3,99.4 1225.6,100.2 1225.9,98.3 1226.2,100.4 1226.5,106.5 1226.8,105.4 1227.1,100 1227.3,88.5 1227.6,100.4 1227.9,102.9 1228.2,107.9 1228.5,96.4 1228.8,103.6 1229.1,97.8 1229.4,96.2 1229.6,98.3 1229.9,104.5 1230.2,103.9 1230.5,103.3 1230.8,98.7 1231.1,102.5 1231.4,97.8 1231.7,96.3 1231.9,99.7 1232.2,102.2 1232.5,99.4 1232.8,101.3 1233.1,101 1233.4,99.3 1233.7,97.5 1233.9,97.9 1234.2,101.4 1234.5,101.8 1234.8,97.5 1235.1,94.5 1235.4,95.5 1235.7,102.8 1236,99.4 1236.2,98 1236.5,97.7 1236.8,100.1 1237.1,104.6 1237.4,95.6 1237.7,105.1 1238,100.6 1238.3,105.8 1238.5,101 1238.8,91.1 1239.1,105.3 1239.4,86.2 1239.7,110.9 1240,98.2 1240.3,96.8 1240.6,98.3 1240.8,102.3 1241.1,102.6 1241.4,100.6 1241.7,98.5 1242,100.1 1242.3,95 1242.6,102 1242.9,102.2 1243.1,99.2 1243.4,103.2 1243.7,100.8 1244,100.9 1244.3,106.1 1244.6,92 1244.9,101 1245.1,98.4 1245.4,95.9 1245.7,100.2 1246,103.1 1246.3,100 1246.6,106.2 1246.9,100 1247.2,97.7 1247.4,98.2 1247.7,101.7 1248,99.9 1248.3,102.4 1248.6,98.8 1248.9,96.2 1249.2,100.3 1249.5,98.8 1249.7,95.2 1250,104 1250.3,94.9 1250.6,104 1250.9,101 1251.2,98.5 1251.5,95.9 1251.8,115.3 1252,100.8 1252.3,101.1 1252.6,99.4 1252.9,99.9 1253.2,96 1253.5,98.7 1253.8,96.4 1254.1,100.5 1254.3,101.4 1254.6,102.9 1254.9,100.7 1255.2,101.3 1255.5,97.5 1255.8,104.3 1256.1,97.2 1256.4,103.7 1256.6,100.6 1256.9,91.8 1257.2,98.9 1257.5,108 1257.8,101.6 1258.1,94.9 1258.4,98.1 1258.6,102.8 1258.9,96.3 1259.2,101.7 1259.5,100.9 1259.8,102.6 1260.1,98.2 1260.4,98.1 1260.7,101.6 1260.9,99.9 1261.2,98.3 1261.5,97.3 1261.8,100 1262.1,100.5 1262.4,102.6 1262.7,97.2 1263,99.8 1263.2,101.4 1263.5,103.8 1263.8,98.8 1264.1,103 1264.4,94.5 1264.7,100.7 1265,92.6 1265.3,100.8 1265.5,106.5 1265.8,97.4 1266.1,102.1 1266.4,98.4 1266.7,100.7 1267,101.6 1267.3,103.5 1267.6,104.2 1267.8,99.8 1268.1,100 1268.4,104.4 1268.7,97.1 1269,93.5 1269.3,101.1 1269.6,100.6 1269.8,98.4 1270.1,105.3 1270.4,99.9 1270.7,98.6 1271,100.8 1271.3,97.3 1271.6,99 1271.9,98.3 1272.1,95.3 1272.4,99.9 1272.7,95.9 1273,101.3 1273.3,105.4 1273.6,96.4 1273.9,99.3 1274.2,107.2 1274.4,99.7 1274.7,102 1275,98.7 1275.3,96.2 1275.6,96.4 1275.9,95.6 1276.2,101.3 1276.5,101.8 1276.7,101.8 1277,97.7 1277.3,99.4 1277.6,99.4 1277.9,101.8 1278.2,95.1 1278.5,100.3 1278.8,101.3 1279,101 1279.3,101.6 1279.6,97.6 1279.9,95.4 1280.2,101.5 1280.5,100.4 1280.8,102.2 1281,100.5 1281.3,101.1 1281.6,106.1 1281.9,102.8 1282.2,104.9 1282.5,92.7 1282.8,95.4 1283.1,99 1283.3,100.4 1283.6,104.2 1283.9,105.4 1284.2,103.3 1284.5,102.1 1284.8,96.4 1285.1,104.2 1285.4,103 1285.6,101.6 1285.9,101.5 1286.2,98.9 1286.5,102.4 1286.8,105 1287.1,98.8 1287.4,96 1287.7,97.8 1287.9,93.6 1288.2,95.1 1288.5,99.9 1288.8,106.1 1289.1,99.4 1289.4,99.8 1289.7,97.3 1290,100.8 1290.2,97.2 1290.5,102.8 1290.8,104.1 1291.1,96.9 1291.4,96.5 1291.7,99.3 1292,96.1 1292.3,97.3 1292.5,98 1292.8,92.8 1293.1,97.6 1293.4,104.3 1293.7,99 1294,101.3 1294.3,107.8 1294.5,103.2 1294.8,96.5 1295.1,102.2 1295.4,101.8 1295.7,102.6 1296,102.3 1296.3,101.3 1296.6,104 1296.8,96.5 1297.1,104.8 1297.4,101.6 1297.7,101 1298,99.5 1298.3,100.9 1298.6,94.9 1298.9,106.2 1299.1,100.3 1299.4,100.1 1299.7,100.6 1300,102.5 1300.3,101.5 1300.6,94.7 1300.9,102.5 1301.2,100.8 1301.4,108.9 1301.7,99.7 1302,103.9 1302.3,103.4 1302.6,101 1302.9,101.5 1303.2,101.1 1303.5,103.4 1303.7,98.8 1304,96.8 1304.3,98.7 1304.6,95 1304.9,97.5 1305.2,97.9 1305.5,100.9 1305.7,100.8 1306,98.5 1306.3,102.5 1306.6,97.1 1306.9,99.3 1307.2,100.8 1307.5,98.7 1307.8,101.9 1308,102.9 1308.3,96.7 1308.6,101.1 1308.9,102.3 1309.2,101.9 1309.5,97.2 1309.8,104.7 1310.1,101.2 1310.3,101.1 1310.6,97.3 1310.9,99.3 1311.2,101.1 1311.5,107.4 1311.8,101 1312.1,101.6 1312.4,101.9 1312.6,99.4 1312.9,101.8 1313.2,100.4 1313.5,101.2 1313.8,103.3 1314.1,101.8 1314.4,101.1 1314.7,101.2 1314.9,98.9 1315.2,101.1 1315.5,98.7 1315.8,106 1316.1,102 1316.4,96 1316.7,96.2 1316.9,99.7 1317.2,101.2 1317.5,101.7 1317.8,105.6 1318.1,108.3 1318.4,99.7 1318.7,100.8 1319,102.3 1319.2,100.7 1319.5,101.3 1319.8,100.9 1320.1,102 1320.4,103 1320.7,98.9 1321,100.7 1321.3,101.4 1321.5,106.9 1321.8,95.4 1322.1,99.4 1322.4,99.4 1322.7,99.5 1323,101.8 1323.3,93.4 1323.6,103.8 1323.8,101.1 1324.1,97.3 1324.4,104.1 1324.7,100.9 1325,107.5 1325.3,101.3 1325.6,100.9 1325.9,97.3 1326.1,98.1 1326.4,98.7 1326.7,100.4 1327,100.6 1327.3,105.9 1327.6,103.4 1327.9,96.4 1328.2,102.3 1328.4,106 1328.7,100.1 1329,100.7 1329.3,101.3 1329.6,105 1329.9,99.8 1330.2,104.3 1330.4,100.2 1330.7,99.5 1331,102.5 1331.3,103.3 1331.6,97.4 1331.9,95.9 1332.2,97.6 1332.5,106.7 1332.7,99.3 1333,102.2 1333.3,104.6 1333.6,103 1333.9,98.9 1334.2,101.8 1334.5,99.5 1334.8,104.5 1335,98.5 1335.3,98.9 1335.6,98.6 1335.9,97.9 1336.2,103.3 1336.5,100.1 1336.8,98.3 1337.1,96.7 1337.3,90.2 1337.6,106.5 1337.9,105.9 1338.2,103.7 1338.5,97.2 1338.8,106.7 1339.1,100.7 1339.4,97.9 1339.6,103.8 1339.9,100.9 1340.2,99.4 1340.5,106 1340.8,95.9 1341.1,101.9 1341.4,95.5 1341.6,101 1341.9,99.8 1342.2,103.9 1342.5,104.5 1342.8,101.8 1343.1,101.6 1343.4,105.1 1343.7,104.7 1343.9,99.7 1344.2,102.1 1344.5,109.7 1344.8,101.7 1345.1,100.5 1345.4,91.3 1345.7,101.5 1346,99.6 1346.2,99.7 1346.5,94.5 1346.8,99 1347.1,105.6 1347.4,101.9 1347.7,104 1348,97.1 1348.3,102.8 1348.5,97.1 1348.8,104.1 1349.1,99.7 1349.4,99.5 1349.7,95.6 1350,97.4 1350.3,101.5 1350.6,100.8 1350.8,103 1351.1,103.3 1351.4,97.7 1351.7,107.6 1352,103.3 1352.3,98 1352.6,104 1352.8,102.1 1353.1,102.6 1353.4,98.4 1353.7,106.2 1354,98.6 1354.3,101 1354.6,101.8 1354.9,96.8 1355.1,101.7 1355.4,99.3 1355.7,101 1356,99.9 1356.3,98.6 1356.6,103 1356.9,102.1 1357.2,102.1 1357.4,105.1 1357.7,99.8 1358,104.4 1358.3,98.2 1358.6,100.6 1358.9,100.4 1359.2,100.8 1359.5,102.5 1359.7,99.1 1360,109.1 1360.3,101.9 1360.6,100.6 1360.9,103.6 1361.2,103.8 1361.5,102.1 1361.8,96.2 1362,104.4 1362.3,106.8 1362.6,101.4 1362.9,98.1 1363.2,101.4 1363.5,100 1363.8,100.7 1364.1,99.6 1364.3,104.3 1364.6,100.3 1364.9,100.1 1365.2,102.2 1365.5,105.8 1365.8,98.6 1366.1,97 1366.3,98.3 1366.6,105.3 1366.9,92 1367.2,102.7 1367.5,104.6 1367.8,90 1368.1,105.2 1368.4,105.3 1368.6,99 1368.9,103.7 1369.2,100.6 1369.5,104.2 1369.8,103.7 1370.1,101.9 1370.4,101.7 1370.7,100.6 1370.9,108.5 1371.2,104.2 1371.5,106.5 1371.8,99.6 1372.1,101.3 1372.4,104.6 1372.7,101.1 1373,103.6 1373.2,102.5 1373.5,100.5 1373.8,105.6 1374.1,98.6 1374.4,102.3 1374.7,96.2 1375,100.4 1375.3,103.6 1375.5,113.8 1375.8,102.9 1376.1,102 1376.4,107.4 1376.7,100.4 1377,96 1377.3,102 1377.5,97.2 1377.8,105.4 1378.1,105.5 1378.4,99.2 1378.7,102.3 1379,102.5 1379.3,103.7 1379.6,95.7 1379.8,106.7 1380.1,99.9 1380.4,102.1 1380.7,105.5 1381,107 1381.3,97.5 1381.6,104.6 1381.9,96.7 1382.1,95.5 1382.4,87.7 1382.7,106.1 1383,100.5 1383.3,106.3 1383.6,104.4 1383.9,101.8 1384.2,105.8 1384.4,101.1 1384.7,101.4 1385,105.1 1385.3,109.1 1385.6,105.2 1385.9,104.4 1386.2,104.9 1386.5,101.8 1386.7,103.5 1387,97.8 1387.3,112.3 1387.6,110.6 1387.9,101.4 1388.2,107.8 1388.5,105 1388.7,105.7 1389,100.8 1389.3,96.6 1389.6,99.8 1389.9,95.9 1390.2,96.8 1390.5,103.7 1390.8,100.7 1391,99.4 1391.3,108.7 1391.6,112.5 1391.9,100.8 1392.2,108.5 1392.5,106.3 1392.8,103.4 1393.1,106 1393.3,107.3 1393.6,107.9 1393.9,100.6 1394.2,102.3 1394.5,117.8 1394.8,101.1 1395.1,104.9 1395.4,98.9 1395.6,105.1 1395.9,99.4 1396.2,107.9 1396.5,109.5 1396.8,105.9 1397.1,100.1 1397.4,100.5 1397.7,99.4 1397.9,101.6 1398.2,105.7 1398.5,100.6 1398.8,96.7 1399.1,102 1399.4,108.9 1399.7,98.6 1400,107.2 1400.2,106.8 1400.5,101.9 1400.8,105.7 1401.1,106.2 1401.4,103.7 1401.7,98.5 1402,100.6 1402.2,103.3 1402.5,102.1 1402.8,97.5 1403.1,107.2 1403.4,103.9 1403.7,104.4 1404,102.2 1404.3,103.6 1404.5,99.5 1404.8,101.3 1405.1,98.5 1405.4,103.5 1405.7,106.5 1406,104.3 1406.3,101.4 1406.6,104.1 1406.8,104.9 1407.1,100.8 1407.4,104.2 1407.7,111 1408,98.3 1408.3,101.3 1408.6,102.8 1408.9,104.5 1409.1,107.4 1409.4,105.7 1409.7,103.7 1410,111.3 1410.3,96.3 1410.6,107.1 1410.9,103.3 1411.2,107 1411.4,101.5 1411.7,103.8 1412,104.1 1412.3,102.3" stroke="#ffa500" stroke-width="3.9" stroke-linejoin="miter" stroke-miterlimit="2"/>
<polyline fill="none" points="837.9,346.6 838.2,352.2 838.5,338.6 838.8,336.5 839,344.4 839.3,342.7 839.6,327.8 839.9,353.3 840.2,338.4 840.5,341.2 840.8,316.1 841.1,346 841.3,319.4 841.6,366.6 841.9,350.8 842.2,336.2 842.5,357.3 842.8,378 843.1,350.7 843.4,335.2 843.6,330.5 843.9,348.1 844.2,337.6 844.5,351.3 844.8,354.6 845.1,329.7 845.4,322.2 845.7,369.2 845.9,329.8 846.2,327.4 846.5,320 846.8,344.4 847.1,343.8 847.4,316.9 847.7,343.6 848,324.9 848.2,355.5 848.5,348.8 848.8,361.5 849.1,308.8 849.4,340 849.7,342.5 850,346.3 850.2,313.8 850.5,332.6 850.8,349.3 851.1,297.2 851.4,324.2 851.7,348.3 852,331.9 852.3,348.6 852.5,324.1 852.8,309.3 853.1,290.1 853.4,307 853.7,329.8 854,306.6 854.3,328.9 854.6,330.5 854.8,320.6 855.1,350.6 855.4,287.9 855.7,317.5 856,301.2 856.3,302.1 856.6,302 856.9,289.2 857.1,332 857.4,318.1 857.7,329.8 858,306.1 858.3,347.3 858.6,297.6 858.9,298.2 859.2,340.4 859.4,307.1 859.7,309.3 860,322.1 860.3,297 860.6,304.1 860.9,303.3 861.2,287.9 861.5,318.3 861.7,281.4 862,286.8 862.3,322.2 862.6,324 862.9,280.1 863.2,286.6 863.5,298 863.7,309 864,312.9 864.3,274.2 864.6,311.6 864.9,302 865.2,275.6 865.5,293.7 865.8,281.8 866,285.5 866.3,275.9 866.6,283.1 866.9,299.1 867.2,267 867.5,271.6 867.8,307.9 868.1,288.9 868.3,271.6 868.6,238.5 868.9,293.2 869.2,269.5 869.5,295.1 869.8,273.7 870.1,271.4 870.4,287 870.6,300.8 870.9,277.8 871.2,255.8 871.5,263.8 871.8,230.5 872.1,256.7 872.4,273.8 872.7,254.4 872.9,276.2 873.2,269.7 873.5,261.9 873.8,244.3 874.1,255.6 874.4,271.8 874.7,259.3 874.9,247.6 875.2,257.7 875.5,265 875.8,253.8 876.1,272.2 876.4,276.5 876.7,272.2 877,235.6 877.2,254.2 877.5,245.1 877.8,288.3 878.1,250.6 878.4,227.2 878.7,275.1 879,244.9 879.3,258.8 879.5,246 879.8,258.3 880.1,246.8 880.4,262 880.7,258.6 881,243.4 881.3,255.3 881.6,219.7 881.8,226 882.1,239.9 882.4,233.7 882.7,248.6 883,262.6 883.3,241 883.6,208.4 883.9,211 884.1,278.4 884.4,205.9 884.7,221.2 885,238.5 885.3,218.8 885.6,251.1 885.9,233.3 886.1,234.3 886.4,237.5 886.7,229.4 887,226.5 887.3,245.1 887.6,236.9 887.9,229.7 888.2,243.2 888.4,244.9 888.7,232.4 889,261.1 889.3,224.9 889.6,219.9 889.9,244.1 890.2,212 890.5,238.8 890.7,240.9 891,236.6 891.3,242.7 891.6,257.9 891.9,234.4 892.2,231.8 892.5,246.6 892.8,255.2 893,255.8 893.3,225.7 893.6,244.6 893.9,250.5 894.2,238.8 894.5,212.6 894.8,234.9 895.1,236.7 895.3,244.1 895.6,212 895.9,219.7 896.2,220.4 896.5,230.2 896.8,232.9 897.1,235.5 897.4,233.4 897.6,301.4 897.9,222.7 898.2,243.9 898.5,236.2 898.8,248.9 899.1,234 899.4,230.5 899.6,206.1 899.9,228.5 900.2,234.9 900.5,211.7 900.8,211.5 901.1,240.5 901.4,217.2 901.7,229.7 901.9,226.2 902.2,240.6 902.5,196.4 902.8,236.5 903.1,266.9 903.4,264.7 903.7,213 904,219.9 904.2,217.3 904.5,234.8 904.8,251.8 905.1,225.6 905.4,243.6 905.7,218.3 906,210.6 906.3,244.4 906.5,197.2 906.8,197.8 907.1,200.5 907.4,186.3 907.7,219.5 908,237.7 908.3,180.6 908.6,195.8 908.8,208.8 909.1,219.5 909.4,203.5 909.7,196.4 910,207 910.3,217.6 910.6,205.3 910.8,184.3 911.1,176 911.4,199.1 911.7,208.8 912,186.4 912.3,210.4 912.6,238.6 912.9,216.5 913.1,213.4 913.4,234.6 913.7,199 914,196.9 914.3,214.7 914.6,217.4 914.9,203.4 915.2,200.9 915.4,200.9 915.7,207.9 916,204.5 916.3,232.8 916.6,198.2 916.9,207.6 917.2,192.3 917.5,202.7 917.7,191.6 918,224.1 918.3,193.2 918.6,198 918.9,226.4 919.2,199 919.5,225.4 919.8,214.7 920,204.8 920.3,212.4 920.6,218.9 920.9,215 921.2,210.1 921.5,202.7 921.8,200 922,223.3 922.3,212 922.6,213.1 922.9,196.7 923.2,215 923.5,202 923.8,209.1 924.1,213.5 924.3,194.7 924.6,213.7 924.9,210.9 925.2,209 925.5,213.8 925.8,208 926.1,200.9 926.4,202.5 926.6,192.5 926.9,214.2 927.2,210.5 927.5,190.4 927.8,219.1 928.1,218.9 928.4,209.3 928.7,204.3 928.9,182.9 929.2,193.8 929.5,196.5 929.8,205.4 930.1,198.2 930.4,213.9 930.7,221.5 931,215.1 931.2,187 931.5,210.7 931.8,200.4 932.1,201.4 932.4,211.1 932.7,192.1 933,206.6 933.3,199.2 933.5,200.3 933.8,226.4 934.1,208.9 934.4,198.9 934.7,190.6 935,195.3 935.3,205 935.5,225 935.8,218.2 936.1,202.4 936.4,201.4 936.7,212.2 937,203.6 937.3,195.2 937.6,201.7 937.8,188.5 938.1,199.4 938.4,207.2 938.7,198.6 939,197.1 939.3,199 939.6,215.1 939.9,194.9 940.1,198.7 940.4,212.7 940.7,198.2 941,199.4 941.3,222 941.6,213.5 941.9,209.7 942.2,193 942.4,213.5 942.7,212.6 943,216.7 943.3,201.8 943.6,197.4 943.9,206.4 944.2,191.6 944.5,200.9 944.7,206.1 945,197.4 945.3,203.8 945.6,199 945.9,218.7 946.2,220.4 946.5,193.7 946.7,217.4 947,216.1 947.3,200.1 947.6,220.7 947.9,213.8 948.2,204.6 948.5,192.9 948.8,200.8 949,198.6 949.3,197.8 949.6,217.7 949.9,191.1 950.2,195 950.5,185.4 950.8,192.2 951.1,181.7 951.3,196.2 951.6,210.3 951.9,217.7 952.2,215.9 952.5,222.2 952.8,204.8 953.1,199.7 953.4,194 953.6,202.1 953.9,206.1 954.2,208.9 954.5,204.5 954.8,207.2 955.1,196.1 955.4,197.4 955.7,199.3 955.9,203.6 956.2,224.4 956.5,200.5 956.8,213.5 957.1,194.4 957.4,202 957.7,203.9 957.9,206.2 958.2,200.7 958.5,176 958.8,192.6 959.1,205.3 959.4,183.8 959.7,184.6 960,202.7 960.2,180.1 960.5,180.6 960.8,165.1 961.1,167.2 961.4,168.2 961.7,173.6 962,190.2 962.3,148.8 962.5,172.3 962.8,171.8 963.1,149.5 963.4,147 963.7,144.7 964,147.3 964.3,149.3 964.6,143.7 964.8,150.2 965.1,146.2 965.4,150.9 965.7,139.4 966,139.5 966.3,144 966.6,138.8 966.9,117.8 967.1,138.9 967.4,121.8 967.7,136.5 968,147.4 968.3,134.2 968.6,120.8 968.9,118.1 969.2,134.8 969.4,114.4 969.7,105.5 970,121.3 970.3,122.2 970.6,110.3 970.9,101.2 971.2,102.2 971.4,94.5 971.7,107.6 972,107.9 972.3,101.1 972.6,103.5 972.9,106.7 973.2,107.8 973.5,92.3 973.7,102.2 974,97.9 974.3,94.5 974.6,96.6 974.9,91.1 975.2,92 975.5,98.3 975.8,92.5 976,94.9 976.3,94.9 976.6,88.5 976.9,95.1 977.2,89.3 977.5,98.7 977.8,85.7 978.1,83.1 978.3,91.3 978.6,90.4 978.9,89.6 979.2,78 979.5,80.6 979.8,85.1 980.1,92.2 980.4,85.1 980.6,84.2 980.9,81.1 981.2,87 981.5,79.1 981.8,78.7 982.1,75.4 982.4,76.1 982.6,86.8 982.9,81.1 983.2,72.3 983.5,88 983.8,71.1 984.1,72.4 984.4,80.4 984.7,82.3 984.9,67.2 985.2,68.7 985.5,71.2 985.8,78 986.1,79.7 986.4,74.9 986.7,73.2 987,65 987.2,71.2 987.5,75.2 987.8,77.9 988.1,77.7 988.4,67.6 988.7,77.3 989,67.9 989.3,70.1 989.5,66 989.8,69.8 990.1,71.5 990.4,69.4 990.7,71.2 991,76.1 991.3,68.5 991.6,76.7 991.8,73.4 992.1,77.7 992.4,65.2 992.7,63.1 993,66 993.3,64.7 993.6,74.8 993.8,67.5 994.1,66 994.4,70.8 994.7,67.6 995,67.9 995.3,74.5 995.6,72.8 995.9,62.3 996.1,68.1 996.4,60.5 996.7,64.7 997,63 997.3,59.3 997.6,66.3 997.9,62.7 998.2,68.9 998.4,69.6 998.7,73.7 999,65.6 999.3,68.4 999.6,69.7 999.9,71.8 1000.2,64.4 1000.5,67.8 1000.7,66.1 1001,67.8 1001.3,71.9 1001.6,66.3 1001.9,64.5 1002.2,65.8 1002.5,67.7 1002.8,60 1003,60.8 1003.3,60.6 1003.6,66.4 1003.9,65.8 1004.2,74.3 1004.5,67.4 1004.8,67.6 1005.1,61.1 1005.3,67.7 1005.6,63.9 1005.9,70.3 1006.2,68.3 1006.5,73.1 1006.8,74 1007.1,66 1007.3,65 1007.6,72 1007.9,68.4 1008.2,66.8 1008.5,54.9 1008.8,71.2 1009.1,60.4 1009.4,72.2 1009.6,68 1009.9,67.1 1010.2,65.2 1010.5,58.3 1010.8,62.7 1011.1,70 1011.4,59.7 1011.7,70.8 1011.9,68.8 1012.2,66.6 1012.5,70.9 1012.8,72.9 1013.1,68.2 1013.4,62.6 1013.7,64.1 1014,67.5 1014.2,64.2 1014.5,71.5 1014.8,64.6 1015.1,72.5 1015.4,65.6 1015.7,69.3 1016,64.2 1016.3,62.2 1016.5,59.9 1016.8,61.7 1017.1,64.5 1017.4,68.8 1017.7,69.4 1018,66.3 1018.3,64.2 1018.5,72.4 1018.8,68.4 1019.1,70.8 1019.4,66.2 1019.7,69.3 1020,68.3 1020.3,66.6 1020.6,60.7 1020.8,65.4 1021.1,65.5 1021.4,67.1 1021.7,59.3 1022,62.3 1022.3,63.2 1022.6,62.4 1022.9,61.5 1023.1,65.7 1023.4,66.5 1023.7,62.5 1024,64.3 1024.3,69.3 1024.6,70.7 1024.9,63.4 1025.2,65.8 1025.4,57.7 1025.7,61.1 1026,71.5 1026.3,62.6 1026.6,70 1026.9,62.5 1027.2,65.7 1027.5,59.2 1027.7,72.8 1028,63.2 1028.3,72.4 1028.6,69.5 1028.9,64.8 1029.2,67.8 1029.5,62.5 1029.7,63.5 1030,69.4 1030.3,60.1 1030.6,65.9 1030.9,65.2 1031.2,72.1 1031.5,68 1031.8,63.4 1032,66 1032.3,67.7 1032.6,74.4 1032.9,71.6 1033.2,77.3 1033.5,70.2 1033.8,74.5 1034.1,70.3 1034.3,71 1034.6,65.5 1034.9,73.5 1035.2,69.6 1035.5,73.9 1035.8,81.3 1036.1,81.8 1036.4,73.8 1036.6,72.6 1036.9,76 1037.2,75.1 1037.5,76.4 1037.8,71.2 1038.1,68.1 1038.4,78.9 1038.7,81.5 1038.9,80.3 1039.2,81.7 1039.5,77.8 1039.8,67.7 1040.1,74.4 1040.4,81.3 1040.7,75 1041,80.6 1041.2,74.3 1041.5,80.9 1041.8,73.4 1042.1,77.1 1042.4,82.7 1042.7,79.1 1043,69.3 1043.2,69.1 1043.5,79.9 1043.8,87.7 1044.1,81.9 1044.4,78.6 1044.7,73.4 1045,75.9 1045.3,78.5 1045.5,79.8 1045.8,76.3 1046.1,77.3 1046.4,77.4 1046.7,86 1047,84.3 1047.3,75.5 1047.6,78.6 1047.8,76.2 1048.1,82 1048.4,77.8 1048.7,83 1049,78.2 1049.3,87.2 1049.6,84.3 1049.9,76 1050.1,80.8 1050.4,81.4 1050.7,77.2 1051,74.6 1051.3,77.4 1051.6,72.3 1051.9,75.2 1052.2,78.2 1052.4,81.4 1052.7,78.3 1053,70.4 1053.3,79.6 1053.6,80.8 1053.9,74.1 1054.2,83.4 1054.4,84.8 1054.7,84.9 1055,79.9 1055.3,103.1 1055.6,85.3 1055.9,78.1 1056.2,83.3 1056.5,89.9 1056.7,77.5 1057,79.3 1057.3,81.1 1057.6,83.4 1057.9,80.7 1058.2,84 1058.5,83.6 1058.8,81.5 1059,79.7 1059.3,76.1 1059.6,77.3 1059.9,83.7 1060.2,80.8 1060.5,93 1060.8,84.9 1061.1,88 1061.3,75.5 1061.6,82.3 1061.9,73.2 1062.2,80.2 1062.5,81.5 1062.8,83.6 1063.1,91.3 1063.4,80.6 1063.6,76.9 1063.9,75.7 1064.2,74.8 1064.5,79.4 1064.8,70.6 1065.1,74.6 1065.4,85.2 1065.6,85.2 1065.9,79.9 1066.2,76.4 1066.5,74.6 1066.8,75.7 1067.1,75.9 1067.4,75.3 1067.7,81.1 1067.9,86.5 1068.2,73.7 1068.5,77.5 1068.8,77.6 1069.1,76.7 1069.4,74.9 1069.7,74.9 1070,79.3 1070.2,85.5 1070.5,71.9 1070.8,69.6 1071.1,79 1071.4,80.7 1071.7,69.8 1072,74.5 1072.3,88.3 1072.5,76.2 1072.8,85.2 1073.1,80.8 1073.4,71.1 1073.7,82.8 1074,81.5 1074.3,72.2 1074.6,81.7 1074.8,82.6 1075.1,77.7 1075.4,74.8 1075.7,69.7 1076,77.6 1076.3,63.7 1076.6,78.9 1076.9,89.1 1077.1,71.2 1077.4,83.2 1077.7,78 1078,71.9 1078.3,82.8 1078.6,70.3 1078.9,78.9 1079.1,70.8 1079.4,78.4 1079.7,70.9 1080,76.6 1080.3,91.7 1080.6,72 1080.9,70.2 1081.2,77.3 1081.4,73.9 1081.7,83.8 1082,76.1 1082.3,85.3 1082.6,70.3 1082.9,77.8 1083.2,68.8 1083.5,73.4 1083.7,67.6 1084,83.7 1084.3,78.3 1084.6,83.1 1084.9,68.3 1085.2,70.8 1085.5,79 1085.8,70.7 1086,75.3 1086.3,76.2 1086.6,78.7 1086.9,83.4 1087.2,80.2 1087.5,69.3 1087.8,72.9 1088.1,70.5 1088.3,73.2 1088.6,88.1 1088.9,66.2 1089.2,78.4 1089.5,65 1089.8,72.8 1090.1,75.2 1090.3,70.3 1090.6,77.3 1090.9,72.6 1091.2,69.3 1091.5,72.6 1091.8,71.7 1092.1,75.1 1092.4,69.2 1092.6,71 1092.9,75.1 1093.2,77.5 1093.5,72.2 1093.8,76.3 1094.1,76.8 1094.4,69.5 1094.7,70.7 1094.9,76.8 1095.2,72.4 1095.5,81.2 1095.8,70.8 1096.1,81.6 1096.4,67.1 1096.7,77.3 1097,78.5 1097.2,71.7 1097.5,79.2 1097.8,76.1 1098.1,72.2 1098.4,73.6 1098.7,67.1 1099,71.8 1099.3,67 1099.5,79.8 1099.8,74.9 1100.1,70.6 1100.4,74.7 1100.7,75.5 1101,75.8 1101.3,76.3 1101.5,76.8 1101.8,78.7 1102.1,68.9 1102.4,76.6 1102.7,68.7 1103,79.8 1103.3,73.9 1103.6,72.5 1103.8,72.3 1104.1,83.9 1104.4,77.3 1104.7,65.8 1105,68.1 1105.3,75.4 1105.6,78 1105.9,75.8 1106.1,73.6 1106.4,74.2 1106.7,76.3 1107,68.1 1107.3,62.9 1107.6,78.9 1107.9,70.7 1108.2,80.4 1108.4,75.2 1108.7,70.8 1109,70.4 1109.3,77.6 1109.6,69 1109.9,76 1110.2,76.2 1110.5,71.8 1110.7,78.4 1111,65.4 1111.3,82.4 1111.6,76.8 1111.9,71.3 1112.2,65.2 1112.5,78.5 1112.8,74.3 1113,78 1113.3,78.6 1113.6,70.1 1113.9,76.5 1114.2,71.6 1114.5,81.8 1114.8,78.3 1115,70.3 1115.3,74.2 1115.6,68.2 1115.9,65.1 1116.2,71 1116.5,70.8 1116.8,64.3 1117.1,68.5 1117.3,69 1117.6,81.3 1117.9,69.9 1118.2,74 1118.5,73.3 1118.8,70.1 1119.1,70.1 1119.4,69.9 1119.6,72.2 1119.9,71.9 1120.2,78.8 1120.5,75.4 1120.8,71.1 1121.1,75 1121.4,79 1121.7,71.1 1121.9,68.2 1122.2,75.9 1122.5,72.3 1122.8,73.2 1123.1,79.8 1123.4,68.5 1123.7,63 1124,83 1124.2,63.6 1124.5,71.6 1124.8,71.2 1125.1,81.2 1125.4,82.6 1125.7,69.3 1126,72.3 1126.2,74.9 1126.5,68.7 1126.8,77.6 1127.1,69.8 1127.4,72.3 1127.7,64 1128,69 1128.3,64.5 1128.5,69.9 1128.8,76.2 1129.1,77.7 1129.4,68.4 1129.7,74.6 1130,78.8 1130.3,72.5 1130.6,71.4 1130.8,69.8 1131.1,67.4 1131.4,68.6 1131.7,68.3 1132,70 1132.3,74.1 1132.6,74.7 1132.9,78.7 1133.1,74.6 1133.4,69.8 1133.7,70.1 1134,83.1 1134.3,76 1134.6,72.8 1134.9,68.5 1135.2,69.9 1135.4,66.6 1135.7,71.7 1136,78.6 1136.3,72.3 1136.6,82.6 1136.9,69.6 1137.2,68.8 1137.4,70.1 1137.7,69 1138,64 1138.3,76.5 1138.6,80.1 1138.9,81.4 1139.2,72 1139.5,75.9 1139.7,77.7 1140,77.2 1140.3,72.1 1140.6,85.4 1140.9,71.6 1141.2,74.2 1141.5,71.5 1141.8,66.1 1142,77.3 1142.3,68.1 1142.6,71.6 1142.9,79.8 1143.2,68.4 1143.5,66 1143.8,77.6 1144.1,70.7 1144.3,77.7 1144.6,72.7 1144.9,67.9 1145.2,71.9 1145.5,69.1 1145.8,68.9 1146.1,70.8 1146.4,69 1146.6,78.1 1146.9,65.3 1147.2,66 1147.5,73.5 1147.8,93.3 1148.1,72 1148.4,69.9 1148.7,74.6 1148.9,78.6 1149.2,67.9 1149.5,74.5 1149.8,65.7 1150.1,73.1 1150.4,72.8 1150.7,70.3 1150.9,68.1 1151.2,74.1 1151.5,74.2 1151.8,71.5 1152.1,77.4 1152.4,67.1 1152.7,68.5 1153,73.6 1153.2,70.4 1153.5,72.1 1153.8,69.3 1154.1,78.1 1154.4,72.2 1154.7,69 1155,71.1 1155.3,75.2 1155.5,72.3 1155.8,73.4 1156.1,73.9 1156.4,75.6 1156.7,74.5 1157,71 1157.3,71.7 1157.6,69.1 1157.8,72.5 1158.1,78.4 1158.4,75.3 1158.7,68.3 1159,73.9 1159.3,71.2 1159.6,76.6 1159.9,79.4 1160.1,69.2 1160.4,79.5 1160.7,67.4 1161,70.5 1161.3,76.8 1161.6,70.9 1161.9,64.2 1162.1,75.3 1162.4,74.1 1162.7,72.5 1163,61.6 1163.3,76.5 1163.6,74.7 1163.9,74.3 1164.2,74.5 1164.4,66.3 1164.7,68.2 1165,72.3 1165.3,68.4 1165.6,72.9 1165.9,75 1166.2,69.7 1166.5,71.7 1166.7,78.9 1167,70.7 1167.3,75.3 1167.6,64.6 1167.9,67.2 1168.2,66.9 1168.5,75.5 1168.8,73.9 1169,62.1 1169.3,67 1169.6,64.9 1169.9,73.1 1170.2,71.2 1170.5,76 1170.8,69.3 1171.1,72.9 1171.3,67.1 1171.6,79.5 1171.9,71.7 1172.2,71.7 1172.5,69.5 1172.8,77.6 1173.1,72.2 1173.3,67.2 1173.6,67.9 1173.9,69.5 1174.2,73.9 1174.5,66 1174.8,76 1175.1,70.4 1175.4,71.7 1175.6,74.7 1175.9,75.2 1176.2,66.6 1176.5,69.2 1176.8,71.3 1177.1,79.2 1177.4,69.3 1177.7,75.6 1177.9,73.6 1178.2,68.7 1178.5,69 1178.8,73.8 1179.1,72.7 1179.4,75.6 1179.7,76.1 1180,72.8 1180.2,72.6 1180.5,66.8 1180.8,68.3 1181.1,71.9 1181.4,70.8 1181.7,75.5 1182,75.3 1182.3,71.9 1182.5,78.7 1182.8,72.8 1183.1,85.9 1183.4,76.7 1183.7,79.8 1184,71.1 1184.3,75.1 1184.6,72.9 1184.8,76.6 1185.1,82.6 1185.4,71.7 1185.7,70.4 1186,73 1186.3,78.4 1186.6,71.5 1186.8,73 1187.1,75.6 1187.4,77.2 1187.7,82.6 1188,71.1 1188.3,81.5 1188.6,75.1 1188.9,80.6 1189.1,78.8 1189.4,80.5 1189.7,71.6 1190,76.5 1190.3,76.7 1190.6,80.2 1190.9,73.4 1191.2,78.9 1191.4,78.5 1191.7,75.3 1192,79.3 1192.3,68.6 1192.6,73.5 1192.9,75.5 1193.2,80.2 1193.5,75.1 1193.7,78.5 1194,76.8 1194.3,74.3 1194.6,72.1 1194.9,74.6 1195.2,76.5 1195.5,76.2 1195.8,88.5 1196,73.4 1196.3,72.8 1196.6,73 1196.9,76.4 1197.2,78.4 1197.5,76.7 1197.8,74.8 1198,75 1198.3,76.5 1198.6,75.9 1198.9,81.6 1199.2,72.4 1199.5,77.7 1199.8,79.5 1200.1,81.2 1200.3,87.3 1200.6,79.8 1200.9,71.3 1201.2,74.5 1201.5,78.9 1201.8,79 1202.1,67.4 1202.4,77.9 1202.6,80.1 1202.9,74.2 1203.2,73.3 1203.5,85.3 1203.8,79.5 1204.1,77.8 1204.4,76 1204.7,89.9 1204.9,82.3 1205.2,83.8 1205.5,71.9 1205.8,74.5 1206.1,81.4 1206.4,79.1 1206.7,86.4 1207,79.8 1207.2,81.1 1207.5,70.4 1207.8,77.9 1208.1,81.6 1208.4,87.1 1208.7,84.6 1209,76.7 1209.2,74.1 1209.5,91.9 1209.8,69 1210.1,79.4 1210.4,86.7 1210.7,76.5 1211,81.5 1211.3,77.2 1211.5,83.6 1211.8,78.1 1212.1,82.4 1212.4,83.5 1212.7,76.6 1213,83 1213.3,80.1 1213.6,83.4 1213.8,75.4 1214.1,81 1214.4,82.5 1214.7,79.8 1215,82.2 1215.3,74.9 1215.6,85.5 1215.9,87.5 1216.1,85.4 1216.4,84.7 1216.7,79.1 1217,81.9 1217.3,81.3 1217.6,77 1217.9,81.6 1218.2,84 1218.4,85.4 1218.7,77.4 1219,81.7 1219.3,78.9 1219.6,74.7 1219.9,80.3 1220.2,75.8 1220.5,76.7 1220.7,82.2 1221,82.4 1221.3,79.3 1221.6,75 1221.9,79 1222.2,77.1 1222.5,77.6 1222.7,80.1 1223,80.7 1223.3,92.5 1223.6,79.9 1223.9,81 1224.2,81.8 1224.5,82.5 1224.8,77.3 1225,84.3 1225.3,85.3 1225.6,87 1225.9,77.7 1226.2,80.6 1226.5,78 1226.8,77.9 1227.1,64.9 1227.3,74.4 1227.6,80.2 1227.9,80.2 1228.2,81.7 1228.5,77.8 1228.8,78.3 1229.1,83.1 1229.4,76.6 1229.6,79 1229.9,75.4 1230.2,81.8 1230.5,77.2 1230.8,75.6 1231.1,76.7 1231.4,84.9 1231.7,80.3 1231.9,81.7 1232.2,76.5 1232.5,79.8 1232.8,83.4 1233.1,82.6 1233.4,78.6 1233.7,80.9 1233.9,80.2 1234.2,83.4 1234.5,80.6 1234.8,88.1 1235.1,82.9 1235.4,78.2 1235.7,81.5 1236,75.7 1236.2,84.1 1236.5,78.8 1236.8,84.2 1237.1,75.3 1237.4,82.9 1237.7,81.7 1238,72.8 1238.3,82.3 1238.5,74.7 1238.8,77 1239.1,83.7 1239.4,67.7 1239.7,78.2 1240,76.4 1240.3,79.8 1240.6,86.5 1240.8,76.7 1241.1,78.8 1241.4,76.3 1241.7,77.9 1242,72.5 1242.3,82.1 1242.6,76.8 1242.9,80.7 1243.1,76.8 1243.4,74.7 1243.7,78.6 1244,76.4 1244.3,76.2 1244.6,82.2 1244.9,74 1245.1,81.3 1245.4,74.9 1245.7,73.1 1246,71.1 1246.3,80.5 1246.6,79.5 1246.9,75.1 1247.2,81.1 1247.4,74.9 1247.7,81.2 1248,74.8 1248.3,78.4 1248.6,72 1248.9,79 1249.2,79.5 1249.5,77.9 1249.7,79.9 1250,79.6 1250.3,74.2 1250.6,72 1250.9,77.7 1251.2,75.2 1251.5,75.1 1251.8,77.7 1252,74.2 1252.3,83.5 1252.6,80.9 1252.9,74.7 1253.2,84.8 1253.5,74.9 1253.8,75.5 1254.1,77.6 1254.3,77 1254.6,71.7 1254.9,71.2 1255.2,70 1255.5,71.2 1255.8,76.4 1256.1,75.8 1256.4,75.2 1256.6,72.2 1256.9,72.1 1257.2,66.8 1257.5,75.8 1257.8,70.8 1258.1,74.6 1258.4,74.4 1258.6,67.5 1258.9,73 1259.2,74.6 1259.5,69.1 1259.8,68.1 1260.1,70.6 1260.4,67.3 1260.7,67 1260.9,68.7 1261.2,74.9 1261.5,72.3 1261.8,71.5 1262.1,68.2 1262.4,89.7 1262.7,64.8 1263,66.2 1263.2,58.6 1263.5,68.8 1263.8,73.5 1264.1,63.6 1264.4,70.8 1264.7,73 1265,70.7 1265.3,67.3 1265.5,63.1 1265.8,64.4 1266.1,64.2 1266.4,67.5 1266.7,75.9 1267,68.6 1267.3,72.9 1267.6,64 1267.8,72.7 1268.1,66 1268.4,69.8 1268.7,66.7 1269,66.3 1269.3,67.3 1269.6,76 1269.8,69.7 1270.1,65.6 1270.4,75 1270.7,69.4 1271,68.3 1271.3,72 1271.6,67.9 1271.9,68.9 1272.1,64.5 1272.4,70.5 1272.7,70.9 1273,67.7 1273.3,64.6 1273.6,63.7 1273.9,66.1 1274.2,69.4 1274.4,63.7 1274.7,65.8 1275,65.9 1275.3,65.4 1275.6,69.9 1275.9,78.8 1276.2,65 1276.5,70.9 1276.7,64.1 1277,68.9 1277.3,64.5 1277.6,67.7 1277.9,65.3 1278.2,66.2 1278.5,68.1 1278.8,60.1 1279,67.9 1279.3,65.8 1279.6,63.6 1279.9,61.3 1280.2,67.8 1280.5,69.3 1280.8,67.9 1281,68.9 1281.3,66.5 1281.6,67.4 1281.9,69.8 1282.2,61.3 1282.5,65.9 1282.8,67 1283.1,66.7 1283.3,70.9 1283.6,65 1283.9,70 1284.2,56.9 1284.5,65.4 1284.8,68.4 1285.1,65.4 1285.4,70.1 1285.6,63.4 1285.9,65.2 1286.2,65.8 1286.5,70.1 1286.8,65.3 1287.1,65 1287.4,67.6 1287.7,63.1 1287.9,73.9 1288.2,68.1 1288.5,61.2 1288.8,63 1289.1,65.8 1289.4,62.9 1289.7,62.7 1290,61.8 1290.2,66.6 1290.5,69.3 1290.8,67.5 1291.1,70.6 1291.4,64.6 1291.7,65.5 1292,63 1292.3,65.5 1292.5,69.5 1292.8,61.8 1293.1,63.5 1293.4,67.5 1293.7,60 1294,63.9 1294.3,74.6 1294.5,67 1294.8,66.2 1295.1,63.6 1295.4,59 1295.7,62.8 1296,67.7 1296.3,59.8 1296.6,57.9 1296.8,65.8 1297.1,68.7 1297.4,62.2 1297.7,59.2 1298,65.7 1298.3,67.9 1298.6,65.5 1298.9,66.9 1299.1,60.6 1299.4,67.2 1299.7,67.3 1300,63.8 1300.3,66.2 1300.6,66.1 1300.9,73.1 1301.2,60.9 1301.4,68.4 1301.7,61.4 1302,64 1302.3,62.8 1302.6,63.3 1302.9,58.7 1303.2,68.1 1303.5,67.6 1303.7,63.4 1304,62.2 1304.3,69.3 1304.6,67.8 1304.9,66.1 1305.2,65.2 1305.5,65.9 1305.7,64.9 1306,64 1306.3,68.5 1306.6,66.5 1306.9,62.5 1307.2,70.8 1307.5,65.8 1307.8,57.4 1308,62.3 1308.3,60.3 1308.6,63 1308.9,68 1309.2,67.4 1309.5,61.5 1309.8,65.2 1310.1,68.9 1310.3,71 1310.6,64.5 1310.9,67.6 1311.2,62.1 1311.5,63.4 1311.8,64.2 1312.1,60.8 1312.4,61.5 1312.6,69.8 1312.9,61.1 1313.2,61.6 1313.5,64 1313.8,60.1 1314.1,61.2 1314.4,68.9 1314.7,67.4 1314.9,62.4 1315.2,61.5 1315.5,63.4 1315.8,68.5 1316.1,64.4 1316.4,58.9 1316.7,67.7 1316.9,66.1 1317.2,65 1317.5,61.3 1317.8,62.8 1318.1,65.4 1318.4,65.7 1318.7,62.6 1319,60.4 1319.2,64.7 1319.5,62.3 1319.8,61.6 1320.1,60.3 1320.4,70.3 1320.7,65.9 1321,63.1 1321.3,66.9 1321.5,62.3 1321.8,58.8 1322.1,63.4 1322.4,70 1322.7,62 1323,68.6 1323.3,68.6 1323.6,68.1 1323.8,62.1 1324.1,65.8 1324.4,58.2 1324.7,65.2 1325,79.9 1325.3,67.7 1325.6,69.1 1325.9,63.2 1326.1,64.4 1326.4,58.4 1326.7,65.1 1327,61.5 1327.3,59.7 1327.6,62.7 1327.9,63.1 1328.2,64.4 1328.4,66.5 1328.7,61.2 1329,61.7 1329.3,64.7 1329.6,60.6 1329.9,69.7 1330.2,66 1330.4,64.1 1330.7,66.6 1331,69.3 1331.3,59.3 1331.6,55.2 1331.9,63.4 1332.2,60.8 1332.5,63.3 1332.7,65.5 1333,61.2 1333.3,62.8 1333.6,65.3 1333.9,70.7 1334.2,65.6 1334.5,68.3 1334.8,65.7 1335,67.5 1335.3,68.5 1335.6,66.3 1335.9,62.3 1336.2,60.7 1336.5,65.1 1336.8,65.2 1337.1,63.5 1337.3,64.5 1337.6,63.4 1337.9,64.1 1338.2,67.3 1338.5,59.1 1338.8,63.9 1339.1,65.9 1339.4,75.2 1339.6,66 1339.9,61.8 1340.2,63.6 1340.5,67.7 1340.8,61.5 1341.1,68 1341.4,60.9 1341.6,62.2 1341.9,64.1 1342.2,64 1342.5,61.3 1342.8,63.6 1343.1,62.6 1343.4,62.4 1343.7,66.1 1343.9,65.7 1344.2,60.6 1344.5,62.2 1344.8,61.3 1345.1,62 1345.4,60.7 1345.7,66 1346,63.3 1346.2,68.3 1346.5,63.4 1346.8,67.9 1347.1,60.5 1347.4,60.8 1347.7,68.7 1348,59.8 1348.3,61.3 1348.5,67 1348.8,67.3 1349.1,66.6 1349.4,63.8 1349.7,71 1350,64.1 1350.3,60.2 1350.6,60.3 1350.8,66.9 1351.1,60 1351.4,61.9 1351.7,59.4 1352,61.9 1352.3,66.9 1352.6,58.6 1352.8,67.5 1353.1,65.1 1353.4,58.4 1353.7,62.4 1354,61.9 1354.3,63 1354.6,61.7 1354.9,65.5 1355.1,63.8 1355.4,69.2 1355.7,59.3 1356,62.2 1356.3,65.8 1356.6,66.4 1356.9,64.1 1357.2,60.9 1357.4,58.2 1357.7,65.4 1358,57.6 1358.3,60 1358.6,63.8 1358.9,66.1 1359.2,65.9 1359.5,60.6 1359.7,62.6 1360,68.8 1360.3,62.7 1360.6,65.6 1360.9,61 1361.2,60.1 1361.5,67.1 1361.8,66.1 1362,66 1362.3,60.7 1362.6,70.8 1362.9,74.9 1363.2,65.3 1363.5,63.2 1363.8,58.3 1364.1,62 1364.3,65.4 1364.6,70.3 1364.9,57.8 1365.2,63.6 1365.5,69.3 1365.8,61 1366.1,63.2 1366.3,66.9 1366.6,70.2 1366.9,68.7 1367.2,62.6 1367.5,65.6 1367.8,69 1368.1,59.5 1368.4,65.5 1368.6,57.6 1368.9,62.7 1369.2,62.8 1369.5,62.5 1369.8,65.6 1370.1,59.6 1370.4,62.3 1370.7,75.2 1370.9,64.9 1371.2,59.9 1371.5,62.9 1371.8,66.6 1372.1,62.4 1372.4,61.2 1372.7,69.9 1373,65.1 1373.2,64 1373.5,63.9 1373.8,61 1374.1,54.2 1374.4,60.1 1374.7,65.4 1375,59.2 1375.3,65.4 1375.5,63.2 1375.8,64.5 1376.1,55.1 1376.4,55.3 1376.7,67.2 1377,54.7 1377.3,59.5 1377.5,50.1 1377.8,58.6 1378.1,60.5 1378.4,65.3 1378.7,60.2 1379,64.7 1379.3,64 1379.6,66.4 1379.8,64.4 1380.1,59.8 1380.4,63 1380.7,67.5 1381,62.7 1381.3,66 1381.6,61.3 1381.9,64.9 1382.1,60.9 1382.4,63.2 1382.7,54.1 1383,65.5 1383.3,60.2 1383.6,62 1383.9,62.5 1384.2,63.6 1384.4,64.2 1384.7,61.4 1385,66.9 1385.3,63.7 1385.6,58.6 1385.9,59.7 1386.2,60.8 1386.5,67.7 1386.7,63.6 1387,65.2 1387.3,62.9 1387.6,60.6 1387.9,63.2 1388.2,58.4 1388.5,67.7 1388.7,65.4 1389,69.4 1389.3,63.4 1389.6,64.6 1389.9,66.6 1390.2,60.3 1390.5,60.6 1390.8,61.2 1391,62.1 1391.3,59.6 1391.6,67.2 1391.9,59.5 1392.2,61.8 1392.5,58.4 1392.8,64.4 1393.1,62.6 1393.3,61.6 1393.6,64.8 1393.9,65.5 1394.2,63.7 1394.5,61.5 1394.8,70.2 1395.1,60 1395.4,61.8 1395.6,65.7 1395.9,66 1396.2,62.8 1396.5,67.8 1396.8,64.6 1397.1,64 1397.4,62.2 1397.7,62.3 1397.9,61.3 1398.2,64.8 1398.5,58.8 1398.8,61.8 1399.1,62.8 1399.4,65.3 1399.7,69.7 1400,61.6 1400.2,66.3 1400.5,57.3 1400.8,64.8 1401.1,52.4 1401.4,64.5 1401.7,57 1402,60.7 1402.2,63 1402.5,63.3 1402.8,65.7 1403.1,62.6 1403.4,65.4 1403.7,62.4 1404,58.8 1404.3,60.2 1404.5,64.3 1404.8,68.5 1405.1,62.1 1405.4,65.9 1405.7,66.3 1406,61.8 1406.3,64.4 1406.6,59.7 1406.8,65 1407.1,62.7 1407.4,62.7 1407.7,63.3 1408,68.1 1408.3,68.8 1408.6,62.2 1408.9,60.6 1409.1,63.2 1409.4,62 1409.7,56.7 1410,67.3 1410.3,63.7 1410.6,64.5 1410.9,64.9 1411.2,64.8 1411.4,67.7 1411.7,63.6 1412,62.6 1412.3,62.9" stroke="#0000ff" stroke-width="3.6" stroke-linejoin="miter" stroke-miterlimit="2"/>
<polyline fill="none" points="837.9,352.6 838.2,352.9 838.5,330.7 838.8,330.8 839,348.5 839.3,336.8 839.6,317.6 839.9,354.8 840.2,337.4 840.5,366.5 840.8,294.4 841.1,338.3 841.3,337.4 841.6,347.5 841.9,356 842.2,350.4 842.5,362.3 842.8,350.6 843.1,355.2 843.4,335.6 843.6,356.9 843.9,320.5 844.2,322.4 844.5,352.3 844.8,353.2 845.1,332.1 845.4,337.7 845.7,363.6 845.9,351.4 846.2,349.5 846.5,324.1 846.8,345.6 847.1,331.6 847.4,336.5 847.7,331.5 848,361.7 848.2,323.9 848.5,333.9 848.8,350.4 849.1,349.4 849.4,341 849.7,340.8 850,357.8 850.2,326 850.5,359.9 850.8,327.9 851.1,357.6 851.4,332.8 851.7,347.4 852,339.3 852.3,344.7 852.5,283.9 852.8,354 853.1,334.3 853.4,339.1 853.7,347 854,323.5 854.3,318.5 854.6,346.5 854.8,353.2 855.1,347 855.4,351.9 855.7,334.4 856,342.8 856.3,312.3 856.6,343.7 856.9,331 857.1,355.3 857.4,359.3 857.7,338.9 858,341.8 858.3,361.2 858.6,328.7 858.9,360.4 859.2,326.5 859.4,339.2 859.7,347.6 860,363 860.3,319.9 860.6,350.4 860.9,344.6 861.2,341 861.5,325 861.7,344.7 862,323.9 862.3,355.3 862.6,360 862.9,327.9 863.2,386.3 863.5,347.3 863.7,349.3 864,332.4 864.3,325.4 864.6,347.3 864.9,371.8 865.2,340.2 865.5,348.4 865.8,330.2 866,337.9 866.3,337.7 866.6,330.2 866.9,351.8 867.2,351.3 867.5,350.6 867.8,341.3 868.1,325.5 868.3,349.1 868.6,308.9 868.9,329.8 869.2,362.1 869.5,324.5 869.8,333.2 870.1,343.8 870.4,359.9 870.6,342.1 870.9,325.1 871.2,322.9 871.5,330.5 871.8,324.4 872.1,332.8 872.4,339.4 872.7,323 872.9,343.4 873.2,322.5 873.5,354.4 873.8,371.9 874.1,335.4 874.4,361.1 874.7,342.5 874.9,336.9 875.2,323.1 875.5,350.3 875.8,350.1 876.1,336.7 876.4,321.6 876.7,367 877,348.9 877.2,305.8 877.5,326.6 877.8,335.4 878.1,351.6 878.4,372.2 878.7,338.9 879,358.9 879.3,338.1 879.5,328.7 879.8,320 880.1,365.1 880.4,344.4 880.7,331.5 881,344.9 881.3,352.1 881.6,343.8 881.8,354 882.1,333.4 882.4,322.4 882.7,340.4 883,372 883.3,338.6 883.6,345.8 883.9,341.8 884.1,377.7 884.4,357.8 884.7,359.8 885,327 885.3,351.5 885.6,332.1 885.9,336.4 886.1,347.5 886.4,342.4 886.7,370.4 887,308.4 887.3,352.2 887.6,341.3 887.9,342 888.2,367.3 888.4,350.1 888.7,340 889,324.8 889.3,344.9 889.6,350 889.9,337.9 890.2,338.1 890.5,339.1 890.7,349.8 891,330.7 891.3,341.6 891.6,350.1 891.9,337.6 892.2,328.3 892.5,348.5 892.8,337.2 893,323.7 893.3,324.4 893.6,347.4 893.9,368.1 894.2,359.6 894.5,332.8 894.8,330.1 895.1,326.4 895.3,365.2 895.6,348.5 895.9,326.5 896.2,353 896.5,342.1 896.8,342.7 897.1,361.7 897.4,340.3 897.6,347.2 897.9,365 898.2,329 898.5,326.6 898.8,337.5 899.1,354.3 899.4,342.9 899.6,341.1 899.9,337.3 900.2,339.6 900.5,328.6 900.8,309.6 901.1,354.8 901.4,327.1 901.7,321.6 901.9,355.9 902.2,338.5 902.5,342.4 902.8,328.6 903.1,332.4 903.4,348.9 903.7,342.4 904,350.3 904.2,333.9 904.5,379.7 904.8,329.8 905.1,373.7 905.4,338.1 905.7,323.9 906,373.6 906.3,337.4 906.5,356.3 906.8,344.8 907.1,302 907.4,323.9 907.7,307.2 908,321.2 908.3,329.7 908.6,347 908.8,321.6 909.1,355.4 909.4,342.6 909.7,338.4 910,324.1 910.3,344.9 910.6,374 910.8,342.1 911.1,342.7 911.4,327.7 911.7,342 912,318.8 912.3,359.3 912.6,334.1 912.9,352.5 913.1,365.1 913.4,337.9 913.7,361.1 914,304.7 914.3,342.9 914.6,355.8 914.9,339.2 915.2,357.4 915.4,321.3 915.7,337 916,343.2 916.3,340.3 916.6,316.9 916.9,336.1 917.2,322.8 917.5,336.4 917.7,344.4 918,335.7 918.3,363.3 918.6,353.4 918.9,351.7 919.2,332.7 919.5,334.9 919.8,323.5 920,318.8 920.3,353.3 920.6,337.4 920.9,333.1 921.2,334.4 921.5,323.5 921.8,326.8 922,341.7 922.3,364.2 922.6,359.4 922.9,381.1 923.2,344 923.5,352.8 923.8,348.7 924.1,391.6 924.3,345.8 924.6,340.7 924.9,360.1 925.2,356.6 925.5,364.3 925.8,332.6 926.1,351.9 926.4,354.2 926.6,343.4 926.9,321.4 927.2,347.2 927.5,345.5 927.8,351.9 928.1,347 928.4,334.4 928.7,346.3 928.9,336.2 929.2,334.8 929.5,333.8 929.8,327.7 930.1,332.9 930.4,372.2 930.7,365.9 931,320.6 931.2,341.6 931.5,328.2 931.8,358.2 932.1,333.9 932.4,314 932.7,337.1 933,333.6 933.3,334.4 933.5,338.1 933.8,323.1 934.1,331.1 934.4,344 934.7,337 935,334.2 935.3,327.9 935.5,336.3 935.8,345.6 936.1,312.7 936.4,355.2 936.7,319.5 937,341.4 937.3,339.8 937.6,342.5 937.8,355.2 938.1,343.2 938.4,339.5 938.7,348.9 939,364 939.3,345.1 939.6,362.7 939.9,339.3 940.1,352 940.4,342.5 940.7,355.5 941,327 941.3,335 941.6,322.3 941.9,330.1 942.2,346.7 942.4,343 942.7,349.6 943,311.8 943.3,338.4 943.6,339.6 943.9,350.3 944.2,327.1 944.5,336.5 944.7,327.9 945,316.4 945.3,336.2 945.6,340.3 945.9,345.3 946.2,344.3 946.5,343.8 946.7,363.3 947,339.4 947.3,344.8 947.6,335.6 947.9,373.4 948.2,344.8 948.5,355.6 948.8,332.3 949,347.6 949.3,353.1 949.6,326.7 949.9,332 950.2,353 950.5,346.7 950.8,335.7 951.1,329 951.3,315.4 951.6,333.6 951.9,328.2 952.2,325.5 952.5,350.6 952.8,319.8 953.1,363.8 953.4,347.9 953.6,339.1 953.9,368.5 954.2,332.1 954.5,321 954.8,331.1 955.1,345.4 955.4,351.9 955.7,348 955.9,344 956.2,346.6 956.5,333.9 956.8,335 957.1,345.9 957.4,342.3 957.7,330.7 957.9,323 958.2,344.6 958.5,328.4 958.8,332 959.1,341.5 959.4,335.3 959.7,344.9 960,343.6 960.2,327.8 960.5,340.4 960.8,325.3 961.1,364.8 961.4,329.2 961.7,326.7 962,336.2 962.3,325.2 962.5,327.8 962.8,315.8 963.1,335 963.4,312.9 963.7,322.3 964,363 964.3,314.3 964.6,305.5 964.8,334.5 965.1,317.2 965.4,315.7 965.7,362.9 966,321.4 966.3,299.3 966.6,327.9 966.9,327.7 967.1,299.8 967.4,319.6 967.7,339.8 968,332.6 968.3,317.8 968.6,312.6 968.9,297 969.2,318.5 969.4,322 969.7,302.1 970,318.3 970.3,310.8 970.6,317.5 970.9,313.7 971.2,310.5 971.4,290.9 971.7,301.6 972,309.4 972.3,331 972.6,301.6 972.9,302.2 973.2,291.6 973.5,282.2 973.7,316.6 974,330.1 974.3,316.8 974.6,313.7 974.9,307 975.2,299.3 975.5,314.5 975.8,313.5 976,312.7 976.3,313.9 976.6,316.2 976.9,303.6 977.2,308.7 977.5,291.7 977.8,309.2 978.1,316.1 978.3,290.4 978.6,312.4 978.9,321.4 979.2,315.8 979.5,318.3 979.8,324.9 980.1,300.2 980.4,310.1 980.6,298.4 980.9,278 981.2,292 981.5,303 981.8,308.8 982.1,280.6 982.4,312.1 982.6,327.3 982.9,316.7 983.2,335.8 983.5,341.4 983.8,293.9 984.1,276.3 984.4,306.8 984.7,333.7 984.9,316.5 985.2,306.9 985.5,302.3 985.8,314.6 986.1,346.4 986.4,283.8 986.7,315.1 987,350.9 987.2,323.1 987.5,288.8 987.8,297.4 988.1,286.8 988.4,313.3 988.7,337.1 989,329.4 989.3,280.5 989.5,295.6 989.8,308.1 990.1,292.4 990.4,320.3 990.7,301.6 991,309.4 991.3,295.7 991.6,304.2 991.8,276.7 992.1,284.9 992.4,305.2 992.7,305.6 993,310.7 993.3,283.3 993.6,299.4 993.8,292.5 994.1,298.3 994.4,312.9 994.7,279.6 995,305.3 995.3,299.8 995.6,306.7 995.9,281.5 996.1,303.1 996.4,276.4 996.7,301.1 997,322 997.3,297.8 997.6,298.9 997.9,311.6 998.2,310.6 998.4,280.2 998.7,284.7 999,291 999.3,283 999.6,320.9 999.9,300.1 1000.2,323.3 1000.5,301.6 1000.7,313.4 1001,304.2 1001.3,299.5 1001.6,340.3 1001.9,318.8 1002.2,313.9 1002.5,304.2 1002.8,282.2 1003,338 1003.3,306.7 1003.6,318.1 1003.9,289.2 1004.2,301.8 1004.5,295.1 1004.8,318 1005.1,299.1 1005.3,302.8 1005.6,265.8 1005.9,306.7 1006.2,288.2 1006.5,288 1006.8,298 1007.1,286.3 1007.3,331.8 1007.6,273.4 1007.9,247.1 1008.2,294.9 1008.5,299.4 1008.8,308.6 1009.1,281.5 1009.4,296.3 1009.6,290 1009.9,307.7 1010.2,292 1010.5,291.9 1010.8,297.2 1011.1,278.1 1011.4,301.4 1011.7,306.4 1011.9,267 1012.2,339.9 1012.5,280.2 1012.8,320.7 1013.1,347.3 1013.4,318.5 1013.7,320 1014,294 1014.2,280.3 1014.5,319.5 1014.8,305.4 1015.1,309.8 1015.4,330.1 1015.7,293.9 1016,361.8 1016.3,296.7 1016.5,279.6 1016.8,300.1 1017.1,266.6 1017.4,303.7 1017.7,283.8 1018,312.8 1018.3,283.5 1018.5,305.6 1018.8,346.6 1019.1,311.8 1019.4,272.1 1019.7,330.9 1020,305.7 1020.3,290 1020.6,275.2 1020.8,289.9 1021.1,280 1021.4,280.1 1021.7,298 1022,317.4 1022.3,287 1022.6,285 1022.9,328.9 1023.1,300.6 1023.4,299.1 1023.7,274.4 1024,323.8 1024.3,290.5 1024.6,345.8 1024.9,301.5 1025.2,285.8 1025.4,322.1 1025.7,307.1 1026,288.8 1026.3,281.1 1026.6,317.2 1026.9,305.7 1027.2,304 1027.5,291 1027.7,302.1 1028,318.9 1028.3,318.1 1028.6,288.5 1028.9,327.7 1029.2,304 1029.5,290.7 1029.7,291.5 1030,313 1030.3,322.1 1030.6,289.9 1030.9,285.5 1031.2,316.1 1031.5,292.3 1031.8,259.9 1032,288.3 1032.3,327.5 1032.6,340.6 1032.9,292.8 1033.2,273.9 1033.5,292.3 1033.8,315.4 1034.1,312.4 1034.3,300.5 1034.6,317.9 1034.9,307.4 1035.2,295.5 1035.5,321.8 1035.8,300.7 1036.1,345.6 1036.4,269.1 1036.6,300 1036.9,339.5 1037.2,286.7 1037.5,298.3 1037.8,338.6 1038.1,315.1 1038.4,298.3 1038.7,312.1 1038.9,277.3 1039.2,338.8 1039.5,280.2 1039.8,308.1 1040.1,326.4 1040.4,284.5 1040.7,311.9 1041,313.2 1041.2,291.6 1041.5,270.4 1041.8,307.6 1042.1,311.3 1042.4,348.5 1042.7,305.3 1043,285.5 1043.2,268.9 1043.5,291.4 1043.8,303.6 1044.1,330.3 1044.4,307.8 1044.7,300.9 1045,323 1045.3,311.5 1045.5,290.5 1045.8,292.8 1046.1,287 1046.4,293.3 1046.7,312.8 1047,314.1 1047.3,289.8 1047.6,282.1 1047.8,317.6 1048.1,358.8 1048.4,289.2 1048.7,277.7 1049,348.6 1049.3,320.1 1049.6,329.4 1049.9,320.7 1050.1,306.6 1050.4,257.8 1050.7,310.2 1051,315.5 1051.3,313.2 1051.6,311.6 1051.9,306.2 1052.2,341.6 1052.4,308.3 1052.7,322.2 1053,330.1 1053.3,302.7 1053.6,317.7 1053.9,290.5 1054.2,338.5 1054.4,285.3 1054.7,308.8 1055,277.5 1055.3,299.7 1055.6,300.7 1055.9,299.6 1056.2,313.5 1056.5,299.9 1056.7,292.7 1057,293.9 1057.3,308.4 1057.6,296.4 1057.9,292.8 1058.2,334.4 1058.5,305.3 1058.8,314.1 1059,302.9 1059.3,281.1 1059.6,320.1 1059.9,307.8 1060.2,352.4 1060.5,320 1060.8,342.9 1061.1,329.4 1061.3,277.7 1061.6,287.4 1061.9,298.8 1062.2,296.8 1062.5,291.2 1062.8,312.6 1063.1,309.3 1063.4,309.4 1063.6,317 1063.9,320.5 1064.2,283.6 1064.5,279.7 1064.8,302.9 1065.1,304.3 1065.4,307.4 1065.6,305.7 1065.9,285.3 1066.2,276 1066.5,307 1066.8,271 1067.1,294.1 1067.4,279.9 1067.7,319.6 1067.9,288 1068.2,295.7 1068.5,299.6 1068.8,314.5 1069.1,303.8 1069.4,299.5 1069.7,288.5 1070,294.1 1070.2,306.6 1070.5,321.7 1070.8,256.2 1071.1,296.9 1071.4,298.5 1071.7,276.1 1072,318.2 1072.3,314.7 1072.5,301.7 1072.8,316.2 1073.1,319.2 1073.4,299.3 1073.7,366.7 1074,308.3 1074.3,291.3 1074.6,318.2 1074.8,327.2 1075.1,303.8 1075.4,300.8 1075.7,330 1076,373.6 1076.3,305.5 1076.6,299 1076.9,310.4 1077.1,291.9 1077.4,321.5 1077.7,307.9 1078,303.1 1078.3,313.6 1078.6,302.8 1078.9,290.6 1079.1,313.1 1079.4,331.2 1079.7,331.5 1080,354.5 1080.3,270.1 1080.6,329.6 1080.9,315 1081.2,294.2 1081.4,283.8 1081.7,312.6 1082,311 1082.3,309.4 1082.6,312.7 1082.9,315.1 1083.2,323.4 1083.5,295.3 1083.7,311 1084,317.4 1084.3,301.9 1084.6,314.2 1084.9,298 1085.2,321.5 1085.5,320.3 1085.8,315.3 1086,282.5 1086.3,301.6 1086.6,298.2 1086.9,324.7 1087.2,352.3 1087.5,305 1087.8,295.2 1088.1,297.4 1088.3,318.2 1088.6,289 1088.9,316.3 1089.2,315.3 1089.5,320.7 1089.8,271.8 1090.1,307.6 1090.3,286.7 1090.6,346.6 1090.9,322.4 1091.2,334 1091.5,326.5 1091.8,292.5 1092.1,312.8 1092.4,305.4 1092.6,291.6 1092.9,308.3 1093.2,303 1093.5,307.4 1093.8,315.6 1094.1,293.4 1094.4,320.3 1094.7,303.9 1094.9,311 1095.2,293.7 1095.5,285 1095.8,298.2 1096.1,287.5 1096.4,326.5 1096.7,312.9 1097,299.5 1097.2,281.4 1097.5,314.2 1097.8,318.1 1098.1,310.5 1098.4,311.5 1098.7,287.2 1099,313.3 1099.3,302.4 1099.5,311.8 1099.8,315.1 1100.1,282.2 1100.4,294.2 1100.7,363.3 1101,281.3 1101.3,289.8 1101.5,306.1 1101.8,341.7 1102.1,310.7 1102.4,321.1 1102.7,307.2 1103,278.5 1103.3,328.7 1103.6,341.8 1103.8,313.8 1104.1,317.3 1104.4,269.6 1104.7,311.9 1105,324.8 1105.3,290 1105.6,296.4 1105.9,291.1 1106.1,319.7 1106.4,302.5 1106.7,343.2 1107,295.6 1107.3,297 1107.6,310 1107.9,286.4 1108.2,323.7 1108.4,301.3 1108.7,315.1 1109,326.1 1109.3,363.3 1109.6,314.5 1109.9,317.3 1110.2,296.9 1110.5,309.4 1110.7,331.2 1111,309.7 1111.3,294 1111.6,344 1111.9,297.6 1112.2,350.8 1112.5,310.5 1112.8,334.2 1113,313.7 1113.3,347.8 1113.6,278.3 1113.9,294.1 1114.2,309.4 1114.5,309.5 1114.8,286.1 1115,298.8 1115.3,291.4 1115.6,318.8 1115.9,288.5 1116.2,292.1 1116.5,295.2 1116.8,316.9 1117.1,320.7 1117.3,333.1 1117.6,285.8 1117.9,324.2 1118.2,288.5 1118.5,320.9 1118.8,290.8 1119.1,295.3 1119.4,314.1 1119.6,307.2 1119.9,309.3 1120.2,299.6 1120.5,299 1120.8,306.8 1121.1,311.5 1121.4,311.4 1121.7,303.4 1121.9,294 1122.2,301.3 1122.5,319.3 1122.8,287.9 1123.1,296 1123.4,307.9 1123.7,290.3 1124,303.4 1124.2,291.7 1124.5,327.8 1124.8,325.1 1125.1,314.1 1125.4,321.3 1125.7,318.9 1126,275.9 1126.2,294.6 1126.5,300.5 1126.8,325.2 1127.1,301.8 1127.4,286 1127.7,314.5 1128,269.5 1128.3,291.2 1128.5,326.1 1128.8,292.4 1129.1,288.2 1129.4,311.3 1129.7,297.6 1130,280.7 1130.3,322.3 1130.6,309.5 1130.8,281.5 1131.1,301.3 1131.4,323.7 1131.7,334.2 1132,293 1132.3,297.5 1132.6,285.4 1132.9,298.4 1133.1,342.4 1133.4,319.9 1133.7,290.8 1134,326.9 1134.3,319.8 1134.6,350 1134.9,306.8 1135.2,326.1 1135.4,312.5 1135.7,279.1 1136,306.9 1136.3,325 1136.6,334 1136.9,341.5 1137.2,300.9 1137.4,328.5 1137.7,295.9 1138,301.9 1138.3,324.4 1138.6,281.3 1138.9,328.6 1139.2,292.1 1139.5,352.3 1139.7,323.7 1140,340.5 1140.3,320.2 1140.6,307.6 1140.9,308.2 1141.2,299.9 1141.5,293.4 1141.8,295.7 1142,340.4 1142.3,281.2 1142.6,284.9 1142.9,310 1143.2,297.4 1143.5,294.6 1143.8,281.2 1144.1,308.7 1144.3,265.1 1144.6,330.3 1144.9,301.7 1145.2,282.1 1145.5,314.7 1145.8,300.3 1146.1,349.8 1146.4,314.2 1146.6,335.1 1146.9,303.3 1147.2,320.2 1147.5,309.3 1147.8,296.4 1148.1,349.2 1148.4,280.3 1148.7,304.2 1148.9,302.9 1149.2,308.1 1149.5,310.8 1149.8,285.6 1150.1,285.1 1150.4,308.5 1150.7,313 1150.9,329.4 1151.2,307.8 1151.5,296.5 1151.8,296.9 1152.1,307.1 1152.4,317.1 1152.7,297 1153,343.1 1153.2,296.9 1153.5,318 1153.8,331.1 1154.1,302.3 1154.4,285.3 1154.7,289.7 1155,318.5 1155.3,289.9 1155.5,360.4 1155.8,317.4 1156.1,310.3 1156.4,297.4 1156.7,313.4 1157,313.8 1157.3,291.4 1157.6,312 1157.8,309.2 1158.1,302.5 1158.4,313.6 1158.7,332.6 1159,301.6 1159.3,324.9 1159.6,291.5 1159.9,297.8 1160.1,339.4 1160.4,300.5 1160.7,311.8 1161,308.5 1161.3,303.7 1161.6,288.7 1161.9,324.2 1162.1,327.9 1162.4,292.1 1162.7,318.2 1163,324.6 1163.3,313.6 1163.6,316.2 1163.9,317.8 1164.2,270.2 1164.4,292.9 1164.7,272 1165,290.9 1165.3,276.7 1165.6,303.7 1165.9,309.8 1166.2,306.3 1166.5,310 1166.7,309.6 1167,309.3 1167.3,327 1167.6,314.9 1167.9,338.4 1168.2,336.1 1168.5,293.1 1168.8,341.4 1169,310.5 1169.3,326 1169.6,289.7 1169.9,351 1170.2,305.6 1170.5,298.1 1170.8,296.3 1171.1,342.2 1171.3,314.7 1171.6,280.1 1171.9,294.1 1172.2,311.7 1172.5,272.6 1172.8,299.6 1173.1,312.4 1173.3,327.6 1173.6,291.5 1173.9,363.3 1174.2,304.3 1174.5,264.4 1174.8,328.3 1175.1,284 1175.4,280.1 1175.6,323 1175.9,341.3 1176.2,308.8 1176.5,301 1176.8,312.9 1177.1,299.1 1177.4,334.8 1177.7,302.8 1177.9,298.1 1178.2,296.5 1178.5,304.2 1178.8,320.4 1179.1,364.6 1179.4,304.1 1179.7,304.8 1180,297.4 1180.2,302.7 1180.5,287.3 1180.8,295.1 1181.1,330.2 1181.4,345.9 1181.7,328.5 1182,308.9 1182.3,300.4 1182.5,301.8 1182.8,310 1183.1,304.3 1183.4,279.5 1183.7,314 1184,332.7 1184.3,324.3 1184.6,310.4 1184.8,337.6 1185.1,305.6 1185.4,329.9 1185.7,340.6 1186,298.5 1186.3,314.3 1186.6,327.9 1186.8,289.4 1187.1,278.6 1187.4,301 1187.7,305.4 1188,298.5 1188.3,307.5 1188.6,320.6 1188.9,309.8 1189.1,311.8 1189.4,298.8 1189.7,301.6 1190,302.2 1190.3,300.8 1190.6,287.1 1190.9,295.5 1191.2,298.7 1191.4,286.3 1191.7,287.5 1192,288 1192.3,288.3 1192.6,279.4 1192.9,265.6 1193.2,275.4 1193.5,258.9 1193.7,261 1194,257.8 1194.3,256.3 1194.6,257.7 1194.9,250.2 1195.2,250.1 1195.5,251.1 1195.8,245.3 1196,246.5 1196.3,248.2 1196.6,245.5 1196.9,242.4 1197.2,244.7 1197.5,237.8 1197.8,230.2 1198,237.9 1198.3,234.1 1198.6,234.6 1198.9,224.4 1199.2,231.3 1199.5,226.8 1199.8,221.4 1200.1,229.5 1200.3,223.5 1200.6,222 1200.9,218.5 1201.2,225.3 1201.5,220.7 1201.8,206.2 1202.1,216.4 1202.4,217.8 1202.6,211 1202.9,210.6 1203.2,208 1203.5,206.9 1203.8,203.2 1204.1,205.8 1204.4,197.8 1204.7,201.2 1204.9,196.8 1205.2,204.6 1205.5,196.5 1205.8,192.4 1206.1,202.2 1206.4,192.6 1206.7,195 1207,196.2 1207.2,192.1 1207.5,194.8 1207.8,189.6 1208.1,186.7 1208.4,187.7 1208.7,189.2 1209,193.2 1209.2,186.3 1209.5,177.9 1209.8,187.6 1210.1,183.8 1210.4,183.8 1210.7,181.9 1211,185.7 1211.3,179.1 1211.5,184.9 1211.8,182 1212.1,183.6 1212.4,179.5 1212.7,181.2 1213,178.4 1213.3,176 1213.6,184.1 1213.8,180 1214.1,176.6 1214.4,174.2 1214.7,180.9 1215,174.1 1215.3,179.1 1215.6,177.6 1215.9,181.3 1216.1,172.2 1216.4,170.4 1216.7,168.7 1217,171 1217.3,176.3 1217.6,174.8 1217.9,175.6 1218.2,168 1218.4,163 1218.7,175.9 1219,172 1219.3,169.3 1219.6,163.9 1219.9,170.5 1220.2,163.1 1220.5,168 1220.7,169.3 1221,175.9 1221.3,165.8 1221.6,171.6 1221.9,168.2 1222.2,161.9 1222.5,183.6 1222.7,167.8 1223,166.5 1223.3,155.5 1223.6,160.4 1223.9,171.6 1224.2,185.1 1224.5,170.2 1224.8,167.5 1225,168.4 1225.3,154.6 1225.6,171.1 1225.9,170.5 1226.2,165.6 1226.5,174.9 1226.8,157.4 1227.1,167.2 1227.3,172.8 1227.6,160.5 1227.9,169 1228.2,154.2 1228.5,169 1228.8,169.3 1229.1,170.9 1229.4,186.7 1229.6,184.4 1229.9,160.1 1230.2,160.5 1230.5,156.5 1230.8,180.1 1231.1,174 1231.4,194.9 1231.7,161.6 1231.9,162.1 1232.2,166.2 1232.5,179.5 1232.8,181.7 1233.1,176.4 1233.4,163.7 1233.7,169.5 1233.9,167.3 1234.2,174.7 1234.5,172.9 1234.8,164.4 1235.1,167.3 1235.4,159.2 1235.7,180.3 1236,158 1236.2,184.7 1236.5,161.7 1236.8,175.5 1237.1,178.4 1237.4,168.6 1237.7,178.3 1238,173.5 1238.3,151.7 1238.5,164.9 1238.8,182.7 1239.1,167.1 1239.4,161 1239.7,189.3 1240,170.4 1240.3,182.2 1240.6,166.9 1240.8,177.8 1241.1,160.5 1241.4,167.5 1241.7,158.5 1242,157.9 1242.3,150.7 1242.6,171.3 1242.9,171.2 1243.1,163 1243.4,150.5 1243.7,164.3 1244,183.4 1244.3,167.5 1244.6,163.6 1244.9,176.9 1245.1,175.1 1245.4,168.7 1245.7,152.6 1246,171.5 1246.3,167.6 1246.6,167.2 1246.9,181.1 1247.2,168.8 1247.4,167.1 1247.7,149.8 1248,173.7 1248.3,186.7 1248.6,176.9 1248.9,164.3 1249.2,180.3 1249.5,169.6 1249.7,163.6 1250,169.3 1250.3,172.7 1250.6,162.9 1250.9,174.2 1251.2,168.6 1251.5,164 1251.8,166.2 1252,177 1252.3,173.8 1252.6,167.5 1252.9,167.3 1253.2,175.7 1253.5,178.5 1253.8,165.8 1254.1,176.5 1254.3,179.4 1254.6,144.4 1254.9,175.1 1255.2,167.9 1255.5,172.1 1255.8,158.8 1256.1,166.7 1256.4,159.4 1256.6,147 1256.9,176.9 1257.2,152.1 1257.5,174.1 1257.8,157.7 1258.1,176.7 1258.4,158.1 1258.6,167.6 1258.9,157.2 1259.2,163.1 1259.5,165.4 1259.8,169.8 1260.1,155.9 1260.4,194.5 1260.7,176.9 1260.9,160.1 1261.2,170.4 1261.5,159.8 1261.8,170.4 1262.1,162.2 1262.4,158.5 1262.7,183.6 1263,171.5 1263.2,167.4 1263.5,168.3 1263.8,166.7 1264.1,171.4 1264.4,164.3 1264.7,161.4 1265,162.5 1265.3,171.4 1265.5,154.2 1265.8,179.3 1266.1,171.8 1266.4,172.2 1266.7,163.3 1267,161.3 1267.3,170 1267.6,150.9 1267.8,169.8 1268.1,177.6 1268.4,179.5 1268.7,169.9 1269,166 1269.3,163.7 1269.6,162.2 1269.8,170 1270.1,173.3 1270.4,176 1270.7,157.1 1271,160.3 1271.3,153.9 1271.6,157.5 1271.9,168.4 1272.1,168.5 1272.4,172.5 1272.7,177.2 1273,167.9 1273.3,168.2 1273.6,169.2 1273.9,154.6 1274.2,159.2 1274.4,172.1 1274.7,160.6 1275,175.6 1275.3,159 1275.6,167.6 1275.9,154.9 1276.2,176.4 1276.5,176.7 1276.7,173.5 1277,149.5 1277.3,166.8 1277.6,161.2 1277.9,166.9 1278.2,170.7 1278.5,172.9 1278.8,153.8 1279,160.4 1279.3,154.4 1279.6,151.8 1279.9,164 1280.2,185.4 1280.5,173.9 1280.8,177.5 1281,157.8 1281.3,167.9 1281.6,175.8 1281.9,164.6 1282.2,163.2 1282.5,173.7 1282.8,166 1283.1,167 1283.3,161.3 1283.6,165.3 1283.9,184.6 1284.2,166 1284.5,164.3 1284.8,188.3 1285.1,166.1 1285.4,196.2 1285.6,163.3 1285.9,163.9 1286.2,174.6 1286.5,151.5 1286.8,181.9 1287.1,154.9 1287.4,171.9 1287.7,169.7 1287.9,179.8 1288.2,163.5 1288.5,168.9 1288.8,164.2 1289.1,158.6 1289.4,169.8 1289.7,167.6 1290,154.3 1290.2,168.1 1290.5,158.2 1290.8,170.1 1291.1,164.4 1291.4,160.9 1291.7,167 1292,147.3 1292.3,161.9 1292.5,154.3 1292.8,162.2 1293.1,177.6 1293.4,165.5 1293.7,167.5 1294,151.7 1294.3,181.1 1294.5,183.2 1294.8,187.3 1295.1,167.5 1295.4,168.4 1295.7,176.3 1296,177.8 1296.3,166.7 1296.6,165.3 1296.8,172 1297.1,162.6 1297.4,166.1 1297.7,159.7 1298,157.2 1298.3,175.3 1298.6,161.4 1298.9,172.6 1299.1,164.9 1299.4,157.8 1299.7,164.4 1300,171.2 1300.3,163.5 1300.6,160 1300.9,172.5 1301.2,175.3 1301.4,164.3 1301.7,176.3 1302,166.6 1302.3,173.9 1302.6,159.8 1302.9,178.3 1303.2,179.8 1303.5,171.8 1303.7,155.8 1304,169.1 1304.3,161.6 1304.6,164.4 1304.9,169.3 1305.2,166.6 1305.5,181 1305.7,162.8 1306,170 1306.3,169.2 1306.6,172.2 1306.9,170.7 1307.2,143.8 1307.5,171.7 1307.8,165.8 1308,179.3 1308.3,172.3 1308.6,171.7 1308.9,185.5 1309.2,154.4 1309.5,172.6 1309.8,170.6 1310.1,181.4 1310.3,158.5 1310.6,167.4 1310.9,178.6 1311.2,172.1 1311.5,172.7 1311.8,152.8 1312.1,168.5 1312.4,164.3 1312.6,175.2 1312.9,178.7 1313.2,164.1 1313.5,175.3 1313.8,162.3 1314.1,173 1314.4,183.4 1314.7,174.4 1314.9,183.5 1315.2,173.8 1315.5,170.6 1315.8,177.5 1316.1,168.8 1316.4,163.4 1316.7,171.8 1316.9,185.5 1317.2,150.6 1317.5,165.1 1317.8,173.1 1318.1,161.8 1318.4,159.9 1318.7,155.5 1319,186.1 1319.2,173.3 1319.5,177.4 1319.8,171.6 1320.1,162.3 1320.4,165.4 1320.7,167.5 1321,169.8 1321.3,161.5 1321.5,183.2 1321.8,169.7 1322.1,175.1 1322.4,164.4 1322.7,168.5 1323,169.8 1323.3,172.8 1323.6,160.6 1323.8,177.4 1324.1,171.8 1324.4,179.8 1324.7,163.3 1325,172.1 1325.3,157.4 1325.6,179.9 1325.9,171.9 1326.1,170.1 1326.4,169.4 1326.7,160.8 1327,170 1327.3,163.8 1327.6,171.1 1327.9,165.2 1328.2,175.7 1328.4,167.8 1328.7,170.3 1329,164.2 1329.3,168.9 1329.6,144.3 1329.9,161.2 1330.2,163.3 1330.4,161.7 1330.7,168.9 1331,181.5 1331.3,166.3 1331.6,157.9 1331.9,178.4 1332.2,169.4 1332.5,165 1332.7,161.5 1333,168.3 1333.3,167.3 1333.6,166.3 1333.9,166.7 1334.2,159.7 1334.5,162.8 1334.8,168.8 1335,155.9 1335.3,173.3 1335.6,172.6 1335.9,176.2 1336.2,166.9 1336.5,175.4 1336.8,169.6 1337.1,180.3 1337.3,155.2 1337.6,167 1337.9,172.2 1338.2,166.6 1338.5,164.8 1338.8,182.7 1339.1,157.6 1339.4,175.8 1339.6,180 1339.9,181.2 1340.2,181.8 1340.5,157 1340.8,187.6 1341.1,162.2 1341.4,160.1 1341.6,177.6 1341.9,181 1342.2,170 1342.5,176.1 1342.8,179.7 1343.1,172.7 1343.4,168.4 1343.7,172.6 1343.9,175.1 1344.2,158.6 1344.5,184.4 1344.8,171.8 1345.1,170.5 1345.4,169.9 1345.7,157.3 1346,177.9 1346.2,172 1346.5,164.3 1346.8,165.5 1347.1,175.9 1347.4,187.1 1347.7,171.2 1348,178.2 1348.3,170.9 1348.5,164.1 1348.8,159.1 1349.1,162.6 1349.4,160.8 1349.7,177.8 1350,173.5 1350.3,164.5 1350.6,155.1 1350.8,163.7 1351.1,157.6 1351.4,170.7 1351.7,168 1352,171.4 1352.3,161.8 1352.6,172.5 1352.8,180.8 1353.1,168 1353.4,177.9 1353.7,169 1354,176.5 1354.3,158.6 1354.6,161.8 1354.9,168.1 1355.1,190 1355.4,182.3 1355.7,171.7 1356,168.9 1356.3,171.5 1356.6,183.5 1356.9,153 1357.2,171.8 1357.4,174.1 1357.7,175 1358,165.6 1358.3,164.3 1358.6,168.7 1358.9,173.7 1359.2,167.3 1359.5,170.4 1359.7,163.7 1360,167 1360.3,170.8 1360.6,192.1 1360.9,171.1 1361.2,157.5 1361.5,168 1361.8,159.7 1362,155 1362.3,155 1362.6,153.4 1362.9,172.6 1363.2,179.1 1363.5,183.6 1363.8,183.3 1364.1,184.7 1364.3,186.9 1364.6,166.8 1364.9,181.6 1365.2,176.7 1365.5,164.2 1365.8,162.2 1366.1,169.5 1366.3,155.3 1366.6,151.7 1366.9,169.5 1367.2,165.6 1367.5,165.3 1367.8,177.3 1368.1,187.6 1368.4,159.5 1368.6,168.7 1368.9,172.2 1369.2,164 1369.5,169.3 1369.8,169.7 1370.1,178.4 1370.4,168.1 1370.7,156.7 1370.9,167.7 1371.2,164.9 1371.5,169.4 1371.8,161 1372.1,178.5 1372.4,175 1372.7,169.9 1373,165.5 1373.2,163.3 1373.5,173.7 1373.8,173.6 1374.1,147.4 1374.4,158.9 1374.7,176.5 1375,172.3 1375.3,163.9 1375.5,167.1 1375.8,175.8 1376.1,164 1376.4,172.6 1376.7,155.1 1377,170.2 1377.3,163.7 1377.5,188.2 1377.8,175.3 1378.1,159.5 1378.4,172 1378.7,177.2 1379,157.1 1379.3,181.6 1379.6,163.5 1379.8,178.6 1380.1,172.3 1380.4,190 1380.7,196.6 1381,165.2 1381.3,166.3 1381.6,167.2 1381.9,159.5 1382.1,164.6 1382.4,160.3 1382.7,170.5 1383,173.5 1383.3,168.9 1383.6,169.2 1383.9,172.3 1384.2,152 1384.4,167.3 1384.7,157.7 1385,165.1 1385.3,170.5 1385.6,177.6 1385.9,172.9 1386.2,172.2 1386.5,171 1386.7,160.9 1387,160.6 1387.3,161.2 1387.6,172.4 1387.9,170.1 1388.2,161.5 1388.5,166.5 1388.7,189.7 1389,165.9 1389.3,153.2 1389.6,157.4 1389.9,195.2 1390.2,159.5 1390.5,169.7 1390.8,181.6 1391,199.9 1391.3,149.1 1391.6,163.5 1391.9,152.3 1392.2,165.5 1392.5,175.2 1392.8,162.3 1393.1,160.7 1393.3,160.6 1393.6,177.4 1393.9,163 1394.2,174.6 1394.5,164.4 1394.8,175.6 1395.1,175.5 1395.4,189.6 1395.6,145.7 1395.9,164.4 1396.2,162.8 1396.5,173.9 1396.8,169.7 1397.1,180 1397.4,178.9 1397.7,169.7 1397.9,191.5 1398.2,184.9 1398.5,165.1 1398.8,160.3 1399.1,166.7 1399.4,203.1 1399.7,147.5 1400,188.3 1400.2,175.8 1400.5,176.8 1400.8,169.8 1401.1,170 1401.4,153.5 1401.7,166.6 1402,165.3 1402.2,175 1402.5,162 1402.8,157.6 1403.1,172.1 1403.4,150.2 1403.7,167.1 1404,171.5 1404.3,153.8 1404.5,156.1 1404.8,168.5 1405.1,164.9 1405.4,162 1405.7,166.5 1406,160.9 1406.3,177.5 1406.6,176.4 1406.8,176.8 1407.1,162.6 1407.4,165.9 1407.7,179.3 1408,181.4 1408.3,166.3 1408.6,172.8 1408.9,169 1409.1,175 1409.4,177.8 1409.7,171.1 1410,160.4 1410.3,165.4 1410.6,179 1410.9,168.7 1411.2,162.5 1411.4,176.2 1411.7,167.2 1412,173.4 1412.3,151.4" stroke="#ffff00" stroke-width="3.0" stroke-linejoin="miter" stroke-miterlimit="2"/>
<rect x="837.9" y="37.4" width="574.4" height="401.6" fill="none" stroke="#1a1a1a" stroke-width="1.35"/>
<path d="M952.8 439v-16M952.8 37.4v16M1067.7 439v-16M1067.7 37.4v16M1182.5 439v-16M1182.5 37.4v16M1297.4 439v-16M1297.4 37.4v16M895.3 439v-6.2M895.3 37.4v6.2M1010.2 439v-6.2M1010.2 37.4v6.2M1125.1 439v-6.2M1125.1 37.4v6.2M1240 439v-6.2M1240 37.4v6.2M1354.9 439v-6.2M1354.9 37.4v6.2M837.9 358.7h11.3M1412.3 358.7h-11.3M837.9 278.4h11.3M1412.3 278.4h-11.3M837.9 198h11.3M1412.3 198h-11.3M837.9 117.7h11.3M1412.3 117.7h-11.3M837.9 398.8h6M1412.3 398.8h-6M837.9 318.5h6M1412.3 318.5h-6M837.9 238.2h6M1412.3 238.2h-6M837.9 157.9h6M1412.3 157.9h-6M837.9 77.6h6M1412.3 77.6h-6" stroke="#1a1a1a" stroke-width="1.5" fill="none"/>
<text transform="translate(838.4,466) scale(0.975,1.04)" font-family="Liberation Serif" stroke="#000" stroke-width="0.3" font-size="23" text-anchor="middle">0</text>
<text transform="translate(953.3,466) scale(0.975,1.04)" font-family="Liberation Serif" stroke="#000" stroke-width="0.3" font-size="23" text-anchor="middle">200</text>
<text transform="translate(1068.2,466) scale(0.975,1.04)" font-family="Liberation Serif" stroke="#000" stroke-width="0.3" font-size="23" text-anchor="middle">400</text>
<text transform="translate(1183,466) scale(0.975,1.04)" font-family="Liberation Serif" stroke="#000" stroke-width="0.3" font-size="23" text-anchor="middle">600</text>
<text transform="translate(1297.9,466) scale(0.975,1.04)" font-family="Liberation Serif" stroke="#000" stroke-width="0.3" font-size="23" text-anchor="middle">800</text>
<text transform="translate(1412.8,466) scale(0.975,1.04)" font-family="Liberation Serif" stroke="#000" stroke-width="0.3" font-size="23" text-anchor="middle">1000</text>
<text transform="translate(832.2,447) scale(0.98,1.07)" font-family="Liberation Serif" stroke="#000" stroke-width="0.3" font-size="23.2" text-anchor="end">0</text>
<text transform="translate(832.2,366.7) scale(0.98,1.07)" font-family="Liberation Serif" stroke="#000" stroke-width="0.3" font-size="23.2" text-anchor="end">0.2</text>
<text transform="translate(832.2,286.4) scale(0.98,1.07)" font-family="Liberation Serif" stroke="#000" stroke-width="0.3" font-size="23.2" text-anchor="end">0.4</text>
<text transform="translate(832.2,206) scale(0.98,1.07)" font-family="Liberation Serif" stroke="#000" stroke-width="0.3" font-size="23.2" text-anchor="end">0.6</text>
<text transform="translate(832.2,125.7) scale(0.98,1.07)" font-family="Liberation Serif" stroke="#000" stroke-width="0.3" font-size="23.2" text-anchor="end">0.8</text>
<text transform="translate(832.2,45.4) scale(0.98,1.07)" font-family="Liberation Serif" stroke="#000" stroke-width="0.3" font-size="23.2" text-anchor="end">1</text>
<text x="1125" y="498.8" font-family="Liberation Serif" stroke="#000" stroke-width="0.3" font-size="23.7" text-anchor="middle">Epoch</text>
<text transform="translate(789.6,238) rotate(-90)" x="0" y="0" font-family="Liberation Serif" stroke="#000" stroke-width="0.3" font-size="23.4" text-anchor="middle">Accuracy</text>
<path d="M1273.8 274.2h26.4" stroke="#000" stroke-width="3.6"/>
<text x="1312.2" y="282" font-family="Liberation Serif" stroke="#000" stroke-width="0.3" font-size="23">S=1</text>
<path d="M1273.8 307h26.4" stroke="#ff0000" stroke-width="3.6"/>
<text x="1312.2" y="314.8" font-family="Liberation Serif" stroke="#000" stroke-width="0.3" font-size="23">S=2</text>
<path d="M1273.8 339.8h26.4" stroke="#ffa500" stroke-width="3.6"/>
<text x="1312.2" y="347.6" font-family="Liberation Serif" stroke="#000" stroke-width="0.3" font-size="23">S=3</text>
<path d="M1273.8 372.6h26.4" stroke="#0000ff" stroke-width="3.6"/>
<text x="1312.2" y="380.4" font-family="Liberation Serif" stroke="#000" stroke-width="0.3" font-size="23">S=4</text>
<path d="M1273.8 405.4h26.4" stroke="#ffff00" stroke-width="3.6"/>
<text x="1312.2" y="413.2" font-family="Liberation Serif" stroke="#000" stroke-width="0.3" font-size="23">S=5</text>
</svg></body></html>
